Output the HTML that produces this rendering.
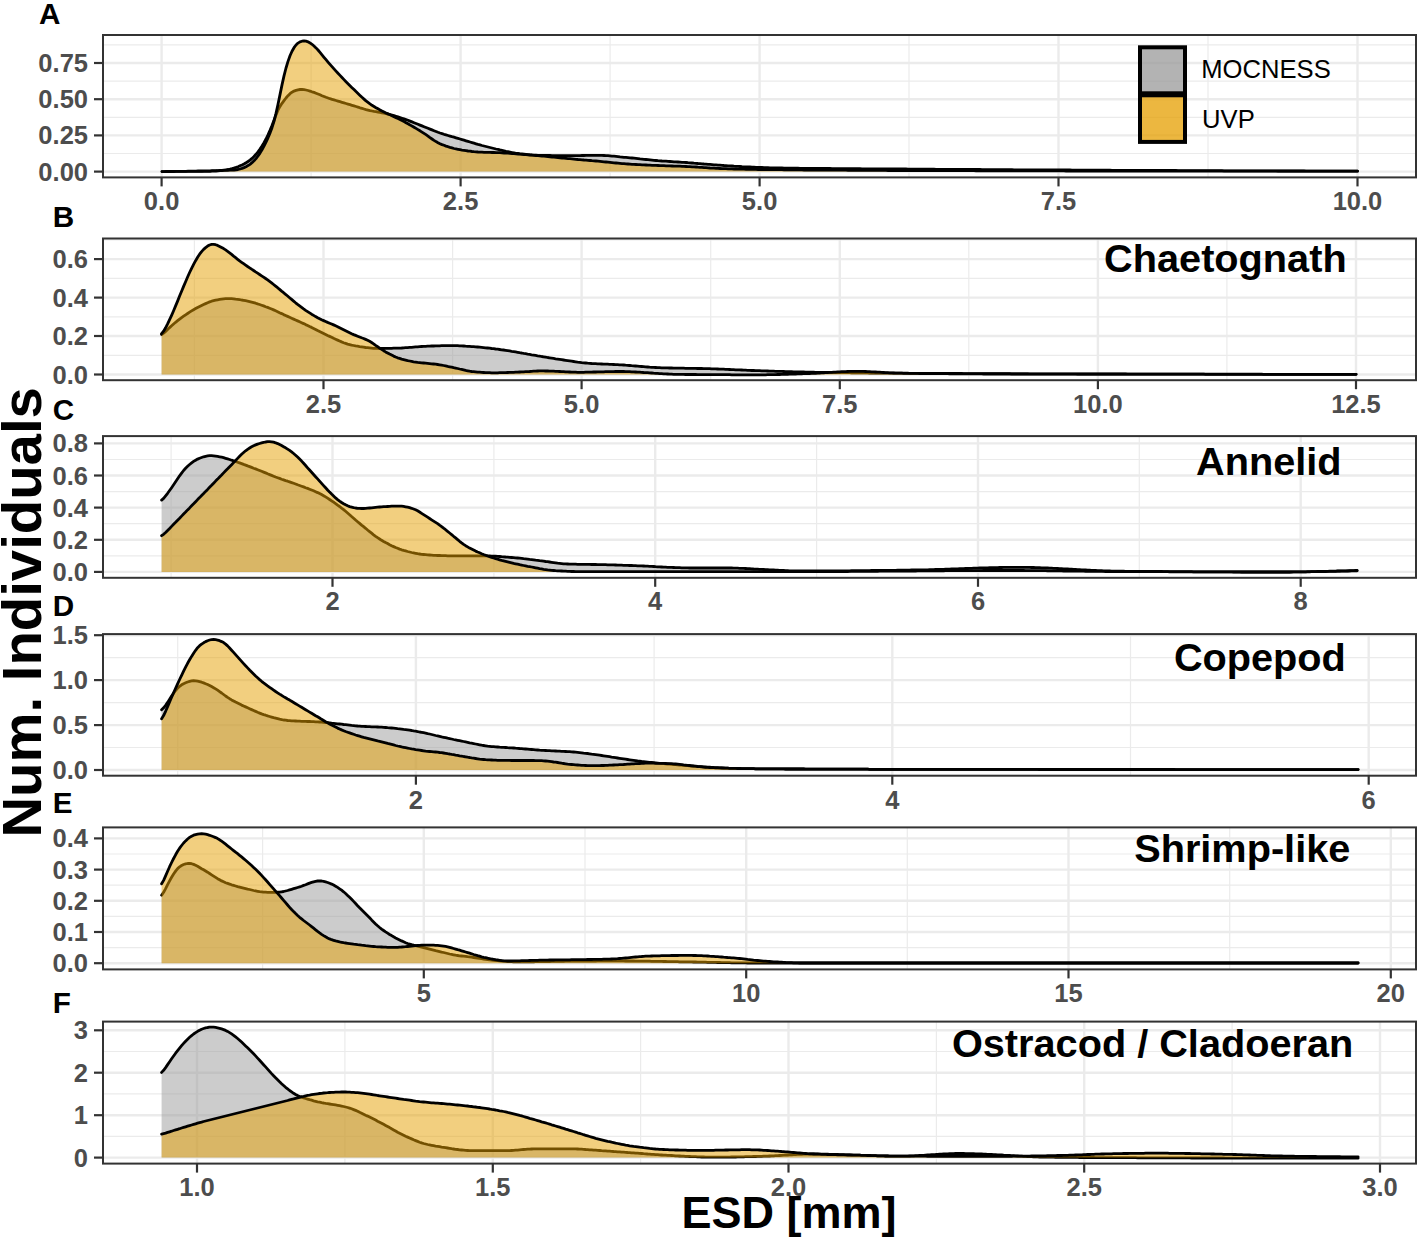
<!DOCTYPE html><html><head><meta charset="utf-8"><style>html,body{margin:0;padding:0;background:#fff;}svg{display:block;}text{font-family:"Liberation Sans",sans-serif;}</style></head><body>
<svg width="1418" height="1238" viewBox="0 0 1418 1238">
<rect width="1418" height="1238" fill="#fff"/>
<line x1="103" x2="1416" y1="153.5" y2="153.5" stroke="#EBEBEB" stroke-width="1.2"/>
<line x1="103" x2="1416" y1="117.3" y2="117.3" stroke="#EBEBEB" stroke-width="1.2"/>
<line x1="103" x2="1416" y1="81.1" y2="81.1" stroke="#EBEBEB" stroke-width="1.2"/>
<line x1="103" x2="1416" y1="44.9" y2="44.9" stroke="#EBEBEB" stroke-width="1.2"/>
<line y1="35.0" y2="177.4" x1="311.1" x2="311.1" stroke="#EBEBEB" stroke-width="1.2"/>
<line y1="35.0" y2="177.4" x1="610.1" x2="610.1" stroke="#EBEBEB" stroke-width="1.2"/>
<line y1="35.0" y2="177.4" x1="909.0" x2="909.0" stroke="#EBEBEB" stroke-width="1.2"/>
<line y1="35.0" y2="177.4" x1="1208.0" x2="1208.0" stroke="#EBEBEB" stroke-width="1.2"/>
<line x1="103" x2="1416" y1="171.6" y2="171.6" stroke="#EBEBEB" stroke-width="2.4"/>
<line x1="103" x2="1416" y1="135.4" y2="135.4" stroke="#EBEBEB" stroke-width="2.4"/>
<line x1="103" x2="1416" y1="99.2" y2="99.2" stroke="#EBEBEB" stroke-width="2.4"/>
<line x1="103" x2="1416" y1="63.0" y2="63.0" stroke="#EBEBEB" stroke-width="2.4"/>
<line y1="35.0" y2="177.4" x1="161.6" x2="161.6" stroke="#EBEBEB" stroke-width="2.4"/>
<line y1="35.0" y2="177.4" x1="460.6" x2="460.6" stroke="#EBEBEB" stroke-width="2.4"/>
<line y1="35.0" y2="177.4" x1="759.6" x2="759.6" stroke="#EBEBEB" stroke-width="2.4"/>
<line y1="35.0" y2="177.4" x1="1058.5" x2="1058.5" stroke="#EBEBEB" stroke-width="2.4"/>
<line y1="35.0" y2="177.4" x1="1357.5" x2="1357.5" stroke="#EBEBEB" stroke-width="2.4"/>
<path d="M162.0,171.6 L164.0,171.6 L166.0,171.5 L168.0,171.5 L170.0,171.5 L172.0,171.5 L174.0,171.5 L176.0,171.4 L178.0,171.4 L180.0,171.4 L182.0,171.4 L184.0,171.4 L186.0,171.3 L188.0,171.3 L190.0,171.3 L192.0,171.3 L194.0,171.3 L196.0,171.3 L198.0,171.3 L200.0,171.3 L202.0,171.3 L204.0,171.3 L206.0,171.3 L208.0,171.3 L210.0,171.3 L212.0,171.2 L214.0,171.1 L216.0,171.0 L218.0,170.8 L220.0,170.6 L222.0,170.4 L224.0,170.1 L226.0,169.8 L228.0,169.5 L230.0,169.1 L232.0,168.6 L234.0,168.0 L236.0,167.4 L238.0,166.7 L240.0,165.8 L242.0,165.0 L244.0,164.0 L246.0,162.8 L248.0,161.5 L250.0,160.1 L252.0,158.4 L254.0,156.5 L256.0,154.3 L258.0,151.8 L260.0,149.1 L262.0,146.0 L264.0,142.7 L266.0,139.0 L268.0,134.9 L270.0,130.4 L272.0,125.5 L274.0,120.2 L276.0,114.9 L278.0,110.2 L280.0,106.4 L282.0,103.3 L284.0,100.6 L286.0,98.0 L288.0,95.7 L290.0,93.7 L292.0,92.2 L294.0,91.1 L296.0,90.4 L298.0,89.8 L300.0,89.5 L302.0,89.4 L304.0,89.6 L306.0,90.0 L308.0,90.5 L310.0,91.1 L312.0,91.8 L314.0,92.4 L316.0,93.2 L318.0,94.0 L320.0,94.8 L322.0,95.7 L324.0,96.5 L326.0,97.3 L328.0,98.0 L330.0,98.7 L332.0,99.3 L334.0,99.9 L336.0,100.5 L338.0,101.1 L340.0,101.7 L342.0,102.3 L344.0,102.9 L346.0,103.5 L348.0,104.1 L350.0,104.7 L352.0,105.3 L354.0,105.9 L356.0,106.5 L358.0,107.1 L360.0,107.8 L362.0,108.4 L364.0,109.0 L366.0,109.6 L368.0,110.1 L370.0,110.6 L372.0,111.0 L374.0,111.4 L376.0,111.7 L378.0,112.1 L380.0,112.4 L382.0,112.8 L384.0,113.2 L386.0,113.7 L388.0,114.2 L390.0,114.7 L392.0,115.2 L394.0,115.7 L396.0,116.3 L398.0,116.9 L400.0,117.5 L402.0,118.2 L404.0,118.9 L406.0,119.6 L408.0,120.3 L410.0,121.1 L412.0,121.9 L414.0,122.7 L416.0,123.5 L418.0,124.3 L420.0,125.1 L422.0,125.9 L424.0,126.7 L426.0,127.5 L428.0,128.3 L430.0,129.1 L432.0,129.9 L434.0,130.7 L436.0,131.5 L438.0,132.3 L440.0,133.0 L442.0,133.6 L444.0,134.3 L446.0,134.9 L448.0,135.5 L450.0,136.1 L452.0,136.7 L454.0,137.2 L456.0,137.8 L458.0,138.4 L460.0,139.0 L462.0,139.6 L464.0,140.2 L466.0,140.8 L468.0,141.4 L470.0,142.0 L472.0,142.6 L474.0,143.2 L476.0,143.8 L478.0,144.4 L480.0,144.9 L482.0,145.5 L484.0,146.0 L486.0,146.5 L488.0,147.0 L490.0,147.5 L492.0,148.0 L494.0,148.5 L496.0,149.0 L498.0,149.4 L500.0,149.9 L502.0,150.3 L504.0,150.8 L506.0,151.3 L508.0,151.7 L510.0,152.1 L512.0,152.5 L514.0,152.9 L516.0,153.3 L518.0,153.5 L520.0,153.8 L522.0,154.0 L524.0,154.2 L526.0,154.4 L528.0,154.6 L530.0,154.8 L532.0,155.0 L534.0,155.1 L536.0,155.2 L538.0,155.3 L540.0,155.3 L542.0,155.4 L544.0,155.4 L546.0,155.5 L548.0,155.5 L550.0,155.5 L552.0,155.6 L554.0,155.6 L556.0,155.6 L558.0,155.6 L560.0,155.7 L562.0,155.7 L564.0,155.7 L566.0,155.7 L568.0,155.7 L570.0,155.7 L572.0,155.7 L574.0,155.7 L576.0,155.6 L578.0,155.6 L580.0,155.6 L582.0,155.5 L584.0,155.5 L586.0,155.4 L588.0,155.4 L590.0,155.4 L592.0,155.3 L594.0,155.3 L596.0,155.3 L598.0,155.3 L600.0,155.3 L602.0,155.4 L604.0,155.5 L606.0,155.6 L608.0,155.7 L610.0,155.9 L612.0,156.1 L614.0,156.2 L616.0,156.4 L618.0,156.6 L620.0,156.9 L622.0,157.1 L624.0,157.3 L626.0,157.4 L628.0,157.6 L630.0,157.8 L632.0,158.0 L634.0,158.2 L636.0,158.4 L638.0,158.6 L640.0,158.9 L642.0,159.1 L644.0,159.3 L646.0,159.5 L648.0,159.7 L650.0,159.9 L652.0,160.1 L654.0,160.3 L656.0,160.5 L658.0,160.7 L660.0,160.8 L662.0,161.0 L664.0,161.1 L666.0,161.2 L668.0,161.4 L670.0,161.5 L672.0,161.6 L674.0,161.8 L676.0,161.9 L678.0,162.0 L680.0,162.1 L682.0,162.3 L684.0,162.4 L686.0,162.5 L688.0,162.7 L690.0,162.8 L692.0,163.0 L694.0,163.2 L696.0,163.3 L698.0,163.5 L700.0,163.6 L702.0,163.8 L704.0,164.0 L706.0,164.1 L708.0,164.3 L710.0,164.4 L712.0,164.6 L714.0,164.8 L716.0,164.9 L718.0,165.1 L720.0,165.2 L722.0,165.3 L724.0,165.5 L726.0,165.6 L728.0,165.8 L730.0,165.9 L732.0,166.0 L734.0,166.2 L736.0,166.3 L738.0,166.4 L740.0,166.5 L742.0,166.7 L744.0,166.8 L746.0,166.9 L748.0,167.0 L750.0,167.0 L752.0,167.1 L754.0,167.2 L756.0,167.3 L758.0,167.4 L760.0,167.4 L762.0,167.5 L764.0,167.6 L766.0,167.7 L768.0,167.7 L770.0,167.8 L772.0,167.8 L774.0,167.9 L776.0,167.9 L778.0,168.0 L780.0,168.0 L782.0,168.0 L784.0,168.1 L786.0,168.1 L788.0,168.1 L790.0,168.1 L792.0,168.2 L794.0,168.2 L796.0,168.2 L798.0,168.2 L800.0,168.3 L802.0,168.3 L804.0,168.3 L806.0,168.3 L808.0,168.3 L810.0,168.4 L812.0,168.4 L814.0,168.4 L816.0,168.4 L818.0,168.4 L820.0,168.5 L822.0,168.5 L824.0,168.5 L826.0,168.5 L828.0,168.5 L830.0,168.5 L832.0,168.6 L834.0,168.6 L836.0,168.6 L838.0,168.6 L840.0,168.6 L842.0,168.6 L844.0,168.6 L846.0,168.7 L848.0,168.7 L850.0,168.7 L852.0,168.7 L854.0,168.7 L856.0,168.7 L858.0,168.7 L860.0,168.7 L862.0,168.8 L864.0,168.8 L866.0,168.8 L868.0,168.8 L870.0,168.8 L872.0,168.8 L874.0,168.8 L876.0,168.8 L878.0,168.9 L880.0,168.9 L882.0,168.9 L884.0,168.9 L886.0,168.9 L888.0,168.9 L890.0,168.9 L892.0,168.9 L894.0,169.0 L896.0,169.0 L898.0,169.0 L900.0,169.0 L902.0,169.0 L904.0,169.0 L906.0,169.0 L908.0,169.1 L910.0,169.1 L912.0,169.1 L914.0,169.1 L916.0,169.1 L918.0,169.1 L920.0,169.1 L922.0,169.2 L924.0,169.2 L926.0,169.2 L928.0,169.2 L930.0,169.2 L932.0,169.2 L934.0,169.2 L936.0,169.3 L938.0,169.3 L940.0,169.3 L942.0,169.3 L944.0,169.3 L946.0,169.3 L948.0,169.3 L950.0,169.3 L952.0,169.4 L954.0,169.4 L956.0,169.4 L958.0,169.4 L960.0,169.4 L962.0,169.4 L964.0,169.4 L966.0,169.5 L968.0,169.5 L970.0,169.5 L972.0,169.5 L974.0,169.5 L976.0,169.5 L978.0,169.5 L980.0,169.5 L982.0,169.6 L984.0,169.6 L986.0,169.6 L988.0,169.6 L990.0,169.6 L992.0,169.6 L994.0,169.6 L996.0,169.6 L998.0,169.7 L1000.0,169.7 L1002.0,169.7 L1004.0,169.7 L1006.0,169.7 L1008.0,169.7 L1010.0,169.7 L1012.0,169.7 L1014.0,169.8 L1016.0,169.8 L1018.0,169.8 L1020.0,169.8 L1022.0,169.8 L1024.0,169.8 L1026.0,169.8 L1028.0,169.8 L1030.0,169.8 L1032.0,169.9 L1034.0,169.9 L1036.0,169.9 L1038.0,169.9 L1040.0,169.9 L1042.0,169.9 L1044.0,169.9 L1046.0,169.9 L1048.0,169.9 L1050.0,169.9 L1052.0,170.0 L1054.0,170.0 L1056.0,170.0 L1058.0,170.0 L1060.0,170.0 L1062.0,170.0 L1064.0,170.0 L1066.0,170.0 L1068.0,170.0 L1070.0,170.0 L1072.0,170.1 L1074.0,170.1 L1076.0,170.1 L1078.0,170.1 L1080.0,170.1 L1082.0,170.1 L1084.0,170.1 L1086.0,170.1 L1088.0,170.1 L1090.0,170.1 L1092.0,170.2 L1094.0,170.2 L1096.0,170.2 L1098.0,170.2 L1100.0,170.2 L1102.0,170.2 L1104.0,170.2 L1106.0,170.2 L1108.0,170.2 L1110.0,170.2 L1112.0,170.3 L1114.0,170.3 L1116.0,170.3 L1118.0,170.3 L1120.0,170.3 L1122.0,170.3 L1124.0,170.3 L1126.0,170.3 L1128.0,170.3 L1130.0,170.3 L1132.0,170.3 L1134.0,170.4 L1136.0,170.4 L1138.0,170.4 L1140.0,170.4 L1142.0,170.4 L1144.0,170.4 L1146.0,170.4 L1148.0,170.4 L1150.0,170.4 L1152.0,170.4 L1154.0,170.5 L1156.0,170.5 L1158.0,170.5 L1160.0,170.5 L1162.0,170.5 L1164.0,170.5 L1166.0,170.5 L1168.0,170.5 L1170.0,170.5 L1172.0,170.5 L1174.0,170.5 L1176.0,170.5 L1178.0,170.6 L1180.0,170.6 L1182.0,170.6 L1184.0,170.6 L1186.0,170.6 L1188.0,170.6 L1190.0,170.6 L1192.0,170.6 L1194.0,170.6 L1196.0,170.6 L1198.0,170.6 L1200.0,170.7 L1202.0,170.7 L1204.0,170.7 L1206.0,170.7 L1208.0,170.7 L1210.0,170.7 L1212.0,170.7 L1214.0,170.7 L1216.0,170.7 L1218.0,170.7 L1220.0,170.7 L1222.0,170.7 L1224.0,170.8 L1226.0,170.8 L1228.0,170.8 L1230.0,170.8 L1232.0,170.8 L1234.0,170.8 L1236.0,170.8 L1238.0,170.8 L1240.0,170.8 L1242.0,170.8 L1244.0,170.8 L1246.0,170.8 L1248.0,170.8 L1250.0,170.9 L1252.0,170.9 L1254.0,170.9 L1256.0,170.9 L1258.0,170.9 L1260.0,170.9 L1262.0,170.9 L1264.0,170.9 L1266.0,170.9 L1268.0,170.9 L1270.0,170.9 L1272.0,170.9 L1274.0,170.9 L1276.0,170.9 L1278.0,171.0 L1280.0,171.0 L1282.0,171.0 L1284.0,171.0 L1286.0,171.0 L1288.0,171.0 L1290.0,171.0 L1292.0,171.0 L1294.0,171.0 L1296.0,171.0 L1298.0,171.0 L1300.0,171.0 L1302.0,171.0 L1304.0,171.0 L1306.0,171.1 L1308.0,171.1 L1310.0,171.1 L1312.0,171.1 L1314.0,171.1 L1316.0,171.1 L1318.0,171.1 L1320.0,171.1 L1322.0,171.1 L1324.0,171.1 L1326.0,171.1 L1328.0,171.1 L1330.0,171.1 L1332.0,171.1 L1334.0,171.1 L1336.0,171.1 L1338.0,171.1 L1340.0,171.2 L1342.0,171.2 L1344.0,171.2 L1346.0,171.2 L1348.0,171.2 L1350.0,171.2 L1352.0,171.2 L1354.0,171.2 L1356.0,171.2 L1357.5,171.2 L1357.5,171.6 L162.0,171.6 Z" fill="#999999" fill-opacity="0.5" stroke="none"/>
<path d="M162.0,171.6 L164.0,171.6 L166.0,171.5 L168.0,171.5 L170.0,171.5 L172.0,171.5 L174.0,171.5 L176.0,171.4 L178.0,171.4 L180.0,171.4 L182.0,171.4 L184.0,171.4 L186.0,171.3 L188.0,171.3 L190.0,171.3 L192.0,171.3 L194.0,171.3 L196.0,171.3 L198.0,171.3 L200.0,171.3 L202.0,171.3 L204.0,171.3 L206.0,171.3 L208.0,171.3 L210.0,171.3 L212.0,171.2 L214.0,171.1 L216.0,171.0 L218.0,170.8 L220.0,170.6 L222.0,170.4 L224.0,170.1 L226.0,169.8 L228.0,169.5 L230.0,169.1 L232.0,168.6 L234.0,168.0 L236.0,167.4 L238.0,166.7 L240.0,165.8 L242.0,165.0 L244.0,164.0 L246.0,162.8 L248.0,161.5 L250.0,160.1 L252.0,158.4 L254.0,156.5 L256.0,154.3 L258.0,151.8 L260.0,149.1 L262.0,146.0 L264.0,142.7 L266.0,139.0 L268.0,134.9 L270.0,130.4 L272.0,125.5 L274.0,120.2 L276.0,114.9 L278.0,110.2 L280.0,106.4 L282.0,103.3 L284.0,100.6 L286.0,98.0 L288.0,95.7 L290.0,93.7 L292.0,92.2 L294.0,91.1 L296.0,90.4 L298.0,89.8 L300.0,89.5 L302.0,89.4 L304.0,89.6 L306.0,90.0 L308.0,90.5 L310.0,91.1 L312.0,91.8 L314.0,92.4 L316.0,93.2 L318.0,94.0 L320.0,94.8 L322.0,95.7 L324.0,96.5 L326.0,97.3 L328.0,98.0 L330.0,98.7 L332.0,99.3 L334.0,99.9 L336.0,100.5 L338.0,101.1 L340.0,101.7 L342.0,102.3 L344.0,102.9 L346.0,103.5 L348.0,104.1 L350.0,104.7 L352.0,105.3 L354.0,105.9 L356.0,106.5 L358.0,107.1 L360.0,107.8 L362.0,108.4 L364.0,109.0 L366.0,109.6 L368.0,110.1 L370.0,110.6 L372.0,111.0 L374.0,111.4 L376.0,111.7 L378.0,112.1 L380.0,112.4 L382.0,112.8 L384.0,113.2 L386.0,113.7 L388.0,114.2 L390.0,114.7 L392.0,115.2 L394.0,115.7 L396.0,116.3 L398.0,116.9 L400.0,117.5 L402.0,118.2 L404.0,118.9 L406.0,119.6 L408.0,120.3 L410.0,121.1 L412.0,121.9 L414.0,122.7 L416.0,123.5 L418.0,124.3 L420.0,125.1 L422.0,125.9 L424.0,126.7 L426.0,127.5 L428.0,128.3 L430.0,129.1 L432.0,129.9 L434.0,130.7 L436.0,131.5 L438.0,132.3 L440.0,133.0 L442.0,133.6 L444.0,134.3 L446.0,134.9 L448.0,135.5 L450.0,136.1 L452.0,136.7 L454.0,137.2 L456.0,137.8 L458.0,138.4 L460.0,139.0 L462.0,139.6 L464.0,140.2 L466.0,140.8 L468.0,141.4 L470.0,142.0 L472.0,142.6 L474.0,143.2 L476.0,143.8 L478.0,144.4 L480.0,144.9 L482.0,145.5 L484.0,146.0 L486.0,146.5 L488.0,147.0 L490.0,147.5 L492.0,148.0 L494.0,148.5 L496.0,149.0 L498.0,149.4 L500.0,149.9 L502.0,150.3 L504.0,150.8 L506.0,151.3 L508.0,151.7 L510.0,152.1 L512.0,152.5 L514.0,152.9 L516.0,153.3 L518.0,153.5 L520.0,153.8 L522.0,154.0 L524.0,154.2 L526.0,154.4 L528.0,154.6 L530.0,154.8 L532.0,155.0 L534.0,155.1 L536.0,155.2 L538.0,155.3 L540.0,155.3 L542.0,155.4 L544.0,155.4 L546.0,155.5 L548.0,155.5 L550.0,155.5 L552.0,155.6 L554.0,155.6 L556.0,155.6 L558.0,155.6 L560.0,155.7 L562.0,155.7 L564.0,155.7 L566.0,155.7 L568.0,155.7 L570.0,155.7 L572.0,155.7 L574.0,155.7 L576.0,155.6 L578.0,155.6 L580.0,155.6 L582.0,155.5 L584.0,155.5 L586.0,155.4 L588.0,155.4 L590.0,155.4 L592.0,155.3 L594.0,155.3 L596.0,155.3 L598.0,155.3 L600.0,155.3 L602.0,155.4 L604.0,155.5 L606.0,155.6 L608.0,155.7 L610.0,155.9 L612.0,156.1 L614.0,156.2 L616.0,156.4 L618.0,156.6 L620.0,156.9 L622.0,157.1 L624.0,157.3 L626.0,157.4 L628.0,157.6 L630.0,157.8 L632.0,158.0 L634.0,158.2 L636.0,158.4 L638.0,158.6 L640.0,158.9 L642.0,159.1 L644.0,159.3 L646.0,159.5 L648.0,159.7 L650.0,159.9 L652.0,160.1 L654.0,160.3 L656.0,160.5 L658.0,160.7 L660.0,160.8 L662.0,161.0 L664.0,161.1 L666.0,161.2 L668.0,161.4 L670.0,161.5 L672.0,161.6 L674.0,161.8 L676.0,161.9 L678.0,162.0 L680.0,162.1 L682.0,162.3 L684.0,162.4 L686.0,162.5 L688.0,162.7 L690.0,162.8 L692.0,163.0 L694.0,163.2 L696.0,163.3 L698.0,163.5 L700.0,163.6 L702.0,163.8 L704.0,164.0 L706.0,164.1 L708.0,164.3 L710.0,164.4 L712.0,164.6 L714.0,164.8 L716.0,164.9 L718.0,165.1 L720.0,165.2 L722.0,165.3 L724.0,165.5 L726.0,165.6 L728.0,165.8 L730.0,165.9 L732.0,166.0 L734.0,166.2 L736.0,166.3 L738.0,166.4 L740.0,166.5 L742.0,166.7 L744.0,166.8 L746.0,166.9 L748.0,167.0 L750.0,167.0 L752.0,167.1 L754.0,167.2 L756.0,167.3 L758.0,167.4 L760.0,167.4 L762.0,167.5 L764.0,167.6 L766.0,167.7 L768.0,167.7 L770.0,167.8 L772.0,167.8 L774.0,167.9 L776.0,167.9 L778.0,168.0 L780.0,168.0 L782.0,168.0 L784.0,168.1 L786.0,168.1 L788.0,168.1 L790.0,168.1 L792.0,168.2 L794.0,168.2 L796.0,168.2 L798.0,168.2 L800.0,168.3 L802.0,168.3 L804.0,168.3 L806.0,168.3 L808.0,168.3 L810.0,168.4 L812.0,168.4 L814.0,168.4 L816.0,168.4 L818.0,168.4 L820.0,168.5 L822.0,168.5 L824.0,168.5 L826.0,168.5 L828.0,168.5 L830.0,168.5 L832.0,168.6 L834.0,168.6 L836.0,168.6 L838.0,168.6 L840.0,168.6 L842.0,168.6 L844.0,168.6 L846.0,168.7 L848.0,168.7 L850.0,168.7 L852.0,168.7 L854.0,168.7 L856.0,168.7 L858.0,168.7 L860.0,168.7 L862.0,168.8 L864.0,168.8 L866.0,168.8 L868.0,168.8 L870.0,168.8 L872.0,168.8 L874.0,168.8 L876.0,168.8 L878.0,168.9 L880.0,168.9 L882.0,168.9 L884.0,168.9 L886.0,168.9 L888.0,168.9 L890.0,168.9 L892.0,168.9 L894.0,169.0 L896.0,169.0 L898.0,169.0 L900.0,169.0 L902.0,169.0 L904.0,169.0 L906.0,169.0 L908.0,169.1 L910.0,169.1 L912.0,169.1 L914.0,169.1 L916.0,169.1 L918.0,169.1 L920.0,169.1 L922.0,169.2 L924.0,169.2 L926.0,169.2 L928.0,169.2 L930.0,169.2 L932.0,169.2 L934.0,169.2 L936.0,169.3 L938.0,169.3 L940.0,169.3 L942.0,169.3 L944.0,169.3 L946.0,169.3 L948.0,169.3 L950.0,169.3 L952.0,169.4 L954.0,169.4 L956.0,169.4 L958.0,169.4 L960.0,169.4 L962.0,169.4 L964.0,169.4 L966.0,169.5 L968.0,169.5 L970.0,169.5 L972.0,169.5 L974.0,169.5 L976.0,169.5 L978.0,169.5 L980.0,169.5 L982.0,169.6 L984.0,169.6 L986.0,169.6 L988.0,169.6 L990.0,169.6 L992.0,169.6 L994.0,169.6 L996.0,169.6 L998.0,169.7 L1000.0,169.7 L1002.0,169.7 L1004.0,169.7 L1006.0,169.7 L1008.0,169.7 L1010.0,169.7 L1012.0,169.7 L1014.0,169.8 L1016.0,169.8 L1018.0,169.8 L1020.0,169.8 L1022.0,169.8 L1024.0,169.8 L1026.0,169.8 L1028.0,169.8 L1030.0,169.8 L1032.0,169.9 L1034.0,169.9 L1036.0,169.9 L1038.0,169.9 L1040.0,169.9 L1042.0,169.9 L1044.0,169.9 L1046.0,169.9 L1048.0,169.9 L1050.0,169.9 L1052.0,170.0 L1054.0,170.0 L1056.0,170.0 L1058.0,170.0 L1060.0,170.0 L1062.0,170.0 L1064.0,170.0 L1066.0,170.0 L1068.0,170.0 L1070.0,170.0 L1072.0,170.1 L1074.0,170.1 L1076.0,170.1 L1078.0,170.1 L1080.0,170.1 L1082.0,170.1 L1084.0,170.1 L1086.0,170.1 L1088.0,170.1 L1090.0,170.1 L1092.0,170.2 L1094.0,170.2 L1096.0,170.2 L1098.0,170.2 L1100.0,170.2 L1102.0,170.2 L1104.0,170.2 L1106.0,170.2 L1108.0,170.2 L1110.0,170.2 L1112.0,170.3 L1114.0,170.3 L1116.0,170.3 L1118.0,170.3 L1120.0,170.3 L1122.0,170.3 L1124.0,170.3 L1126.0,170.3 L1128.0,170.3 L1130.0,170.3 L1132.0,170.3 L1134.0,170.4 L1136.0,170.4 L1138.0,170.4 L1140.0,170.4 L1142.0,170.4 L1144.0,170.4 L1146.0,170.4 L1148.0,170.4 L1150.0,170.4 L1152.0,170.4 L1154.0,170.5 L1156.0,170.5 L1158.0,170.5 L1160.0,170.5 L1162.0,170.5 L1164.0,170.5 L1166.0,170.5 L1168.0,170.5 L1170.0,170.5 L1172.0,170.5 L1174.0,170.5 L1176.0,170.5 L1178.0,170.6 L1180.0,170.6 L1182.0,170.6 L1184.0,170.6 L1186.0,170.6 L1188.0,170.6 L1190.0,170.6 L1192.0,170.6 L1194.0,170.6 L1196.0,170.6 L1198.0,170.6 L1200.0,170.7 L1202.0,170.7 L1204.0,170.7 L1206.0,170.7 L1208.0,170.7 L1210.0,170.7 L1212.0,170.7 L1214.0,170.7 L1216.0,170.7 L1218.0,170.7 L1220.0,170.7 L1222.0,170.7 L1224.0,170.8 L1226.0,170.8 L1228.0,170.8 L1230.0,170.8 L1232.0,170.8 L1234.0,170.8 L1236.0,170.8 L1238.0,170.8 L1240.0,170.8 L1242.0,170.8 L1244.0,170.8 L1246.0,170.8 L1248.0,170.8 L1250.0,170.9 L1252.0,170.9 L1254.0,170.9 L1256.0,170.9 L1258.0,170.9 L1260.0,170.9 L1262.0,170.9 L1264.0,170.9 L1266.0,170.9 L1268.0,170.9 L1270.0,170.9 L1272.0,170.9 L1274.0,170.9 L1276.0,170.9 L1278.0,171.0 L1280.0,171.0 L1282.0,171.0 L1284.0,171.0 L1286.0,171.0 L1288.0,171.0 L1290.0,171.0 L1292.0,171.0 L1294.0,171.0 L1296.0,171.0 L1298.0,171.0 L1300.0,171.0 L1302.0,171.0 L1304.0,171.0 L1306.0,171.1 L1308.0,171.1 L1310.0,171.1 L1312.0,171.1 L1314.0,171.1 L1316.0,171.1 L1318.0,171.1 L1320.0,171.1 L1322.0,171.1 L1324.0,171.1 L1326.0,171.1 L1328.0,171.1 L1330.0,171.1 L1332.0,171.1 L1334.0,171.1 L1336.0,171.1 L1338.0,171.1 L1340.0,171.2 L1342.0,171.2 L1344.0,171.2 L1346.0,171.2 L1348.0,171.2 L1350.0,171.2 L1352.0,171.2 L1354.0,171.2 L1356.0,171.2 L1357.5,171.2" fill="none" stroke="#000" stroke-width="2.8" stroke-linejoin="round" stroke-linecap="round"/>
<path d="M162.0,171.6 L164.0,171.6 L166.0,171.6 L168.0,171.5 L170.0,171.5 L172.0,171.5 L174.0,171.4 L176.0,171.4 L178.0,171.4 L180.0,171.4 L182.0,171.3 L184.0,171.3 L186.0,171.3 L188.0,171.2 L190.0,171.2 L192.0,171.2 L194.0,171.1 L196.0,171.1 L198.0,171.0 L200.0,171.0 L202.0,171.0 L204.0,170.9 L206.0,170.9 L208.0,170.8 L210.0,170.8 L212.0,170.7 L214.0,170.7 L216.0,170.6 L218.0,170.6 L220.0,170.5 L222.0,170.5 L224.0,170.4 L226.0,170.4 L228.0,170.3 L230.0,170.2 L232.0,170.2 L234.0,170.0 L236.0,169.8 L238.0,169.5 L240.0,169.0 L242.0,168.4 L244.0,167.6 L246.0,166.7 L248.0,165.6 L250.0,164.3 L252.0,162.7 L254.0,160.8 L256.0,158.6 L258.0,156.0 L260.0,153.1 L262.0,149.8 L264.0,146.1 L266.0,142.1 L268.0,137.8 L270.0,133.1 L272.0,127.7 L274.0,121.3 L276.0,113.4 L278.0,104.4 L280.0,94.6 L282.0,84.9 L284.0,75.9 L286.0,68.0 L288.0,61.4 L290.0,55.8 L292.0,51.3 L294.0,47.7 L296.0,45.0 L298.0,43.1 L300.0,41.9 L302.0,41.2 L304.0,41.0 L306.0,41.2 L308.0,41.8 L310.0,42.9 L312.0,44.3 L314.0,46.0 L316.0,47.9 L318.0,50.0 L320.0,52.4 L322.0,54.8 L324.0,57.3 L326.0,59.7 L328.0,62.1 L330.0,64.4 L332.0,66.6 L334.0,68.9 L336.0,71.1 L338.0,73.3 L340.0,75.4 L342.0,77.5 L344.0,79.6 L346.0,81.7 L348.0,83.7 L350.0,85.7 L352.0,87.7 L354.0,89.6 L356.0,91.6 L358.0,93.5 L360.0,95.4 L362.0,97.3 L364.0,99.1 L366.0,100.9 L368.0,102.4 L370.0,103.9 L372.0,105.3 L374.0,106.5 L376.0,107.7 L378.0,108.8 L380.0,109.9 L382.0,111.0 L384.0,112.0 L386.0,113.0 L388.0,113.9 L390.0,114.8 L392.0,115.7 L394.0,116.7 L396.0,117.6 L398.0,118.5 L400.0,119.5 L402.0,120.6 L404.0,121.6 L406.0,122.7 L408.0,123.8 L410.0,124.9 L412.0,126.1 L414.0,127.2 L416.0,128.4 L418.0,129.6 L420.0,130.8 L422.0,132.1 L424.0,133.4 L426.0,134.7 L428.0,136.1 L430.0,137.6 L432.0,139.0 L434.0,140.4 L436.0,141.6 L438.0,142.7 L440.0,143.7 L442.0,144.6 L444.0,145.3 L446.0,146.1 L448.0,146.7 L450.0,147.4 L452.0,147.9 L454.0,148.5 L456.0,148.9 L458.0,149.3 L460.0,149.7 L462.0,150.1 L464.0,150.4 L466.0,150.7 L468.0,151.0 L470.0,151.2 L472.0,151.5 L474.0,151.7 L476.0,151.8 L478.0,152.0 L480.0,152.1 L482.0,152.2 L484.0,152.3 L486.0,152.3 L488.0,152.4 L490.0,152.4 L492.0,152.5 L494.0,152.5 L496.0,152.6 L498.0,152.7 L500.0,152.7 L502.0,152.9 L504.0,153.0 L506.0,153.1 L508.0,153.2 L510.0,153.4 L512.0,153.5 L514.0,153.7 L516.0,153.9 L518.0,154.0 L520.0,154.2 L522.0,154.3 L524.0,154.5 L526.0,154.6 L528.0,154.8 L530.0,155.0 L532.0,155.1 L534.0,155.3 L536.0,155.5 L538.0,155.6 L540.0,155.8 L542.0,156.0 L544.0,156.2 L546.0,156.4 L548.0,156.6 L550.0,156.8 L552.0,157.0 L554.0,157.2 L556.0,157.4 L558.0,157.6 L560.0,157.8 L562.0,158.0 L564.0,158.2 L566.0,158.4 L568.0,158.6 L570.0,158.7 L572.0,158.9 L574.0,159.1 L576.0,159.3 L578.0,159.5 L580.0,159.6 L582.0,159.8 L584.0,160.0 L586.0,160.1 L588.0,160.3 L590.0,160.5 L592.0,160.7 L594.0,160.8 L596.0,161.0 L598.0,161.2 L600.0,161.4 L602.0,161.6 L604.0,161.8 L606.0,162.0 L608.0,162.2 L610.0,162.4 L612.0,162.6 L614.0,162.8 L616.0,163.0 L618.0,163.2 L620.0,163.4 L622.0,163.6 L624.0,163.7 L626.0,163.9 L628.0,164.0 L630.0,164.1 L632.0,164.3 L634.0,164.4 L636.0,164.5 L638.0,164.6 L640.0,164.7 L642.0,164.8 L644.0,164.9 L646.0,165.0 L648.0,165.1 L650.0,165.2 L652.0,165.3 L654.0,165.4 L656.0,165.4 L658.0,165.5 L660.0,165.6 L662.0,165.7 L664.0,165.7 L666.0,165.8 L668.0,165.9 L670.0,165.9 L672.0,166.0 L674.0,166.1 L676.0,166.1 L678.0,166.2 L680.0,166.2 L682.0,166.3 L684.0,166.4 L686.0,166.5 L688.0,166.6 L690.0,166.7 L692.0,166.8 L694.0,166.9 L696.0,167.0 L698.0,167.2 L700.0,167.3 L702.0,167.4 L704.0,167.6 L706.0,167.7 L708.0,167.8 L710.0,168.0 L712.0,168.1 L714.0,168.2 L716.0,168.3 L718.0,168.4 L720.0,168.5 L722.0,168.6 L724.0,168.6 L726.0,168.7 L728.0,168.8 L730.0,168.8 L732.0,168.9 L734.0,169.0 L736.0,169.0 L738.0,169.1 L740.0,169.1 L742.0,169.2 L744.0,169.2 L746.0,169.3 L748.0,169.3 L750.0,169.3 L752.0,169.4 L754.0,169.4 L756.0,169.4 L758.0,169.5 L760.0,169.5 L762.0,169.5 L764.0,169.5 L766.0,169.6 L768.0,169.6 L770.0,169.6 L772.0,169.6 L774.0,169.7 L776.0,169.7 L778.0,169.7 L780.0,169.7 L782.0,169.7 L784.0,169.8 L786.0,169.8 L788.0,169.8 L790.0,169.8 L792.0,169.8 L794.0,169.9 L796.0,169.9 L798.0,169.9 L800.0,169.9 L802.0,169.9 L804.0,170.0 L806.0,170.0 L808.0,170.0 L810.0,170.0 L812.0,170.0 L814.0,170.0 L816.0,170.1 L818.0,170.1 L820.0,170.1 L822.0,170.1 L824.0,170.1 L826.0,170.1 L828.0,170.1 L830.0,170.1 L832.0,170.2 L834.0,170.2 L836.0,170.2 L838.0,170.2 L840.0,170.2 L842.0,170.2 L844.0,170.2 L846.0,170.2 L848.0,170.3 L850.0,170.3 L852.0,170.3 L854.0,170.3 L856.0,170.3 L858.0,170.3 L860.0,170.3 L862.0,170.3 L864.0,170.3 L866.0,170.4 L868.0,170.4 L870.0,170.4 L872.0,170.4 L874.0,170.4 L876.0,170.4 L878.0,170.4 L880.0,170.4 L882.0,170.4 L884.0,170.4 L886.0,170.4 L888.0,170.5 L890.0,170.5 L892.0,170.5 L894.0,170.5 L896.0,170.5 L898.0,170.5 L900.0,170.5 L902.0,170.5 L904.0,170.5 L906.0,170.5 L908.0,170.5 L910.0,170.5 L912.0,170.5 L914.0,170.6 L916.0,170.6 L918.0,170.6 L920.0,170.6 L922.0,170.6 L924.0,170.6 L926.0,170.6 L928.0,170.6 L930.0,170.6 L932.0,170.6 L934.0,170.6 L936.0,170.6 L938.0,170.6 L940.0,170.6 L942.0,170.6 L944.0,170.7 L946.0,170.7 L948.0,170.7 L950.0,170.7 L952.0,170.7 L954.0,170.7 L956.0,170.7 L958.0,170.7 L960.0,170.7 L962.0,170.7 L964.0,170.7 L966.0,170.7 L968.0,170.7 L970.0,170.7 L972.0,170.7 L974.0,170.7 L976.0,170.8 L978.0,170.8 L980.0,170.8 L982.0,170.8 L984.0,170.8 L986.0,170.8 L988.0,170.8 L990.0,170.8 L992.0,170.8 L994.0,170.8 L996.0,170.8 L998.0,170.8 L1000.0,170.8 L1002.0,170.8 L1004.0,170.8 L1006.0,170.8 L1008.0,170.8 L1010.0,170.8 L1012.0,170.8 L1014.0,170.8 L1016.0,170.9 L1018.0,170.9 L1020.0,170.9 L1022.0,170.9 L1024.0,170.9 L1026.0,170.9 L1028.0,170.9 L1030.0,170.9 L1032.0,170.9 L1034.0,170.9 L1036.0,170.9 L1038.0,170.9 L1040.0,170.9 L1042.0,170.9 L1044.0,170.9 L1046.0,170.9 L1048.0,170.9 L1050.0,170.9 L1052.0,170.9 L1054.0,170.9 L1056.0,170.9 L1058.0,170.9 L1060.0,170.9 L1062.0,170.9 L1064.0,170.9 L1066.0,171.0 L1068.0,171.0 L1070.0,171.0 L1072.0,171.0 L1074.0,171.0 L1076.0,171.0 L1078.0,171.0 L1080.0,171.0 L1082.0,171.0 L1084.0,171.0 L1086.0,171.0 L1088.0,171.0 L1090.0,171.0 L1092.0,171.0 L1094.0,171.0 L1096.0,171.0 L1098.0,171.0 L1100.0,171.0 L1102.0,171.0 L1104.0,171.0 L1106.0,171.0 L1108.0,171.0 L1110.0,171.0 L1112.0,171.0 L1114.0,171.0 L1116.0,171.0 L1118.0,171.0 L1120.0,171.0 L1122.0,171.0 L1124.0,171.0 L1126.0,171.0 L1128.0,171.0 L1130.0,171.0 L1132.0,171.0 L1134.0,171.0 L1136.0,171.0 L1138.0,171.0 L1140.0,171.0 L1142.0,171.0 L1144.0,171.1 L1146.0,171.1 L1148.0,171.1 L1150.0,171.1 L1152.0,171.1 L1154.0,171.1 L1156.0,171.1 L1158.0,171.1 L1160.0,171.1 L1162.0,171.1 L1164.0,171.1 L1166.0,171.1 L1168.0,171.1 L1170.0,171.1 L1172.0,171.1 L1174.0,171.1 L1176.0,171.1 L1178.0,171.1 L1180.0,171.1 L1182.0,171.1 L1184.0,171.1 L1186.0,171.1 L1188.0,171.1 L1190.0,171.1 L1192.0,171.1 L1194.0,171.1 L1196.0,171.1 L1198.0,171.1 L1200.0,171.1 L1202.0,171.1 L1204.0,171.1 L1206.0,171.1 L1208.0,171.1 L1210.0,171.1 L1212.0,171.1 L1214.0,171.1 L1216.0,171.1 L1218.0,171.1 L1220.0,171.1 L1222.0,171.1 L1224.0,171.1 L1226.0,171.1 L1228.0,171.1 L1230.0,171.1 L1232.0,171.1 L1234.0,171.1 L1236.0,171.1 L1238.0,171.1 L1240.0,171.1 L1242.0,171.1 L1244.0,171.2 L1246.0,171.2 L1248.0,171.2 L1250.0,171.2 L1252.0,171.2 L1254.0,171.2 L1256.0,171.2 L1258.0,171.2 L1260.0,171.2 L1262.0,171.2 L1264.0,171.2 L1266.0,171.2 L1268.0,171.2 L1270.0,171.2 L1272.0,171.2 L1274.0,171.2 L1276.0,171.2 L1278.0,171.2 L1280.0,171.2 L1282.0,171.2 L1284.0,171.2 L1286.0,171.2 L1288.0,171.2 L1290.0,171.2 L1292.0,171.2 L1294.0,171.2 L1296.0,171.2 L1298.0,171.2 L1300.0,171.2 L1302.0,171.2 L1304.0,171.2 L1306.0,171.2 L1308.0,171.2 L1310.0,171.2 L1312.0,171.2 L1314.0,171.2 L1316.0,171.2 L1318.0,171.2 L1320.0,171.2 L1322.0,171.2 L1324.0,171.2 L1326.0,171.2 L1328.0,171.2 L1330.0,171.2 L1332.0,171.2 L1334.0,171.2 L1336.0,171.2 L1338.0,171.2 L1340.0,171.2 L1342.0,171.2 L1344.0,171.2 L1346.0,171.2 L1348.0,171.2 L1350.0,171.2 L1352.0,171.2 L1354.0,171.2 L1356.0,171.2 L1357.5,171.2 L1357.5,171.6 L162.0,171.6 Z" fill="#E69F00" fill-opacity="0.5" stroke="none"/>
<path d="M162.0,171.6 L164.0,171.6 L166.0,171.6 L168.0,171.5 L170.0,171.5 L172.0,171.5 L174.0,171.4 L176.0,171.4 L178.0,171.4 L180.0,171.4 L182.0,171.3 L184.0,171.3 L186.0,171.3 L188.0,171.2 L190.0,171.2 L192.0,171.2 L194.0,171.1 L196.0,171.1 L198.0,171.0 L200.0,171.0 L202.0,171.0 L204.0,170.9 L206.0,170.9 L208.0,170.8 L210.0,170.8 L212.0,170.7 L214.0,170.7 L216.0,170.6 L218.0,170.6 L220.0,170.5 L222.0,170.5 L224.0,170.4 L226.0,170.4 L228.0,170.3 L230.0,170.2 L232.0,170.2 L234.0,170.0 L236.0,169.8 L238.0,169.5 L240.0,169.0 L242.0,168.4 L244.0,167.6 L246.0,166.7 L248.0,165.6 L250.0,164.3 L252.0,162.7 L254.0,160.8 L256.0,158.6 L258.0,156.0 L260.0,153.1 L262.0,149.8 L264.0,146.1 L266.0,142.1 L268.0,137.8 L270.0,133.1 L272.0,127.7 L274.0,121.3 L276.0,113.4 L278.0,104.4 L280.0,94.6 L282.0,84.9 L284.0,75.9 L286.0,68.0 L288.0,61.4 L290.0,55.8 L292.0,51.3 L294.0,47.7 L296.0,45.0 L298.0,43.1 L300.0,41.9 L302.0,41.2 L304.0,41.0 L306.0,41.2 L308.0,41.8 L310.0,42.9 L312.0,44.3 L314.0,46.0 L316.0,47.9 L318.0,50.0 L320.0,52.4 L322.0,54.8 L324.0,57.3 L326.0,59.7 L328.0,62.1 L330.0,64.4 L332.0,66.6 L334.0,68.9 L336.0,71.1 L338.0,73.3 L340.0,75.4 L342.0,77.5 L344.0,79.6 L346.0,81.7 L348.0,83.7 L350.0,85.7 L352.0,87.7 L354.0,89.6 L356.0,91.6 L358.0,93.5 L360.0,95.4 L362.0,97.3 L364.0,99.1 L366.0,100.9 L368.0,102.4 L370.0,103.9 L372.0,105.3 L374.0,106.5 L376.0,107.7 L378.0,108.8 L380.0,109.9 L382.0,111.0 L384.0,112.0 L386.0,113.0 L388.0,113.9 L390.0,114.8 L392.0,115.7 L394.0,116.7 L396.0,117.6 L398.0,118.5 L400.0,119.5 L402.0,120.6 L404.0,121.6 L406.0,122.7 L408.0,123.8 L410.0,124.9 L412.0,126.1 L414.0,127.2 L416.0,128.4 L418.0,129.6 L420.0,130.8 L422.0,132.1 L424.0,133.4 L426.0,134.7 L428.0,136.1 L430.0,137.6 L432.0,139.0 L434.0,140.4 L436.0,141.6 L438.0,142.7 L440.0,143.7 L442.0,144.6 L444.0,145.3 L446.0,146.1 L448.0,146.7 L450.0,147.4 L452.0,147.9 L454.0,148.5 L456.0,148.9 L458.0,149.3 L460.0,149.7 L462.0,150.1 L464.0,150.4 L466.0,150.7 L468.0,151.0 L470.0,151.2 L472.0,151.5 L474.0,151.7 L476.0,151.8 L478.0,152.0 L480.0,152.1 L482.0,152.2 L484.0,152.3 L486.0,152.3 L488.0,152.4 L490.0,152.4 L492.0,152.5 L494.0,152.5 L496.0,152.6 L498.0,152.7 L500.0,152.7 L502.0,152.9 L504.0,153.0 L506.0,153.1 L508.0,153.2 L510.0,153.4 L512.0,153.5 L514.0,153.7 L516.0,153.9 L518.0,154.0 L520.0,154.2 L522.0,154.3 L524.0,154.5 L526.0,154.6 L528.0,154.8 L530.0,155.0 L532.0,155.1 L534.0,155.3 L536.0,155.5 L538.0,155.6 L540.0,155.8 L542.0,156.0 L544.0,156.2 L546.0,156.4 L548.0,156.6 L550.0,156.8 L552.0,157.0 L554.0,157.2 L556.0,157.4 L558.0,157.6 L560.0,157.8 L562.0,158.0 L564.0,158.2 L566.0,158.4 L568.0,158.6 L570.0,158.7 L572.0,158.9 L574.0,159.1 L576.0,159.3 L578.0,159.5 L580.0,159.6 L582.0,159.8 L584.0,160.0 L586.0,160.1 L588.0,160.3 L590.0,160.5 L592.0,160.7 L594.0,160.8 L596.0,161.0 L598.0,161.2 L600.0,161.4 L602.0,161.6 L604.0,161.8 L606.0,162.0 L608.0,162.2 L610.0,162.4 L612.0,162.6 L614.0,162.8 L616.0,163.0 L618.0,163.2 L620.0,163.4 L622.0,163.6 L624.0,163.7 L626.0,163.9 L628.0,164.0 L630.0,164.1 L632.0,164.3 L634.0,164.4 L636.0,164.5 L638.0,164.6 L640.0,164.7 L642.0,164.8 L644.0,164.9 L646.0,165.0 L648.0,165.1 L650.0,165.2 L652.0,165.3 L654.0,165.4 L656.0,165.4 L658.0,165.5 L660.0,165.6 L662.0,165.7 L664.0,165.7 L666.0,165.8 L668.0,165.9 L670.0,165.9 L672.0,166.0 L674.0,166.1 L676.0,166.1 L678.0,166.2 L680.0,166.2 L682.0,166.3 L684.0,166.4 L686.0,166.5 L688.0,166.6 L690.0,166.7 L692.0,166.8 L694.0,166.9 L696.0,167.0 L698.0,167.2 L700.0,167.3 L702.0,167.4 L704.0,167.6 L706.0,167.7 L708.0,167.8 L710.0,168.0 L712.0,168.1 L714.0,168.2 L716.0,168.3 L718.0,168.4 L720.0,168.5 L722.0,168.6 L724.0,168.6 L726.0,168.7 L728.0,168.8 L730.0,168.8 L732.0,168.9 L734.0,169.0 L736.0,169.0 L738.0,169.1 L740.0,169.1 L742.0,169.2 L744.0,169.2 L746.0,169.3 L748.0,169.3 L750.0,169.3 L752.0,169.4 L754.0,169.4 L756.0,169.4 L758.0,169.5 L760.0,169.5 L762.0,169.5 L764.0,169.5 L766.0,169.6 L768.0,169.6 L770.0,169.6 L772.0,169.6 L774.0,169.7 L776.0,169.7 L778.0,169.7 L780.0,169.7 L782.0,169.7 L784.0,169.8 L786.0,169.8 L788.0,169.8 L790.0,169.8 L792.0,169.8 L794.0,169.9 L796.0,169.9 L798.0,169.9 L800.0,169.9 L802.0,169.9 L804.0,170.0 L806.0,170.0 L808.0,170.0 L810.0,170.0 L812.0,170.0 L814.0,170.0 L816.0,170.1 L818.0,170.1 L820.0,170.1 L822.0,170.1 L824.0,170.1 L826.0,170.1 L828.0,170.1 L830.0,170.1 L832.0,170.2 L834.0,170.2 L836.0,170.2 L838.0,170.2 L840.0,170.2 L842.0,170.2 L844.0,170.2 L846.0,170.2 L848.0,170.3 L850.0,170.3 L852.0,170.3 L854.0,170.3 L856.0,170.3 L858.0,170.3 L860.0,170.3 L862.0,170.3 L864.0,170.3 L866.0,170.4 L868.0,170.4 L870.0,170.4 L872.0,170.4 L874.0,170.4 L876.0,170.4 L878.0,170.4 L880.0,170.4 L882.0,170.4 L884.0,170.4 L886.0,170.4 L888.0,170.5 L890.0,170.5 L892.0,170.5 L894.0,170.5 L896.0,170.5 L898.0,170.5 L900.0,170.5 L902.0,170.5 L904.0,170.5 L906.0,170.5 L908.0,170.5 L910.0,170.5 L912.0,170.5 L914.0,170.6 L916.0,170.6 L918.0,170.6 L920.0,170.6 L922.0,170.6 L924.0,170.6 L926.0,170.6 L928.0,170.6 L930.0,170.6 L932.0,170.6 L934.0,170.6 L936.0,170.6 L938.0,170.6 L940.0,170.6 L942.0,170.6 L944.0,170.7 L946.0,170.7 L948.0,170.7 L950.0,170.7 L952.0,170.7 L954.0,170.7 L956.0,170.7 L958.0,170.7 L960.0,170.7 L962.0,170.7 L964.0,170.7 L966.0,170.7 L968.0,170.7 L970.0,170.7 L972.0,170.7 L974.0,170.7 L976.0,170.8 L978.0,170.8 L980.0,170.8 L982.0,170.8 L984.0,170.8 L986.0,170.8 L988.0,170.8 L990.0,170.8 L992.0,170.8 L994.0,170.8 L996.0,170.8 L998.0,170.8 L1000.0,170.8 L1002.0,170.8 L1004.0,170.8 L1006.0,170.8 L1008.0,170.8 L1010.0,170.8 L1012.0,170.8 L1014.0,170.8 L1016.0,170.9 L1018.0,170.9 L1020.0,170.9 L1022.0,170.9 L1024.0,170.9 L1026.0,170.9 L1028.0,170.9 L1030.0,170.9 L1032.0,170.9 L1034.0,170.9 L1036.0,170.9 L1038.0,170.9 L1040.0,170.9 L1042.0,170.9 L1044.0,170.9 L1046.0,170.9 L1048.0,170.9 L1050.0,170.9 L1052.0,170.9 L1054.0,170.9 L1056.0,170.9 L1058.0,170.9 L1060.0,170.9 L1062.0,170.9 L1064.0,170.9 L1066.0,171.0 L1068.0,171.0 L1070.0,171.0 L1072.0,171.0 L1074.0,171.0 L1076.0,171.0 L1078.0,171.0 L1080.0,171.0 L1082.0,171.0 L1084.0,171.0 L1086.0,171.0 L1088.0,171.0 L1090.0,171.0 L1092.0,171.0 L1094.0,171.0 L1096.0,171.0 L1098.0,171.0 L1100.0,171.0 L1102.0,171.0 L1104.0,171.0 L1106.0,171.0 L1108.0,171.0 L1110.0,171.0 L1112.0,171.0 L1114.0,171.0 L1116.0,171.0 L1118.0,171.0 L1120.0,171.0 L1122.0,171.0 L1124.0,171.0 L1126.0,171.0 L1128.0,171.0 L1130.0,171.0 L1132.0,171.0 L1134.0,171.0 L1136.0,171.0 L1138.0,171.0 L1140.0,171.0 L1142.0,171.0 L1144.0,171.1 L1146.0,171.1 L1148.0,171.1 L1150.0,171.1 L1152.0,171.1 L1154.0,171.1 L1156.0,171.1 L1158.0,171.1 L1160.0,171.1 L1162.0,171.1 L1164.0,171.1 L1166.0,171.1 L1168.0,171.1 L1170.0,171.1 L1172.0,171.1 L1174.0,171.1 L1176.0,171.1 L1178.0,171.1 L1180.0,171.1 L1182.0,171.1 L1184.0,171.1 L1186.0,171.1 L1188.0,171.1 L1190.0,171.1 L1192.0,171.1 L1194.0,171.1 L1196.0,171.1 L1198.0,171.1 L1200.0,171.1 L1202.0,171.1 L1204.0,171.1 L1206.0,171.1 L1208.0,171.1 L1210.0,171.1 L1212.0,171.1 L1214.0,171.1 L1216.0,171.1 L1218.0,171.1 L1220.0,171.1 L1222.0,171.1 L1224.0,171.1 L1226.0,171.1 L1228.0,171.1 L1230.0,171.1 L1232.0,171.1 L1234.0,171.1 L1236.0,171.1 L1238.0,171.1 L1240.0,171.1 L1242.0,171.1 L1244.0,171.2 L1246.0,171.2 L1248.0,171.2 L1250.0,171.2 L1252.0,171.2 L1254.0,171.2 L1256.0,171.2 L1258.0,171.2 L1260.0,171.2 L1262.0,171.2 L1264.0,171.2 L1266.0,171.2 L1268.0,171.2 L1270.0,171.2 L1272.0,171.2 L1274.0,171.2 L1276.0,171.2 L1278.0,171.2 L1280.0,171.2 L1282.0,171.2 L1284.0,171.2 L1286.0,171.2 L1288.0,171.2 L1290.0,171.2 L1292.0,171.2 L1294.0,171.2 L1296.0,171.2 L1298.0,171.2 L1300.0,171.2 L1302.0,171.2 L1304.0,171.2 L1306.0,171.2 L1308.0,171.2 L1310.0,171.2 L1312.0,171.2 L1314.0,171.2 L1316.0,171.2 L1318.0,171.2 L1320.0,171.2 L1322.0,171.2 L1324.0,171.2 L1326.0,171.2 L1328.0,171.2 L1330.0,171.2 L1332.0,171.2 L1334.0,171.2 L1336.0,171.2 L1338.0,171.2 L1340.0,171.2 L1342.0,171.2 L1344.0,171.2 L1346.0,171.2 L1348.0,171.2 L1350.0,171.2 L1352.0,171.2 L1354.0,171.2 L1356.0,171.2 L1357.5,171.2" fill="none" stroke="#000" stroke-width="2.8" stroke-linejoin="round" stroke-linecap="round"/>
<rect x="103" y="35.0" width="1313" height="142.4" fill="none" stroke="#333333" stroke-width="2.0"/>
<line x1="94" x2="103" y1="171.6" y2="171.6" stroke="#333333" stroke-width="2.2"/>
<text x="88" y="180.6" font-size="25.5" font-weight="bold" fill="#4D4D4D" text-anchor="end">0.00</text>
<line x1="94" x2="103" y1="135.4" y2="135.4" stroke="#333333" stroke-width="2.2"/>
<text x="88" y="144.4" font-size="25.5" font-weight="bold" fill="#4D4D4D" text-anchor="end">0.25</text>
<line x1="94" x2="103" y1="99.2" y2="99.2" stroke="#333333" stroke-width="2.2"/>
<text x="88" y="108.2" font-size="25.5" font-weight="bold" fill="#4D4D4D" text-anchor="end">0.50</text>
<line x1="94" x2="103" y1="63.0" y2="63.0" stroke="#333333" stroke-width="2.2"/>
<text x="88" y="72.0" font-size="25.5" font-weight="bold" fill="#4D4D4D" text-anchor="end">0.75</text>
<line y1="177.4" y2="186.4" x1="161.6" x2="161.6" stroke="#333333" stroke-width="2.2"/>
<text x="161.6" y="210.0" font-size="25.5" font-weight="bold" fill="#4D4D4D" text-anchor="middle">0.0</text>
<line y1="177.4" y2="186.4" x1="460.6" x2="460.6" stroke="#333333" stroke-width="2.2"/>
<text x="460.6" y="210.0" font-size="25.5" font-weight="bold" fill="#4D4D4D" text-anchor="middle">2.5</text>
<line y1="177.4" y2="186.4" x1="759.6" x2="759.6" stroke="#333333" stroke-width="2.2"/>
<text x="759.6" y="210.0" font-size="25.5" font-weight="bold" fill="#4D4D4D" text-anchor="middle">5.0</text>
<line y1="177.4" y2="186.4" x1="1058.5" x2="1058.5" stroke="#333333" stroke-width="2.2"/>
<text x="1058.5" y="210.0" font-size="25.5" font-weight="bold" fill="#4D4D4D" text-anchor="middle">7.5</text>
<line y1="177.4" y2="186.4" x1="1357.5" x2="1357.5" stroke="#333333" stroke-width="2.2"/>
<text x="1357.5" y="210.0" font-size="25.5" font-weight="bold" fill="#4D4D4D" text-anchor="middle">10.0</text>
<line x1="103" x2="1416" y1="355.3" y2="355.3" stroke="#EBEBEB" stroke-width="1.2"/>
<line x1="103" x2="1416" y1="316.8" y2="316.8" stroke="#EBEBEB" stroke-width="1.2"/>
<line x1="103" x2="1416" y1="278.3" y2="278.3" stroke="#EBEBEB" stroke-width="1.2"/>
<line x1="103" x2="1416" y1="239.9" y2="239.9" stroke="#EBEBEB" stroke-width="1.2"/>
<line y1="238.5" y2="380.2" x1="194.4" x2="194.4" stroke="#EBEBEB" stroke-width="1.2"/>
<line y1="238.5" y2="380.2" x1="452.6" x2="452.6" stroke="#EBEBEB" stroke-width="1.2"/>
<line y1="238.5" y2="380.2" x1="710.7" x2="710.7" stroke="#EBEBEB" stroke-width="1.2"/>
<line y1="238.5" y2="380.2" x1="968.8" x2="968.8" stroke="#EBEBEB" stroke-width="1.2"/>
<line y1="238.5" y2="380.2" x1="1226.9" x2="1226.9" stroke="#EBEBEB" stroke-width="1.2"/>
<line x1="103" x2="1416" y1="374.5" y2="374.5" stroke="#EBEBEB" stroke-width="2.4"/>
<line x1="103" x2="1416" y1="336.0" y2="336.0" stroke="#EBEBEB" stroke-width="2.4"/>
<line x1="103" x2="1416" y1="297.6" y2="297.6" stroke="#EBEBEB" stroke-width="2.4"/>
<line x1="103" x2="1416" y1="259.1" y2="259.1" stroke="#EBEBEB" stroke-width="2.4"/>
<line y1="238.5" y2="380.2" x1="323.5" x2="323.5" stroke="#EBEBEB" stroke-width="2.4"/>
<line y1="238.5" y2="380.2" x1="581.6" x2="581.6" stroke="#EBEBEB" stroke-width="2.4"/>
<line y1="238.5" y2="380.2" x1="839.8" x2="839.8" stroke="#EBEBEB" stroke-width="2.4"/>
<line y1="238.5" y2="380.2" x1="1097.9" x2="1097.9" stroke="#EBEBEB" stroke-width="2.4"/>
<line y1="238.5" y2="380.2" x1="1356.0" x2="1356.0" stroke="#EBEBEB" stroke-width="2.4"/>
<path d="M161.6,334.5 L163.6,333.2 L165.6,331.4 L167.6,329.5 L169.6,327.6 L171.6,325.8 L173.6,324.0 L175.6,322.3 L177.6,320.7 L179.6,319.1 L181.6,317.6 L183.6,316.2 L185.6,314.8 L187.6,313.5 L189.6,312.2 L191.6,310.9 L193.6,309.7 L195.6,308.6 L197.6,307.5 L199.6,306.5 L201.6,305.5 L203.6,304.5 L205.6,303.6 L207.6,302.7 L209.6,301.9 L211.6,301.2 L213.6,300.7 L215.6,300.2 L217.6,299.8 L219.6,299.4 L221.6,299.1 L223.6,298.8 L225.6,298.7 L227.6,298.6 L229.6,298.6 L231.6,298.7 L233.6,298.8 L235.6,299.1 L237.6,299.3 L239.6,299.6 L241.6,300.0 L243.6,300.3 L245.6,300.7 L247.6,301.1 L249.6,301.6 L251.6,302.1 L253.6,302.6 L255.6,303.2 L257.6,303.9 L259.6,304.5 L261.6,305.2 L263.6,305.9 L265.6,306.7 L267.6,307.4 L269.6,308.2 L271.6,309.0 L273.6,309.9 L275.6,310.8 L277.6,311.7 L279.6,312.7 L281.6,313.6 L283.6,314.6 L285.6,315.5 L287.6,316.4 L289.6,317.3 L291.6,318.2 L293.6,319.1 L295.6,320.0 L297.6,320.9 L299.6,321.8 L301.6,322.7 L303.6,323.6 L305.6,324.6 L307.6,325.5 L309.6,326.5 L311.6,327.4 L313.6,328.4 L315.6,329.4 L317.6,330.5 L319.6,331.5 L321.6,332.5 L323.6,333.5 L325.6,334.5 L327.6,335.5 L329.6,336.4 L331.6,337.3 L333.6,338.3 L335.6,339.2 L337.6,340.1 L339.6,341.0 L341.6,341.9 L343.6,342.7 L345.6,343.4 L347.6,344.1 L349.6,344.6 L351.6,345.1 L353.6,345.5 L355.6,345.9 L357.6,346.2 L359.6,346.6 L361.6,346.9 L363.6,347.2 L365.6,347.5 L367.6,347.7 L369.6,347.9 L371.6,348.1 L373.6,348.3 L375.6,348.4 L377.6,348.4 L379.6,348.5 L381.6,348.5 L383.6,348.5 L385.6,348.4 L387.6,348.4 L389.6,348.4 L391.6,348.3 L393.6,348.2 L395.6,348.2 L397.6,348.1 L399.6,348.1 L401.6,348.0 L403.6,347.8 L405.6,347.7 L407.6,347.6 L409.6,347.4 L411.6,347.3 L413.6,347.1 L415.6,346.9 L417.6,346.8 L419.6,346.6 L421.6,346.5 L423.6,346.4 L425.6,346.3 L427.6,346.2 L429.6,346.1 L431.6,346.0 L433.6,346.0 L435.6,345.9 L437.6,345.8 L439.6,345.8 L441.6,345.7 L443.6,345.7 L445.6,345.7 L447.6,345.6 L449.6,345.6 L451.6,345.6 L453.6,345.6 L455.6,345.7 L457.6,345.7 L459.6,345.8 L461.6,345.9 L463.6,346.0 L465.6,346.2 L467.6,346.3 L469.6,346.4 L471.6,346.6 L473.6,346.7 L475.6,346.9 L477.6,347.0 L479.6,347.2 L481.6,347.4 L483.6,347.6 L485.6,347.8 L487.6,348.0 L489.6,348.2 L491.6,348.5 L493.6,348.7 L495.6,349.0 L497.6,349.2 L499.6,349.5 L501.6,349.8 L503.6,350.0 L505.6,350.3 L507.6,350.6 L509.6,350.9 L511.6,351.3 L513.6,351.6 L515.6,351.9 L517.6,352.3 L519.6,352.7 L521.6,353.0 L523.6,353.4 L525.6,353.7 L527.6,354.1 L529.6,354.4 L531.6,354.8 L533.6,355.1 L535.6,355.4 L537.6,355.8 L539.6,356.1 L541.6,356.5 L543.6,356.8 L545.6,357.1 L547.6,357.5 L549.6,357.8 L551.6,358.1 L553.6,358.4 L555.6,358.8 L557.6,359.1 L559.6,359.4 L561.6,359.7 L563.6,360.0 L565.6,360.3 L567.6,360.6 L569.6,360.9 L571.6,361.2 L573.6,361.5 L575.6,361.8 L577.6,362.1 L579.6,362.3 L581.6,362.6 L583.6,362.8 L585.6,363.0 L587.6,363.2 L589.6,363.3 L591.6,363.5 L593.6,363.6 L595.6,363.7 L597.6,363.8 L599.6,363.9 L601.6,364.0 L603.6,364.1 L605.6,364.1 L607.6,364.2 L609.6,364.3 L611.6,364.4 L613.6,364.5 L615.6,364.6 L617.6,364.7 L619.6,364.8 L621.6,364.9 L623.6,365.0 L625.6,365.2 L627.6,365.3 L629.6,365.5 L631.6,365.7 L633.6,365.8 L635.6,366.0 L637.6,366.2 L639.6,366.4 L641.6,366.5 L643.6,366.7 L645.6,366.9 L647.6,367.0 L649.6,367.2 L651.6,367.3 L653.6,367.4 L655.6,367.5 L657.6,367.6 L659.6,367.7 L661.6,367.8 L663.6,367.8 L665.6,367.9 L667.6,367.9 L669.6,368.0 L671.6,368.0 L673.6,368.1 L675.6,368.1 L677.6,368.1 L679.6,368.2 L681.6,368.2 L683.6,368.2 L685.6,368.3 L687.6,368.3 L689.6,368.3 L691.6,368.3 L693.6,368.4 L695.6,368.4 L697.6,368.5 L699.6,368.5 L701.6,368.5 L703.6,368.6 L705.6,368.6 L707.6,368.7 L709.6,368.7 L711.6,368.8 L713.6,368.8 L715.6,368.9 L717.6,369.0 L719.6,369.1 L721.6,369.1 L723.6,369.2 L725.6,369.3 L727.6,369.4 L729.6,369.5 L731.6,369.6 L733.6,369.7 L735.6,369.8 L737.6,369.9 L739.6,369.9 L741.6,370.0 L743.6,370.1 L745.6,370.2 L747.6,370.3 L749.6,370.4 L751.6,370.5 L753.6,370.5 L755.6,370.6 L757.6,370.7 L759.6,370.7 L761.6,370.8 L763.6,370.9 L765.6,370.9 L767.6,371.0 L769.6,371.1 L771.6,371.1 L773.6,371.2 L775.6,371.3 L777.6,371.3 L779.6,371.4 L781.6,371.4 L783.6,371.5 L785.6,371.6 L787.6,371.6 L789.6,371.7 L791.6,371.7 L793.6,371.8 L795.6,371.8 L797.6,371.9 L799.6,371.9 L801.6,372.0 L803.6,372.0 L805.6,372.1 L807.6,372.1 L809.6,372.2 L811.6,372.2 L813.6,372.2 L815.6,372.3 L817.6,372.3 L819.6,372.3 L821.6,372.4 L823.6,372.4 L825.6,372.4 L827.6,372.5 L829.6,372.5 L831.6,372.5 L833.6,372.5 L835.6,372.6 L837.6,372.6 L839.6,372.6 L841.6,372.6 L843.6,372.7 L845.6,372.7 L847.6,372.7 L849.6,372.7 L851.6,372.8 L853.6,372.8 L855.6,372.8 L857.6,372.8 L859.6,372.9 L861.6,372.9 L863.6,372.9 L865.6,372.9 L867.6,372.9 L869.6,373.0 L871.6,373.0 L873.6,373.0 L875.6,373.0 L877.6,373.0 L879.6,373.0 L881.6,373.1 L883.6,373.1 L885.6,373.1 L887.6,373.1 L889.6,373.1 L891.6,373.1 L893.6,373.2 L895.6,373.2 L897.6,373.2 L899.6,373.2 L901.6,373.2 L903.6,373.2 L905.6,373.2 L907.6,373.2 L909.6,373.3 L911.6,373.3 L913.6,373.3 L915.6,373.3 L917.6,373.3 L919.6,373.3 L921.6,373.3 L923.6,373.3 L925.6,373.4 L927.6,373.4 L929.6,373.4 L931.6,373.4 L933.6,373.4 L935.6,373.4 L937.6,373.4 L939.6,373.4 L941.6,373.4 L943.6,373.5 L945.6,373.5 L947.6,373.5 L949.6,373.5 L951.6,373.5 L953.6,373.5 L955.6,373.5 L957.6,373.5 L959.6,373.5 L961.6,373.5 L963.6,373.6 L965.6,373.6 L967.6,373.6 L969.6,373.6 L971.6,373.6 L973.6,373.6 L975.6,373.6 L977.6,373.6 L979.6,373.6 L981.6,373.6 L983.6,373.6 L985.6,373.7 L987.6,373.7 L989.6,373.7 L991.6,373.7 L993.6,373.7 L995.6,373.7 L997.6,373.7 L999.6,373.7 L1001.6,373.7 L1003.6,373.7 L1005.6,373.7 L1007.6,373.7 L1009.6,373.7 L1011.6,373.8 L1013.6,373.8 L1015.6,373.8 L1017.6,373.8 L1019.6,373.8 L1021.6,373.8 L1023.6,373.8 L1025.6,373.8 L1027.6,373.8 L1029.6,373.8 L1031.6,373.8 L1033.6,373.8 L1035.6,373.8 L1037.6,373.8 L1039.6,373.9 L1041.6,373.9 L1043.6,373.9 L1045.6,373.9 L1047.6,373.9 L1049.6,373.9 L1051.6,373.9 L1053.6,373.9 L1055.6,373.9 L1057.6,373.9 L1059.6,373.9 L1061.6,373.9 L1063.6,373.9 L1065.6,373.9 L1067.6,373.9 L1069.6,373.9 L1071.6,373.9 L1073.6,373.9 L1075.6,373.9 L1077.6,374.0 L1079.6,374.0 L1081.6,374.0 L1083.6,374.0 L1085.6,374.0 L1087.6,374.0 L1089.6,374.0 L1091.6,374.0 L1093.6,374.0 L1095.6,374.0 L1097.6,374.0 L1099.6,374.0 L1101.6,374.0 L1103.6,374.0 L1105.6,374.0 L1107.6,374.0 L1109.6,374.0 L1111.6,374.0 L1113.6,374.0 L1115.6,374.0 L1117.6,374.0 L1119.6,374.0 L1121.6,374.0 L1123.6,374.0 L1125.6,374.0 L1127.6,374.1 L1129.6,374.1 L1131.6,374.1 L1133.6,374.1 L1135.6,374.1 L1137.6,374.1 L1139.6,374.1 L1141.6,374.1 L1143.6,374.1 L1145.6,374.1 L1147.6,374.1 L1149.6,374.1 L1151.6,374.1 L1153.6,374.1 L1155.6,374.1 L1157.6,374.1 L1159.6,374.1 L1161.6,374.1 L1163.6,374.1 L1165.6,374.1 L1167.6,374.1 L1169.6,374.1 L1171.6,374.1 L1173.6,374.1 L1175.6,374.1 L1177.6,374.1 L1179.6,374.1 L1181.6,374.1 L1183.6,374.1 L1185.6,374.1 L1187.6,374.2 L1189.6,374.2 L1191.6,374.2 L1193.6,374.2 L1195.6,374.2 L1197.6,374.2 L1199.6,374.2 L1201.6,374.2 L1203.6,374.2 L1205.6,374.2 L1207.6,374.2 L1209.6,374.2 L1211.6,374.2 L1213.6,374.2 L1215.6,374.2 L1217.6,374.2 L1219.6,374.2 L1221.6,374.2 L1223.6,374.2 L1225.6,374.2 L1227.6,374.2 L1229.6,374.2 L1231.6,374.2 L1233.6,374.2 L1235.6,374.2 L1237.6,374.2 L1239.6,374.2 L1241.6,374.2 L1243.6,374.2 L1245.6,374.2 L1247.6,374.2 L1249.6,374.2 L1251.6,374.2 L1253.6,374.2 L1255.6,374.2 L1257.6,374.2 L1259.6,374.2 L1261.6,374.2 L1263.6,374.3 L1265.6,374.3 L1267.6,374.3 L1269.6,374.3 L1271.6,374.3 L1273.6,374.3 L1275.6,374.3 L1277.6,374.3 L1279.6,374.3 L1281.6,374.3 L1283.6,374.3 L1285.6,374.3 L1287.6,374.3 L1289.6,374.3 L1291.6,374.3 L1293.6,374.3 L1295.6,374.3 L1297.6,374.3 L1299.6,374.3 L1301.6,374.3 L1303.6,374.3 L1305.6,374.3 L1307.6,374.3 L1309.6,374.3 L1311.6,374.3 L1313.6,374.3 L1315.6,374.3 L1317.6,374.3 L1319.6,374.3 L1321.6,374.3 L1323.6,374.3 L1325.6,374.3 L1327.6,374.3 L1329.6,374.3 L1331.6,374.3 L1333.6,374.3 L1335.6,374.3 L1337.6,374.3 L1339.6,374.3 L1341.6,374.3 L1343.6,374.3 L1345.6,374.3 L1347.6,374.3 L1349.6,374.3 L1351.6,374.3 L1353.6,374.3 L1355.6,374.3 L1356.1,374.3 L1356.1,374.5 L161.6,374.5 Z" fill="#999999" fill-opacity="0.5" stroke="none"/>
<path d="M161.6,334.5 L163.6,333.2 L165.6,331.4 L167.6,329.5 L169.6,327.6 L171.6,325.8 L173.6,324.0 L175.6,322.3 L177.6,320.7 L179.6,319.1 L181.6,317.6 L183.6,316.2 L185.6,314.8 L187.6,313.5 L189.6,312.2 L191.6,310.9 L193.6,309.7 L195.6,308.6 L197.6,307.5 L199.6,306.5 L201.6,305.5 L203.6,304.5 L205.6,303.6 L207.6,302.7 L209.6,301.9 L211.6,301.2 L213.6,300.7 L215.6,300.2 L217.6,299.8 L219.6,299.4 L221.6,299.1 L223.6,298.8 L225.6,298.7 L227.6,298.6 L229.6,298.6 L231.6,298.7 L233.6,298.8 L235.6,299.1 L237.6,299.3 L239.6,299.6 L241.6,300.0 L243.6,300.3 L245.6,300.7 L247.6,301.1 L249.6,301.6 L251.6,302.1 L253.6,302.6 L255.6,303.2 L257.6,303.9 L259.6,304.5 L261.6,305.2 L263.6,305.9 L265.6,306.7 L267.6,307.4 L269.6,308.2 L271.6,309.0 L273.6,309.9 L275.6,310.8 L277.6,311.7 L279.6,312.7 L281.6,313.6 L283.6,314.6 L285.6,315.5 L287.6,316.4 L289.6,317.3 L291.6,318.2 L293.6,319.1 L295.6,320.0 L297.6,320.9 L299.6,321.8 L301.6,322.7 L303.6,323.6 L305.6,324.6 L307.6,325.5 L309.6,326.5 L311.6,327.4 L313.6,328.4 L315.6,329.4 L317.6,330.5 L319.6,331.5 L321.6,332.5 L323.6,333.5 L325.6,334.5 L327.6,335.5 L329.6,336.4 L331.6,337.3 L333.6,338.3 L335.6,339.2 L337.6,340.1 L339.6,341.0 L341.6,341.9 L343.6,342.7 L345.6,343.4 L347.6,344.1 L349.6,344.6 L351.6,345.1 L353.6,345.5 L355.6,345.9 L357.6,346.2 L359.6,346.6 L361.6,346.9 L363.6,347.2 L365.6,347.5 L367.6,347.7 L369.6,347.9 L371.6,348.1 L373.6,348.3 L375.6,348.4 L377.6,348.4 L379.6,348.5 L381.6,348.5 L383.6,348.5 L385.6,348.4 L387.6,348.4 L389.6,348.4 L391.6,348.3 L393.6,348.2 L395.6,348.2 L397.6,348.1 L399.6,348.1 L401.6,348.0 L403.6,347.8 L405.6,347.7 L407.6,347.6 L409.6,347.4 L411.6,347.3 L413.6,347.1 L415.6,346.9 L417.6,346.8 L419.6,346.6 L421.6,346.5 L423.6,346.4 L425.6,346.3 L427.6,346.2 L429.6,346.1 L431.6,346.0 L433.6,346.0 L435.6,345.9 L437.6,345.8 L439.6,345.8 L441.6,345.7 L443.6,345.7 L445.6,345.7 L447.6,345.6 L449.6,345.6 L451.6,345.6 L453.6,345.6 L455.6,345.7 L457.6,345.7 L459.6,345.8 L461.6,345.9 L463.6,346.0 L465.6,346.2 L467.6,346.3 L469.6,346.4 L471.6,346.6 L473.6,346.7 L475.6,346.9 L477.6,347.0 L479.6,347.2 L481.6,347.4 L483.6,347.6 L485.6,347.8 L487.6,348.0 L489.6,348.2 L491.6,348.5 L493.6,348.7 L495.6,349.0 L497.6,349.2 L499.6,349.5 L501.6,349.8 L503.6,350.0 L505.6,350.3 L507.6,350.6 L509.6,350.9 L511.6,351.3 L513.6,351.6 L515.6,351.9 L517.6,352.3 L519.6,352.7 L521.6,353.0 L523.6,353.4 L525.6,353.7 L527.6,354.1 L529.6,354.4 L531.6,354.8 L533.6,355.1 L535.6,355.4 L537.6,355.8 L539.6,356.1 L541.6,356.5 L543.6,356.8 L545.6,357.1 L547.6,357.5 L549.6,357.8 L551.6,358.1 L553.6,358.4 L555.6,358.8 L557.6,359.1 L559.6,359.4 L561.6,359.7 L563.6,360.0 L565.6,360.3 L567.6,360.6 L569.6,360.9 L571.6,361.2 L573.6,361.5 L575.6,361.8 L577.6,362.1 L579.6,362.3 L581.6,362.6 L583.6,362.8 L585.6,363.0 L587.6,363.2 L589.6,363.3 L591.6,363.5 L593.6,363.6 L595.6,363.7 L597.6,363.8 L599.6,363.9 L601.6,364.0 L603.6,364.1 L605.6,364.1 L607.6,364.2 L609.6,364.3 L611.6,364.4 L613.6,364.5 L615.6,364.6 L617.6,364.7 L619.6,364.8 L621.6,364.9 L623.6,365.0 L625.6,365.2 L627.6,365.3 L629.6,365.5 L631.6,365.7 L633.6,365.8 L635.6,366.0 L637.6,366.2 L639.6,366.4 L641.6,366.5 L643.6,366.7 L645.6,366.9 L647.6,367.0 L649.6,367.2 L651.6,367.3 L653.6,367.4 L655.6,367.5 L657.6,367.6 L659.6,367.7 L661.6,367.8 L663.6,367.8 L665.6,367.9 L667.6,367.9 L669.6,368.0 L671.6,368.0 L673.6,368.1 L675.6,368.1 L677.6,368.1 L679.6,368.2 L681.6,368.2 L683.6,368.2 L685.6,368.3 L687.6,368.3 L689.6,368.3 L691.6,368.3 L693.6,368.4 L695.6,368.4 L697.6,368.5 L699.6,368.5 L701.6,368.5 L703.6,368.6 L705.6,368.6 L707.6,368.7 L709.6,368.7 L711.6,368.8 L713.6,368.8 L715.6,368.9 L717.6,369.0 L719.6,369.1 L721.6,369.1 L723.6,369.2 L725.6,369.3 L727.6,369.4 L729.6,369.5 L731.6,369.6 L733.6,369.7 L735.6,369.8 L737.6,369.9 L739.6,369.9 L741.6,370.0 L743.6,370.1 L745.6,370.2 L747.6,370.3 L749.6,370.4 L751.6,370.5 L753.6,370.5 L755.6,370.6 L757.6,370.7 L759.6,370.7 L761.6,370.8 L763.6,370.9 L765.6,370.9 L767.6,371.0 L769.6,371.1 L771.6,371.1 L773.6,371.2 L775.6,371.3 L777.6,371.3 L779.6,371.4 L781.6,371.4 L783.6,371.5 L785.6,371.6 L787.6,371.6 L789.6,371.7 L791.6,371.7 L793.6,371.8 L795.6,371.8 L797.6,371.9 L799.6,371.9 L801.6,372.0 L803.6,372.0 L805.6,372.1 L807.6,372.1 L809.6,372.2 L811.6,372.2 L813.6,372.2 L815.6,372.3 L817.6,372.3 L819.6,372.3 L821.6,372.4 L823.6,372.4 L825.6,372.4 L827.6,372.5 L829.6,372.5 L831.6,372.5 L833.6,372.5 L835.6,372.6 L837.6,372.6 L839.6,372.6 L841.6,372.6 L843.6,372.7 L845.6,372.7 L847.6,372.7 L849.6,372.7 L851.6,372.8 L853.6,372.8 L855.6,372.8 L857.6,372.8 L859.6,372.9 L861.6,372.9 L863.6,372.9 L865.6,372.9 L867.6,372.9 L869.6,373.0 L871.6,373.0 L873.6,373.0 L875.6,373.0 L877.6,373.0 L879.6,373.0 L881.6,373.1 L883.6,373.1 L885.6,373.1 L887.6,373.1 L889.6,373.1 L891.6,373.1 L893.6,373.2 L895.6,373.2 L897.6,373.2 L899.6,373.2 L901.6,373.2 L903.6,373.2 L905.6,373.2 L907.6,373.2 L909.6,373.3 L911.6,373.3 L913.6,373.3 L915.6,373.3 L917.6,373.3 L919.6,373.3 L921.6,373.3 L923.6,373.3 L925.6,373.4 L927.6,373.4 L929.6,373.4 L931.6,373.4 L933.6,373.4 L935.6,373.4 L937.6,373.4 L939.6,373.4 L941.6,373.4 L943.6,373.5 L945.6,373.5 L947.6,373.5 L949.6,373.5 L951.6,373.5 L953.6,373.5 L955.6,373.5 L957.6,373.5 L959.6,373.5 L961.6,373.5 L963.6,373.6 L965.6,373.6 L967.6,373.6 L969.6,373.6 L971.6,373.6 L973.6,373.6 L975.6,373.6 L977.6,373.6 L979.6,373.6 L981.6,373.6 L983.6,373.6 L985.6,373.7 L987.6,373.7 L989.6,373.7 L991.6,373.7 L993.6,373.7 L995.6,373.7 L997.6,373.7 L999.6,373.7 L1001.6,373.7 L1003.6,373.7 L1005.6,373.7 L1007.6,373.7 L1009.6,373.7 L1011.6,373.8 L1013.6,373.8 L1015.6,373.8 L1017.6,373.8 L1019.6,373.8 L1021.6,373.8 L1023.6,373.8 L1025.6,373.8 L1027.6,373.8 L1029.6,373.8 L1031.6,373.8 L1033.6,373.8 L1035.6,373.8 L1037.6,373.8 L1039.6,373.9 L1041.6,373.9 L1043.6,373.9 L1045.6,373.9 L1047.6,373.9 L1049.6,373.9 L1051.6,373.9 L1053.6,373.9 L1055.6,373.9 L1057.6,373.9 L1059.6,373.9 L1061.6,373.9 L1063.6,373.9 L1065.6,373.9 L1067.6,373.9 L1069.6,373.9 L1071.6,373.9 L1073.6,373.9 L1075.6,373.9 L1077.6,374.0 L1079.6,374.0 L1081.6,374.0 L1083.6,374.0 L1085.6,374.0 L1087.6,374.0 L1089.6,374.0 L1091.6,374.0 L1093.6,374.0 L1095.6,374.0 L1097.6,374.0 L1099.6,374.0 L1101.6,374.0 L1103.6,374.0 L1105.6,374.0 L1107.6,374.0 L1109.6,374.0 L1111.6,374.0 L1113.6,374.0 L1115.6,374.0 L1117.6,374.0 L1119.6,374.0 L1121.6,374.0 L1123.6,374.0 L1125.6,374.0 L1127.6,374.1 L1129.6,374.1 L1131.6,374.1 L1133.6,374.1 L1135.6,374.1 L1137.6,374.1 L1139.6,374.1 L1141.6,374.1 L1143.6,374.1 L1145.6,374.1 L1147.6,374.1 L1149.6,374.1 L1151.6,374.1 L1153.6,374.1 L1155.6,374.1 L1157.6,374.1 L1159.6,374.1 L1161.6,374.1 L1163.6,374.1 L1165.6,374.1 L1167.6,374.1 L1169.6,374.1 L1171.6,374.1 L1173.6,374.1 L1175.6,374.1 L1177.6,374.1 L1179.6,374.1 L1181.6,374.1 L1183.6,374.1 L1185.6,374.1 L1187.6,374.2 L1189.6,374.2 L1191.6,374.2 L1193.6,374.2 L1195.6,374.2 L1197.6,374.2 L1199.6,374.2 L1201.6,374.2 L1203.6,374.2 L1205.6,374.2 L1207.6,374.2 L1209.6,374.2 L1211.6,374.2 L1213.6,374.2 L1215.6,374.2 L1217.6,374.2 L1219.6,374.2 L1221.6,374.2 L1223.6,374.2 L1225.6,374.2 L1227.6,374.2 L1229.6,374.2 L1231.6,374.2 L1233.6,374.2 L1235.6,374.2 L1237.6,374.2 L1239.6,374.2 L1241.6,374.2 L1243.6,374.2 L1245.6,374.2 L1247.6,374.2 L1249.6,374.2 L1251.6,374.2 L1253.6,374.2 L1255.6,374.2 L1257.6,374.2 L1259.6,374.2 L1261.6,374.2 L1263.6,374.3 L1265.6,374.3 L1267.6,374.3 L1269.6,374.3 L1271.6,374.3 L1273.6,374.3 L1275.6,374.3 L1277.6,374.3 L1279.6,374.3 L1281.6,374.3 L1283.6,374.3 L1285.6,374.3 L1287.6,374.3 L1289.6,374.3 L1291.6,374.3 L1293.6,374.3 L1295.6,374.3 L1297.6,374.3 L1299.6,374.3 L1301.6,374.3 L1303.6,374.3 L1305.6,374.3 L1307.6,374.3 L1309.6,374.3 L1311.6,374.3 L1313.6,374.3 L1315.6,374.3 L1317.6,374.3 L1319.6,374.3 L1321.6,374.3 L1323.6,374.3 L1325.6,374.3 L1327.6,374.3 L1329.6,374.3 L1331.6,374.3 L1333.6,374.3 L1335.6,374.3 L1337.6,374.3 L1339.6,374.3 L1341.6,374.3 L1343.6,374.3 L1345.6,374.3 L1347.6,374.3 L1349.6,374.3 L1351.6,374.3 L1353.6,374.3 L1355.6,374.3 L1356.1,374.3" fill="none" stroke="#000" stroke-width="2.8" stroke-linejoin="round" stroke-linecap="round"/>
<path d="M161.6,333.7 L163.6,331.2 L165.6,327.8 L167.6,323.9 L169.6,319.7 L171.6,315.3 L173.6,310.7 L175.6,305.9 L177.6,301.1 L179.6,296.1 L181.6,291.3 L183.6,286.4 L185.6,281.7 L187.6,277.0 L189.6,272.5 L191.6,268.3 L193.6,264.4 L195.6,260.7 L197.6,257.2 L199.6,254.2 L201.6,251.6 L203.6,249.4 L205.6,247.6 L207.6,246.1 L209.6,245.0 L211.6,244.4 L213.6,244.4 L215.6,244.7 L217.6,245.4 L219.6,246.4 L221.6,247.5 L223.6,248.6 L225.6,249.9 L227.6,251.3 L229.6,252.8 L231.6,254.4 L233.6,256.1 L235.6,257.7 L237.6,259.3 L239.6,260.9 L241.6,262.3 L243.6,263.7 L245.6,265.1 L247.6,266.5 L249.6,267.8 L251.6,269.2 L253.6,270.5 L255.6,271.9 L257.6,273.2 L259.6,274.5 L261.6,275.8 L263.6,277.1 L265.6,278.5 L267.6,279.9 L269.6,281.4 L271.6,282.9 L273.6,284.5 L275.6,286.1 L277.6,287.7 L279.6,289.4 L281.6,291.1 L283.6,292.7 L285.6,294.4 L287.6,296.0 L289.6,297.7 L291.6,299.4 L293.6,301.1 L295.6,302.8 L297.6,304.4 L299.6,305.9 L301.6,307.4 L303.6,308.9 L305.6,310.3 L307.6,311.6 L309.6,312.9 L311.6,314.2 L313.6,315.4 L315.6,316.6 L317.6,317.7 L319.6,318.7 L321.6,319.7 L323.6,320.6 L325.6,321.5 L327.6,322.4 L329.6,323.2 L331.6,324.0 L333.6,324.9 L335.6,325.8 L337.6,326.7 L339.6,327.7 L341.6,328.7 L343.6,329.7 L345.6,330.7 L347.6,331.7 L349.6,332.7 L351.6,333.7 L353.6,334.6 L355.6,335.4 L357.6,336.2 L359.6,337.0 L361.6,337.8 L363.6,338.5 L365.6,339.4 L367.6,340.3 L369.6,341.3 L371.6,342.5 L373.6,343.8 L375.6,345.3 L377.6,346.7 L379.6,348.1 L381.6,349.4 L383.6,350.7 L385.6,351.9 L387.6,353.0 L389.6,354.1 L391.6,355.1 L393.6,356.1 L395.6,357.0 L397.6,357.8 L399.6,358.4 L401.6,359.1 L403.6,359.6 L405.6,360.1 L407.6,360.6 L409.6,361.0 L411.6,361.4 L413.6,361.8 L415.6,362.1 L417.6,362.4 L419.6,362.6 L421.6,362.9 L423.6,363.0 L425.6,363.2 L427.6,363.4 L429.6,363.6 L431.6,363.8 L433.6,364.0 L435.6,364.2 L437.6,364.5 L439.6,364.8 L441.6,365.1 L443.6,365.5 L445.6,365.9 L447.6,366.4 L449.6,366.8 L451.6,367.2 L453.6,367.7 L455.6,368.1 L457.6,368.5 L459.6,369.0 L461.6,369.4 L463.6,369.9 L465.6,370.4 L467.6,370.8 L469.6,371.2 L471.6,371.5 L473.6,371.7 L475.6,371.9 L477.6,372.1 L479.6,372.2 L481.6,372.4 L483.6,372.5 L485.6,372.6 L487.6,372.7 L489.6,372.7 L491.6,372.8 L493.6,372.8 L495.6,372.8 L497.6,372.8 L499.6,372.7 L501.6,372.7 L503.6,372.6 L505.6,372.6 L507.6,372.5 L509.6,372.4 L511.6,372.3 L513.6,372.3 L515.6,372.2 L517.6,372.1 L519.6,372.0 L521.6,371.9 L523.6,371.8 L525.6,371.7 L527.6,371.6 L529.6,371.5 L531.6,371.3 L533.6,371.2 L535.6,371.1 L537.6,371.0 L539.6,370.9 L541.6,370.9 L543.6,370.9 L545.6,371.0 L547.6,371.0 L549.6,371.1 L551.6,371.1 L553.6,371.2 L555.6,371.3 L557.6,371.4 L559.6,371.5 L561.6,371.6 L563.6,371.6 L565.6,371.8 L567.6,371.9 L569.6,372.0 L571.6,372.1 L573.6,372.2 L575.6,372.2 L577.6,372.3 L579.6,372.3 L581.6,372.3 L583.6,372.3 L585.6,372.2 L587.6,372.2 L589.6,372.1 L591.6,372.1 L593.6,372.0 L595.6,372.0 L597.6,371.9 L599.6,371.9 L601.6,371.8 L603.6,371.8 L605.6,371.7 L607.6,371.7 L609.6,371.6 L611.6,371.6 L613.6,371.6 L615.6,371.5 L617.6,371.5 L619.6,371.5 L621.6,371.5 L623.6,371.5 L625.6,371.6 L627.6,371.6 L629.6,371.7 L631.6,371.8 L633.6,371.9 L635.6,372.0 L637.6,372.1 L639.6,372.2 L641.6,372.3 L643.6,372.5 L645.6,372.6 L647.6,372.7 L649.6,372.9 L651.6,373.0 L653.6,373.2 L655.6,373.3 L657.6,373.4 L659.6,373.6 L661.6,373.7 L663.6,373.8 L665.6,373.9 L667.6,374.0 L669.6,374.1 L671.6,374.2 L673.6,374.3 L675.6,374.3 L677.6,374.4 L679.6,374.4 L681.6,374.4 L683.6,374.4 L685.6,374.5 L687.6,374.5 L689.6,374.5 L691.6,374.5 L693.6,374.5 L695.6,374.5 L697.6,374.6 L699.6,374.6 L701.6,374.6 L703.6,374.6 L705.6,374.6 L707.6,374.6 L709.6,374.6 L711.6,374.7 L713.6,374.7 L715.6,374.7 L717.6,374.7 L719.6,374.7 L721.6,374.7 L723.6,374.7 L725.6,374.7 L727.6,374.7 L729.6,374.7 L731.6,374.8 L733.6,374.8 L735.6,374.8 L737.6,374.8 L739.6,374.8 L741.6,374.8 L743.6,374.8 L745.6,374.8 L747.6,374.8 L749.6,374.8 L751.6,374.8 L753.6,374.8 L755.6,374.8 L757.6,374.8 L759.6,374.8 L761.6,374.8 L763.6,374.8 L765.6,374.8 L767.6,374.7 L769.6,374.7 L771.6,374.7 L773.6,374.6 L775.6,374.6 L777.6,374.5 L779.6,374.5 L781.6,374.4 L783.6,374.4 L785.6,374.3 L787.6,374.3 L789.6,374.2 L791.6,374.1 L793.6,374.1 L795.6,374.0 L797.6,373.9 L799.6,373.9 L801.6,373.8 L803.6,373.7 L805.6,373.7 L807.6,373.6 L809.6,373.5 L811.6,373.4 L813.6,373.4 L815.6,373.3 L817.6,373.1 L819.6,373.0 L821.6,372.9 L823.6,372.8 L825.6,372.7 L827.6,372.5 L829.6,372.4 L831.6,372.3 L833.6,372.2 L835.6,372.1 L837.6,371.9 L839.6,371.8 L841.6,371.7 L843.6,371.6 L845.6,371.6 L847.6,371.5 L849.6,371.4 L851.6,371.4 L853.6,371.3 L855.6,371.3 L857.6,371.3 L859.6,371.3 L861.6,371.4 L863.6,371.4 L865.6,371.5 L867.6,371.6 L869.6,371.7 L871.6,371.8 L873.6,371.9 L875.6,372.0 L877.6,372.1 L879.6,372.2 L881.6,372.4 L883.6,372.5 L885.6,372.6 L887.6,372.7 L889.6,372.8 L891.6,372.9 L893.6,373.0 L895.6,373.1 L897.6,373.1 L899.6,373.2 L901.6,373.2 L903.6,373.3 L905.6,373.3 L907.6,373.3 L909.6,373.3 L911.6,373.4 L913.6,373.4 L915.6,373.4 L917.6,373.4 L919.6,373.5 L921.6,373.5 L923.6,373.5 L925.6,373.5 L927.6,373.6 L929.6,373.6 L931.6,373.6 L933.6,373.6 L935.6,373.6 L937.6,373.7 L939.6,373.7 L941.6,373.7 L943.6,373.7 L945.6,373.7 L947.6,373.7 L949.6,373.8 L951.6,373.8 L953.6,373.8 L955.6,373.8 L957.6,373.8 L959.6,373.8 L961.6,373.8 L963.6,373.9 L965.6,373.9 L967.6,373.9 L969.6,373.9 L971.6,373.9 L973.6,373.9 L975.6,373.9 L977.6,373.9 L979.6,373.9 L981.6,373.9 L983.6,374.0 L985.6,374.0 L987.6,374.0 L989.6,374.0 L991.6,374.0 L993.6,374.0 L995.6,374.0 L997.6,374.0 L999.6,374.0 L1001.6,374.0 L1003.6,374.0 L1005.6,374.0 L1007.6,374.0 L1009.6,374.0 L1011.6,374.0 L1013.6,374.0 L1015.6,374.0 L1017.6,374.0 L1019.6,374.0 L1021.6,374.0 L1023.6,374.0 L1025.6,374.0 L1027.6,374.0 L1029.6,374.1 L1031.6,374.1 L1033.6,374.1 L1035.6,374.1 L1037.6,374.1 L1039.6,374.1 L1041.6,374.1 L1043.6,374.1 L1045.6,374.1 L1047.6,374.1 L1049.6,374.1 L1051.6,374.1 L1053.6,374.1 L1055.6,374.1 L1057.6,374.1 L1059.6,374.1 L1061.6,374.1 L1063.6,374.1 L1065.6,374.1 L1067.6,374.1 L1069.6,374.1 L1071.6,374.1 L1073.6,374.1 L1075.6,374.1 L1077.6,374.1 L1079.6,374.1 L1081.6,374.1 L1083.6,374.1 L1085.6,374.1 L1087.6,374.1 L1089.6,374.1 L1091.6,374.1 L1093.6,374.1 L1095.6,374.1 L1097.6,374.1 L1099.6,374.2 L1101.6,374.2 L1103.6,374.2 L1105.6,374.2 L1107.6,374.2 L1109.6,374.2 L1111.6,374.2 L1113.6,374.2 L1115.6,374.2 L1117.6,374.2 L1119.6,374.2 L1121.6,374.2 L1123.6,374.2 L1125.6,374.2 L1127.6,374.2 L1129.6,374.2 L1131.6,374.2 L1133.6,374.2 L1135.6,374.2 L1137.6,374.2 L1139.6,374.2 L1141.6,374.2 L1143.6,374.2 L1145.6,374.2 L1147.6,374.2 L1149.6,374.2 L1151.6,374.2 L1153.6,374.2 L1155.6,374.2 L1157.6,374.2 L1159.6,374.2 L1161.6,374.2 L1163.6,374.2 L1165.6,374.2 L1167.6,374.2 L1169.6,374.2 L1171.6,374.2 L1173.6,374.2 L1175.6,374.2 L1177.6,374.2 L1179.6,374.2 L1181.6,374.2 L1183.6,374.2 L1185.6,374.2 L1187.6,374.2 L1189.6,374.2 L1191.6,374.2 L1193.6,374.2 L1195.6,374.2 L1197.6,374.2 L1199.6,374.2 L1201.6,374.2 L1203.6,374.2 L1205.6,374.3 L1207.6,374.3 L1209.6,374.3 L1211.6,374.3 L1213.6,374.3 L1215.6,374.3 L1217.6,374.3 L1219.6,374.3 L1221.6,374.3 L1223.6,374.3 L1225.6,374.3 L1227.6,374.3 L1229.6,374.3 L1231.6,374.3 L1233.6,374.3 L1235.6,374.3 L1237.6,374.3 L1239.6,374.3 L1241.6,374.3 L1243.6,374.3 L1245.6,374.3 L1247.6,374.3 L1249.6,374.3 L1251.6,374.3 L1253.6,374.3 L1255.6,374.3 L1257.6,374.3 L1259.6,374.3 L1261.6,374.3 L1263.6,374.3 L1265.6,374.3 L1267.6,374.3 L1269.6,374.3 L1271.6,374.3 L1273.6,374.3 L1275.6,374.3 L1277.6,374.3 L1279.6,374.3 L1281.6,374.3 L1283.6,374.3 L1285.6,374.3 L1287.6,374.3 L1289.6,374.3 L1291.6,374.3 L1293.6,374.3 L1295.6,374.3 L1297.6,374.3 L1299.6,374.3 L1301.6,374.3 L1303.6,374.3 L1305.6,374.3 L1307.6,374.3 L1309.6,374.3 L1311.6,374.3 L1313.6,374.3 L1315.6,374.3 L1317.6,374.3 L1319.6,374.3 L1321.6,374.3 L1323.6,374.3 L1325.6,374.3 L1327.6,374.3 L1329.6,374.3 L1331.6,374.3 L1333.6,374.3 L1335.6,374.3 L1337.6,374.3 L1339.6,374.3 L1341.6,374.3 L1343.6,374.3 L1345.6,374.3 L1347.6,374.3 L1349.6,374.3 L1351.6,374.3 L1353.6,374.3 L1355.6,374.3 L1356.1,374.3 L1356.1,374.5 L161.6,374.5 Z" fill="#E69F00" fill-opacity="0.5" stroke="none"/>
<path d="M161.6,333.7 L163.6,331.2 L165.6,327.8 L167.6,323.9 L169.6,319.7 L171.6,315.3 L173.6,310.7 L175.6,305.9 L177.6,301.1 L179.6,296.1 L181.6,291.3 L183.6,286.4 L185.6,281.7 L187.6,277.0 L189.6,272.5 L191.6,268.3 L193.6,264.4 L195.6,260.7 L197.6,257.2 L199.6,254.2 L201.6,251.6 L203.6,249.4 L205.6,247.6 L207.6,246.1 L209.6,245.0 L211.6,244.4 L213.6,244.4 L215.6,244.7 L217.6,245.4 L219.6,246.4 L221.6,247.5 L223.6,248.6 L225.6,249.9 L227.6,251.3 L229.6,252.8 L231.6,254.4 L233.6,256.1 L235.6,257.7 L237.6,259.3 L239.6,260.9 L241.6,262.3 L243.6,263.7 L245.6,265.1 L247.6,266.5 L249.6,267.8 L251.6,269.2 L253.6,270.5 L255.6,271.9 L257.6,273.2 L259.6,274.5 L261.6,275.8 L263.6,277.1 L265.6,278.5 L267.6,279.9 L269.6,281.4 L271.6,282.9 L273.6,284.5 L275.6,286.1 L277.6,287.7 L279.6,289.4 L281.6,291.1 L283.6,292.7 L285.6,294.4 L287.6,296.0 L289.6,297.7 L291.6,299.4 L293.6,301.1 L295.6,302.8 L297.6,304.4 L299.6,305.9 L301.6,307.4 L303.6,308.9 L305.6,310.3 L307.6,311.6 L309.6,312.9 L311.6,314.2 L313.6,315.4 L315.6,316.6 L317.6,317.7 L319.6,318.7 L321.6,319.7 L323.6,320.6 L325.6,321.5 L327.6,322.4 L329.6,323.2 L331.6,324.0 L333.6,324.9 L335.6,325.8 L337.6,326.7 L339.6,327.7 L341.6,328.7 L343.6,329.7 L345.6,330.7 L347.6,331.7 L349.6,332.7 L351.6,333.7 L353.6,334.6 L355.6,335.4 L357.6,336.2 L359.6,337.0 L361.6,337.8 L363.6,338.5 L365.6,339.4 L367.6,340.3 L369.6,341.3 L371.6,342.5 L373.6,343.8 L375.6,345.3 L377.6,346.7 L379.6,348.1 L381.6,349.4 L383.6,350.7 L385.6,351.9 L387.6,353.0 L389.6,354.1 L391.6,355.1 L393.6,356.1 L395.6,357.0 L397.6,357.8 L399.6,358.4 L401.6,359.1 L403.6,359.6 L405.6,360.1 L407.6,360.6 L409.6,361.0 L411.6,361.4 L413.6,361.8 L415.6,362.1 L417.6,362.4 L419.6,362.6 L421.6,362.9 L423.6,363.0 L425.6,363.2 L427.6,363.4 L429.6,363.6 L431.6,363.8 L433.6,364.0 L435.6,364.2 L437.6,364.5 L439.6,364.8 L441.6,365.1 L443.6,365.5 L445.6,365.9 L447.6,366.4 L449.6,366.8 L451.6,367.2 L453.6,367.7 L455.6,368.1 L457.6,368.5 L459.6,369.0 L461.6,369.4 L463.6,369.9 L465.6,370.4 L467.6,370.8 L469.6,371.2 L471.6,371.5 L473.6,371.7 L475.6,371.9 L477.6,372.1 L479.6,372.2 L481.6,372.4 L483.6,372.5 L485.6,372.6 L487.6,372.7 L489.6,372.7 L491.6,372.8 L493.6,372.8 L495.6,372.8 L497.6,372.8 L499.6,372.7 L501.6,372.7 L503.6,372.6 L505.6,372.6 L507.6,372.5 L509.6,372.4 L511.6,372.3 L513.6,372.3 L515.6,372.2 L517.6,372.1 L519.6,372.0 L521.6,371.9 L523.6,371.8 L525.6,371.7 L527.6,371.6 L529.6,371.5 L531.6,371.3 L533.6,371.2 L535.6,371.1 L537.6,371.0 L539.6,370.9 L541.6,370.9 L543.6,370.9 L545.6,371.0 L547.6,371.0 L549.6,371.1 L551.6,371.1 L553.6,371.2 L555.6,371.3 L557.6,371.4 L559.6,371.5 L561.6,371.6 L563.6,371.6 L565.6,371.8 L567.6,371.9 L569.6,372.0 L571.6,372.1 L573.6,372.2 L575.6,372.2 L577.6,372.3 L579.6,372.3 L581.6,372.3 L583.6,372.3 L585.6,372.2 L587.6,372.2 L589.6,372.1 L591.6,372.1 L593.6,372.0 L595.6,372.0 L597.6,371.9 L599.6,371.9 L601.6,371.8 L603.6,371.8 L605.6,371.7 L607.6,371.7 L609.6,371.6 L611.6,371.6 L613.6,371.6 L615.6,371.5 L617.6,371.5 L619.6,371.5 L621.6,371.5 L623.6,371.5 L625.6,371.6 L627.6,371.6 L629.6,371.7 L631.6,371.8 L633.6,371.9 L635.6,372.0 L637.6,372.1 L639.6,372.2 L641.6,372.3 L643.6,372.5 L645.6,372.6 L647.6,372.7 L649.6,372.9 L651.6,373.0 L653.6,373.2 L655.6,373.3 L657.6,373.4 L659.6,373.6 L661.6,373.7 L663.6,373.8 L665.6,373.9 L667.6,374.0 L669.6,374.1 L671.6,374.2 L673.6,374.3 L675.6,374.3 L677.6,374.4 L679.6,374.4 L681.6,374.4 L683.6,374.4 L685.6,374.5 L687.6,374.5 L689.6,374.5 L691.6,374.5 L693.6,374.5 L695.6,374.5 L697.6,374.6 L699.6,374.6 L701.6,374.6 L703.6,374.6 L705.6,374.6 L707.6,374.6 L709.6,374.6 L711.6,374.7 L713.6,374.7 L715.6,374.7 L717.6,374.7 L719.6,374.7 L721.6,374.7 L723.6,374.7 L725.6,374.7 L727.6,374.7 L729.6,374.7 L731.6,374.8 L733.6,374.8 L735.6,374.8 L737.6,374.8 L739.6,374.8 L741.6,374.8 L743.6,374.8 L745.6,374.8 L747.6,374.8 L749.6,374.8 L751.6,374.8 L753.6,374.8 L755.6,374.8 L757.6,374.8 L759.6,374.8 L761.6,374.8 L763.6,374.8 L765.6,374.8 L767.6,374.7 L769.6,374.7 L771.6,374.7 L773.6,374.6 L775.6,374.6 L777.6,374.5 L779.6,374.5 L781.6,374.4 L783.6,374.4 L785.6,374.3 L787.6,374.3 L789.6,374.2 L791.6,374.1 L793.6,374.1 L795.6,374.0 L797.6,373.9 L799.6,373.9 L801.6,373.8 L803.6,373.7 L805.6,373.7 L807.6,373.6 L809.6,373.5 L811.6,373.4 L813.6,373.4 L815.6,373.3 L817.6,373.1 L819.6,373.0 L821.6,372.9 L823.6,372.8 L825.6,372.7 L827.6,372.5 L829.6,372.4 L831.6,372.3 L833.6,372.2 L835.6,372.1 L837.6,371.9 L839.6,371.8 L841.6,371.7 L843.6,371.6 L845.6,371.6 L847.6,371.5 L849.6,371.4 L851.6,371.4 L853.6,371.3 L855.6,371.3 L857.6,371.3 L859.6,371.3 L861.6,371.4 L863.6,371.4 L865.6,371.5 L867.6,371.6 L869.6,371.7 L871.6,371.8 L873.6,371.9 L875.6,372.0 L877.6,372.1 L879.6,372.2 L881.6,372.4 L883.6,372.5 L885.6,372.6 L887.6,372.7 L889.6,372.8 L891.6,372.9 L893.6,373.0 L895.6,373.1 L897.6,373.1 L899.6,373.2 L901.6,373.2 L903.6,373.3 L905.6,373.3 L907.6,373.3 L909.6,373.3 L911.6,373.4 L913.6,373.4 L915.6,373.4 L917.6,373.4 L919.6,373.5 L921.6,373.5 L923.6,373.5 L925.6,373.5 L927.6,373.6 L929.6,373.6 L931.6,373.6 L933.6,373.6 L935.6,373.6 L937.6,373.7 L939.6,373.7 L941.6,373.7 L943.6,373.7 L945.6,373.7 L947.6,373.7 L949.6,373.8 L951.6,373.8 L953.6,373.8 L955.6,373.8 L957.6,373.8 L959.6,373.8 L961.6,373.8 L963.6,373.9 L965.6,373.9 L967.6,373.9 L969.6,373.9 L971.6,373.9 L973.6,373.9 L975.6,373.9 L977.6,373.9 L979.6,373.9 L981.6,373.9 L983.6,374.0 L985.6,374.0 L987.6,374.0 L989.6,374.0 L991.6,374.0 L993.6,374.0 L995.6,374.0 L997.6,374.0 L999.6,374.0 L1001.6,374.0 L1003.6,374.0 L1005.6,374.0 L1007.6,374.0 L1009.6,374.0 L1011.6,374.0 L1013.6,374.0 L1015.6,374.0 L1017.6,374.0 L1019.6,374.0 L1021.6,374.0 L1023.6,374.0 L1025.6,374.0 L1027.6,374.0 L1029.6,374.1 L1031.6,374.1 L1033.6,374.1 L1035.6,374.1 L1037.6,374.1 L1039.6,374.1 L1041.6,374.1 L1043.6,374.1 L1045.6,374.1 L1047.6,374.1 L1049.6,374.1 L1051.6,374.1 L1053.6,374.1 L1055.6,374.1 L1057.6,374.1 L1059.6,374.1 L1061.6,374.1 L1063.6,374.1 L1065.6,374.1 L1067.6,374.1 L1069.6,374.1 L1071.6,374.1 L1073.6,374.1 L1075.6,374.1 L1077.6,374.1 L1079.6,374.1 L1081.6,374.1 L1083.6,374.1 L1085.6,374.1 L1087.6,374.1 L1089.6,374.1 L1091.6,374.1 L1093.6,374.1 L1095.6,374.1 L1097.6,374.1 L1099.6,374.2 L1101.6,374.2 L1103.6,374.2 L1105.6,374.2 L1107.6,374.2 L1109.6,374.2 L1111.6,374.2 L1113.6,374.2 L1115.6,374.2 L1117.6,374.2 L1119.6,374.2 L1121.6,374.2 L1123.6,374.2 L1125.6,374.2 L1127.6,374.2 L1129.6,374.2 L1131.6,374.2 L1133.6,374.2 L1135.6,374.2 L1137.6,374.2 L1139.6,374.2 L1141.6,374.2 L1143.6,374.2 L1145.6,374.2 L1147.6,374.2 L1149.6,374.2 L1151.6,374.2 L1153.6,374.2 L1155.6,374.2 L1157.6,374.2 L1159.6,374.2 L1161.6,374.2 L1163.6,374.2 L1165.6,374.2 L1167.6,374.2 L1169.6,374.2 L1171.6,374.2 L1173.6,374.2 L1175.6,374.2 L1177.6,374.2 L1179.6,374.2 L1181.6,374.2 L1183.6,374.2 L1185.6,374.2 L1187.6,374.2 L1189.6,374.2 L1191.6,374.2 L1193.6,374.2 L1195.6,374.2 L1197.6,374.2 L1199.6,374.2 L1201.6,374.2 L1203.6,374.2 L1205.6,374.3 L1207.6,374.3 L1209.6,374.3 L1211.6,374.3 L1213.6,374.3 L1215.6,374.3 L1217.6,374.3 L1219.6,374.3 L1221.6,374.3 L1223.6,374.3 L1225.6,374.3 L1227.6,374.3 L1229.6,374.3 L1231.6,374.3 L1233.6,374.3 L1235.6,374.3 L1237.6,374.3 L1239.6,374.3 L1241.6,374.3 L1243.6,374.3 L1245.6,374.3 L1247.6,374.3 L1249.6,374.3 L1251.6,374.3 L1253.6,374.3 L1255.6,374.3 L1257.6,374.3 L1259.6,374.3 L1261.6,374.3 L1263.6,374.3 L1265.6,374.3 L1267.6,374.3 L1269.6,374.3 L1271.6,374.3 L1273.6,374.3 L1275.6,374.3 L1277.6,374.3 L1279.6,374.3 L1281.6,374.3 L1283.6,374.3 L1285.6,374.3 L1287.6,374.3 L1289.6,374.3 L1291.6,374.3 L1293.6,374.3 L1295.6,374.3 L1297.6,374.3 L1299.6,374.3 L1301.6,374.3 L1303.6,374.3 L1305.6,374.3 L1307.6,374.3 L1309.6,374.3 L1311.6,374.3 L1313.6,374.3 L1315.6,374.3 L1317.6,374.3 L1319.6,374.3 L1321.6,374.3 L1323.6,374.3 L1325.6,374.3 L1327.6,374.3 L1329.6,374.3 L1331.6,374.3 L1333.6,374.3 L1335.6,374.3 L1337.6,374.3 L1339.6,374.3 L1341.6,374.3 L1343.6,374.3 L1345.6,374.3 L1347.6,374.3 L1349.6,374.3 L1351.6,374.3 L1353.6,374.3 L1355.6,374.3 L1356.1,374.3" fill="none" stroke="#000" stroke-width="2.8" stroke-linejoin="round" stroke-linecap="round"/>
<text x="1104.1" y="272.0" font-size="39.7" font-weight="bold" fill="#000">Chaetognath</text>
<rect x="103" y="238.5" width="1313" height="141.7" fill="none" stroke="#333333" stroke-width="2.0"/>
<line x1="94" x2="103" y1="374.5" y2="374.5" stroke="#333333" stroke-width="2.2"/>
<text x="88" y="383.5" font-size="25.5" font-weight="bold" fill="#4D4D4D" text-anchor="end">0.0</text>
<line x1="94" x2="103" y1="336.0" y2="336.0" stroke="#333333" stroke-width="2.2"/>
<text x="88" y="345.0" font-size="25.5" font-weight="bold" fill="#4D4D4D" text-anchor="end">0.2</text>
<line x1="94" x2="103" y1="297.6" y2="297.6" stroke="#333333" stroke-width="2.2"/>
<text x="88" y="306.6" font-size="25.5" font-weight="bold" fill="#4D4D4D" text-anchor="end">0.4</text>
<line x1="94" x2="103" y1="259.1" y2="259.1" stroke="#333333" stroke-width="2.2"/>
<text x="88" y="268.1" font-size="25.5" font-weight="bold" fill="#4D4D4D" text-anchor="end">0.6</text>
<line y1="380.2" y2="389.2" x1="323.5" x2="323.5" stroke="#333333" stroke-width="2.2"/>
<text x="323.5" y="412.8" font-size="25.5" font-weight="bold" fill="#4D4D4D" text-anchor="middle">2.5</text>
<line y1="380.2" y2="389.2" x1="581.6" x2="581.6" stroke="#333333" stroke-width="2.2"/>
<text x="581.6" y="412.8" font-size="25.5" font-weight="bold" fill="#4D4D4D" text-anchor="middle">5.0</text>
<line y1="380.2" y2="389.2" x1="839.8" x2="839.8" stroke="#333333" stroke-width="2.2"/>
<text x="839.8" y="412.8" font-size="25.5" font-weight="bold" fill="#4D4D4D" text-anchor="middle">7.5</text>
<line y1="380.2" y2="389.2" x1="1097.9" x2="1097.9" stroke="#333333" stroke-width="2.2"/>
<text x="1097.9" y="412.8" font-size="25.5" font-weight="bold" fill="#4D4D4D" text-anchor="middle">10.0</text>
<line y1="380.2" y2="389.2" x1="1356.0" x2="1356.0" stroke="#333333" stroke-width="2.2"/>
<text x="1356.0" y="412.8" font-size="25.5" font-weight="bold" fill="#4D4D4D" text-anchor="middle">12.5</text>
<line x1="103" x2="1416" y1="555.8" y2="555.8" stroke="#EBEBEB" stroke-width="1.2"/>
<line x1="103" x2="1416" y1="523.7" y2="523.7" stroke="#EBEBEB" stroke-width="1.2"/>
<line x1="103" x2="1416" y1="491.6" y2="491.6" stroke="#EBEBEB" stroke-width="1.2"/>
<line x1="103" x2="1416" y1="459.5" y2="459.5" stroke="#EBEBEB" stroke-width="1.2"/>
<line y1="436.1" y2="577.8" x1="171.1" x2="171.1" stroke="#EBEBEB" stroke-width="1.2"/>
<line y1="436.1" y2="577.8" x1="493.9" x2="493.9" stroke="#EBEBEB" stroke-width="1.2"/>
<line y1="436.1" y2="577.8" x1="816.6" x2="816.6" stroke="#EBEBEB" stroke-width="1.2"/>
<line y1="436.1" y2="577.8" x1="1139.3" x2="1139.3" stroke="#EBEBEB" stroke-width="1.2"/>
<line x1="103" x2="1416" y1="571.9" y2="571.9" stroke="#EBEBEB" stroke-width="2.4"/>
<line x1="103" x2="1416" y1="539.8" y2="539.8" stroke="#EBEBEB" stroke-width="2.4"/>
<line x1="103" x2="1416" y1="507.6" y2="507.6" stroke="#EBEBEB" stroke-width="2.4"/>
<line x1="103" x2="1416" y1="475.5" y2="475.5" stroke="#EBEBEB" stroke-width="2.4"/>
<line x1="103" x2="1416" y1="443.4" y2="443.4" stroke="#EBEBEB" stroke-width="2.4"/>
<line y1="436.1" y2="577.8" x1="332.5" x2="332.5" stroke="#EBEBEB" stroke-width="2.4"/>
<line y1="436.1" y2="577.8" x1="655.2" x2="655.2" stroke="#EBEBEB" stroke-width="2.4"/>
<line y1="436.1" y2="577.8" x1="978.0" x2="978.0" stroke="#EBEBEB" stroke-width="2.4"/>
<line y1="436.1" y2="577.8" x1="1300.7" x2="1300.7" stroke="#EBEBEB" stroke-width="2.4"/>
<path d="M161.6,500.1 L163.6,498.4 L165.6,495.9 L167.6,493.3 L169.6,490.5 L171.6,487.7 L173.6,484.8 L175.6,481.8 L177.6,478.8 L179.6,475.8 L181.6,473.1 L183.6,470.5 L185.6,468.3 L187.6,466.3 L189.6,464.5 L191.6,462.9 L193.6,461.4 L195.6,460.2 L197.6,459.1 L199.6,458.2 L201.6,457.5 L203.6,456.8 L205.6,456.3 L207.6,455.9 L209.6,455.7 L211.6,455.7 L213.6,455.8 L215.6,456.1 L217.6,456.4 L219.6,456.8 L221.6,457.2 L223.6,457.7 L225.6,458.3 L227.6,458.9 L229.6,459.5 L231.6,460.2 L233.6,460.8 L235.6,461.5 L237.6,462.2 L239.6,462.9 L241.6,463.6 L243.6,464.4 L245.6,465.1 L247.6,465.9 L249.6,466.6 L251.6,467.4 L253.6,468.2 L255.6,468.9 L257.6,469.7 L259.6,470.5 L261.6,471.3 L263.6,472.1 L265.6,472.9 L267.6,473.8 L269.6,474.6 L271.6,475.4 L273.6,476.2 L275.6,477.0 L277.6,477.7 L279.6,478.4 L281.6,479.2 L283.6,479.9 L285.6,480.6 L287.6,481.2 L289.6,481.9 L291.6,482.6 L293.6,483.3 L295.6,484.0 L297.6,484.8 L299.6,485.5 L301.6,486.2 L303.6,486.9 L305.6,487.7 L307.6,488.4 L309.6,489.2 L311.6,490.0 L313.6,490.8 L315.6,491.7 L317.6,492.6 L319.6,493.6 L321.6,494.6 L323.6,495.7 L325.6,496.9 L327.6,498.2 L329.6,499.5 L331.6,500.8 L333.6,502.2 L335.6,503.6 L337.6,505.1 L339.6,506.5 L341.6,508.1 L343.6,509.6 L345.6,511.3 L347.6,513.0 L349.6,514.7 L351.6,516.5 L353.6,518.2 L355.6,520.0 L357.6,521.7 L359.6,523.4 L361.6,525.1 L363.6,526.7 L365.6,528.3 L367.6,530.0 L369.6,531.6 L371.6,533.2 L373.6,534.8 L375.6,536.3 L377.6,537.7 L379.6,539.0 L381.6,540.3 L383.6,541.5 L385.6,542.6 L387.6,543.6 L389.6,544.7 L391.6,545.7 L393.6,546.6 L395.6,547.5 L397.6,548.3 L399.6,549.1 L401.6,549.8 L403.6,550.4 L405.6,550.9 L407.6,551.5 L409.6,552.0 L411.6,552.5 L413.6,552.9 L415.6,553.3 L417.6,553.7 L419.6,554.0 L421.6,554.3 L423.6,554.5 L425.6,554.7 L427.6,554.9 L429.6,555.0 L431.6,555.1 L433.6,555.3 L435.6,555.4 L437.6,555.5 L439.6,555.5 L441.6,555.6 L443.6,555.7 L445.6,555.7 L447.6,555.8 L449.6,555.8 L451.6,555.8 L453.6,555.8 L455.6,555.8 L457.6,555.8 L459.6,555.8 L461.6,555.8 L463.6,555.8 L465.6,555.8 L467.6,555.8 L469.6,555.9 L471.6,555.9 L473.6,555.9 L475.6,555.9 L477.6,555.9 L479.6,555.9 L481.6,555.9 L483.6,555.9 L485.6,555.9 L487.6,555.9 L489.6,556.0 L491.6,556.1 L493.6,556.1 L495.6,556.2 L497.6,556.4 L499.6,556.5 L501.6,556.7 L503.6,556.8 L505.6,557.0 L507.6,557.1 L509.6,557.3 L511.6,557.5 L513.6,557.7 L515.6,557.9 L517.6,558.0 L519.6,558.2 L521.6,558.4 L523.6,558.7 L525.6,558.9 L527.6,559.1 L529.6,559.4 L531.6,559.6 L533.6,559.9 L535.6,560.2 L537.6,560.4 L539.6,560.7 L541.6,560.9 L543.6,561.2 L545.6,561.5 L547.6,561.7 L549.6,562.0 L551.6,562.3 L553.6,562.6 L555.6,562.9 L557.6,563.2 L559.6,563.4 L561.6,563.6 L563.6,563.8 L565.6,563.9 L567.6,564.0 L569.6,564.1 L571.6,564.1 L573.6,564.2 L575.6,564.2 L577.6,564.3 L579.6,564.3 L581.6,564.3 L583.6,564.4 L585.6,564.4 L587.6,564.4 L589.6,564.4 L591.6,564.5 L593.6,564.5 L595.6,564.5 L597.6,564.6 L599.6,564.6 L601.6,564.6 L603.6,564.7 L605.6,564.7 L607.6,564.8 L609.6,564.8 L611.6,564.9 L613.6,564.9 L615.6,565.0 L617.6,565.1 L619.6,565.1 L621.6,565.2 L623.6,565.3 L625.6,565.3 L627.6,565.4 L629.6,565.5 L631.6,565.5 L633.6,565.6 L635.6,565.7 L637.6,565.8 L639.6,565.9 L641.6,565.9 L643.6,566.0 L645.6,566.1 L647.6,566.2 L649.6,566.3 L651.6,566.4 L653.6,566.5 L655.6,566.7 L657.6,566.8 L659.6,566.9 L661.6,567.0 L663.6,567.1 L665.6,567.2 L667.6,567.3 L669.6,567.3 L671.6,567.4 L673.6,567.5 L675.6,567.6 L677.6,567.6 L679.6,567.7 L681.6,567.8 L683.6,567.8 L685.6,567.9 L687.6,567.9 L689.6,568.0 L691.6,568.0 L693.6,568.0 L695.6,568.0 L697.6,568.0 L699.6,568.0 L701.6,568.0 L703.6,568.0 L705.6,568.0 L707.6,568.0 L709.6,568.0 L711.6,568.0 L713.6,568.0 L715.6,568.0 L717.6,568.0 L719.6,568.0 L721.6,568.0 L723.6,568.0 L725.6,568.0 L727.6,568.0 L729.6,568.0 L731.6,568.0 L733.6,568.1 L735.6,568.1 L737.6,568.2 L739.6,568.3 L741.6,568.4 L743.6,568.4 L745.6,568.5 L747.6,568.6 L749.6,568.7 L751.6,568.8 L753.6,569.0 L755.6,569.1 L757.6,569.2 L759.6,569.3 L761.6,569.4 L763.6,569.5 L765.6,569.6 L767.6,569.7 L769.6,569.8 L771.6,569.9 L773.6,570.0 L775.6,570.1 L777.6,570.2 L779.6,570.3 L781.6,570.4 L783.6,570.5 L785.6,570.6 L787.6,570.7 L789.6,570.8 L791.6,570.8 L793.6,570.9 L795.6,570.9 L797.6,571.0 L799.6,571.0 L801.6,571.0 L803.6,571.0 L805.6,571.0 L807.6,571.0 L809.6,571.0 L811.6,571.0 L813.6,571.0 L815.6,571.0 L817.6,571.0 L819.6,571.0 L821.6,571.0 L823.6,570.9 L825.6,570.9 L827.6,570.9 L829.6,570.9 L831.6,570.9 L833.6,570.9 L835.6,570.9 L837.6,570.9 L839.6,570.8 L841.6,570.8 L843.6,570.8 L845.6,570.8 L847.6,570.8 L849.6,570.8 L851.6,570.7 L853.6,570.7 L855.6,570.7 L857.6,570.7 L859.6,570.7 L861.6,570.6 L863.6,570.6 L865.6,570.6 L867.6,570.6 L869.6,570.6 L871.6,570.5 L873.6,570.5 L875.6,570.5 L877.6,570.5 L879.6,570.4 L881.6,570.4 L883.6,570.4 L885.6,570.4 L887.6,570.4 L889.6,570.3 L891.6,570.3 L893.6,570.3 L895.6,570.3 L897.6,570.2 L899.6,570.2 L901.6,570.2 L903.6,570.1 L905.6,570.1 L907.6,570.1 L909.6,570.1 L911.6,570.0 L913.6,570.0 L915.6,570.0 L917.6,570.0 L919.6,569.9 L921.6,569.9 L923.6,569.9 L925.6,569.8 L927.6,569.8 L929.6,569.7 L931.6,569.7 L933.6,569.6 L935.6,569.5 L937.6,569.5 L939.6,569.4 L941.6,569.4 L943.6,569.3 L945.6,569.2 L947.6,569.2 L949.6,569.1 L951.6,569.0 L953.6,569.0 L955.6,568.9 L957.6,568.8 L959.6,568.7 L961.6,568.7 L963.6,568.6 L965.6,568.5 L967.6,568.5 L969.6,568.4 L971.6,568.3 L973.6,568.2 L975.6,568.2 L977.6,568.1 L979.6,568.0 L981.6,568.0 L983.6,567.9 L985.6,567.9 L987.6,567.8 L989.6,567.7 L991.6,567.7 L993.6,567.6 L995.6,567.6 L997.6,567.6 L999.6,567.5 L1001.6,567.5 L1003.6,567.4 L1005.6,567.4 L1007.6,567.4 L1009.6,567.4 L1011.6,567.3 L1013.6,567.3 L1015.6,567.3 L1017.6,567.3 L1019.6,567.3 L1021.6,567.3 L1023.6,567.3 L1025.6,567.3 L1027.6,567.4 L1029.6,567.4 L1031.6,567.5 L1033.6,567.5 L1035.6,567.6 L1037.6,567.6 L1039.6,567.7 L1041.6,567.8 L1043.6,567.8 L1045.6,567.9 L1047.6,568.0 L1049.6,568.1 L1051.6,568.2 L1053.6,568.3 L1055.6,568.4 L1057.6,568.5 L1059.6,568.6 L1061.6,568.7 L1063.6,568.8 L1065.6,568.9 L1067.6,569.0 L1069.6,569.1 L1071.6,569.2 L1073.6,569.4 L1075.6,569.5 L1077.6,569.6 L1079.6,569.7 L1081.6,569.8 L1083.6,569.9 L1085.6,570.0 L1087.6,570.1 L1089.6,570.2 L1091.6,570.3 L1093.6,570.4 L1095.6,570.5 L1097.6,570.6 L1099.6,570.7 L1101.6,570.7 L1103.6,570.8 L1105.6,570.9 L1107.6,570.9 L1109.6,571.0 L1111.6,571.1 L1113.6,571.1 L1115.6,571.1 L1117.6,571.2 L1119.6,571.2 L1121.6,571.2 L1123.6,571.2 L1125.6,571.3 L1127.6,571.3 L1129.6,571.3 L1131.6,571.3 L1133.6,571.3 L1135.6,571.3 L1137.6,571.4 L1139.6,571.4 L1141.6,571.4 L1143.6,571.4 L1145.6,571.4 L1147.6,571.4 L1149.6,571.5 L1151.6,571.5 L1153.6,571.5 L1155.6,571.5 L1157.6,571.5 L1159.6,571.5 L1161.6,571.5 L1163.6,571.6 L1165.6,571.6 L1167.6,571.6 L1169.6,571.6 L1171.6,571.6 L1173.6,571.6 L1175.6,571.6 L1177.6,571.7 L1179.6,571.7 L1181.6,571.7 L1183.6,571.7 L1185.6,571.7 L1187.6,571.7 L1189.6,571.7 L1191.6,571.7 L1193.6,571.8 L1195.6,571.8 L1197.6,571.8 L1199.6,571.8 L1201.6,571.8 L1203.6,571.8 L1205.6,571.8 L1207.6,571.8 L1209.6,571.8 L1211.6,571.8 L1213.6,571.9 L1215.6,571.9 L1217.6,571.9 L1219.6,571.9 L1221.6,571.9 L1223.6,571.9 L1225.6,571.9 L1227.6,571.9 L1229.6,571.9 L1231.6,571.9 L1233.6,571.9 L1235.6,571.9 L1237.6,571.9 L1239.6,571.9 L1241.6,572.0 L1243.6,572.0 L1245.6,572.0 L1247.6,572.0 L1249.6,572.0 L1251.6,572.0 L1253.6,572.0 L1255.6,572.0 L1257.6,572.0 L1259.6,572.0 L1261.6,572.0 L1263.6,572.0 L1265.6,572.0 L1267.6,572.0 L1269.6,572.0 L1271.6,572.0 L1273.6,572.0 L1275.6,572.0 L1277.6,572.0 L1279.6,572.0 L1281.6,572.0 L1283.6,572.0 L1285.6,572.0 L1287.6,572.0 L1289.6,572.0 L1291.6,572.0 L1293.6,571.9 L1295.6,571.9 L1297.6,571.9 L1299.6,571.9 L1301.6,571.9 L1303.6,571.8 L1305.6,571.8 L1307.6,571.8 L1309.6,571.8 L1311.6,571.7 L1313.6,571.7 L1315.6,571.7 L1317.6,571.6 L1319.6,571.6 L1321.6,571.5 L1323.6,571.5 L1325.6,571.5 L1327.6,571.4 L1329.6,571.4 L1331.6,571.4 L1333.6,571.3 L1335.6,571.3 L1337.6,571.2 L1339.6,571.2 L1341.6,571.1 L1343.6,571.1 L1345.6,571.1 L1347.6,571.0 L1349.6,571.0 L1351.6,570.9 L1353.6,570.9 L1355.6,570.8 L1357.1,570.8 L1357.1,571.9 L161.6,571.9 Z" fill="#999999" fill-opacity="0.5" stroke="none"/>
<path d="M161.6,500.1 L163.6,498.4 L165.6,495.9 L167.6,493.3 L169.6,490.5 L171.6,487.7 L173.6,484.8 L175.6,481.8 L177.6,478.8 L179.6,475.8 L181.6,473.1 L183.6,470.5 L185.6,468.3 L187.6,466.3 L189.6,464.5 L191.6,462.9 L193.6,461.4 L195.6,460.2 L197.6,459.1 L199.6,458.2 L201.6,457.5 L203.6,456.8 L205.6,456.3 L207.6,455.9 L209.6,455.7 L211.6,455.7 L213.6,455.8 L215.6,456.1 L217.6,456.4 L219.6,456.8 L221.6,457.2 L223.6,457.7 L225.6,458.3 L227.6,458.9 L229.6,459.5 L231.6,460.2 L233.6,460.8 L235.6,461.5 L237.6,462.2 L239.6,462.9 L241.6,463.6 L243.6,464.4 L245.6,465.1 L247.6,465.9 L249.6,466.6 L251.6,467.4 L253.6,468.2 L255.6,468.9 L257.6,469.7 L259.6,470.5 L261.6,471.3 L263.6,472.1 L265.6,472.9 L267.6,473.8 L269.6,474.6 L271.6,475.4 L273.6,476.2 L275.6,477.0 L277.6,477.7 L279.6,478.4 L281.6,479.2 L283.6,479.9 L285.6,480.6 L287.6,481.2 L289.6,481.9 L291.6,482.6 L293.6,483.3 L295.6,484.0 L297.6,484.8 L299.6,485.5 L301.6,486.2 L303.6,486.9 L305.6,487.7 L307.6,488.4 L309.6,489.2 L311.6,490.0 L313.6,490.8 L315.6,491.7 L317.6,492.6 L319.6,493.6 L321.6,494.6 L323.6,495.7 L325.6,496.9 L327.6,498.2 L329.6,499.5 L331.6,500.8 L333.6,502.2 L335.6,503.6 L337.6,505.1 L339.6,506.5 L341.6,508.1 L343.6,509.6 L345.6,511.3 L347.6,513.0 L349.6,514.7 L351.6,516.5 L353.6,518.2 L355.6,520.0 L357.6,521.7 L359.6,523.4 L361.6,525.1 L363.6,526.7 L365.6,528.3 L367.6,530.0 L369.6,531.6 L371.6,533.2 L373.6,534.8 L375.6,536.3 L377.6,537.7 L379.6,539.0 L381.6,540.3 L383.6,541.5 L385.6,542.6 L387.6,543.6 L389.6,544.7 L391.6,545.7 L393.6,546.6 L395.6,547.5 L397.6,548.3 L399.6,549.1 L401.6,549.8 L403.6,550.4 L405.6,550.9 L407.6,551.5 L409.6,552.0 L411.6,552.5 L413.6,552.9 L415.6,553.3 L417.6,553.7 L419.6,554.0 L421.6,554.3 L423.6,554.5 L425.6,554.7 L427.6,554.9 L429.6,555.0 L431.6,555.1 L433.6,555.3 L435.6,555.4 L437.6,555.5 L439.6,555.5 L441.6,555.6 L443.6,555.7 L445.6,555.7 L447.6,555.8 L449.6,555.8 L451.6,555.8 L453.6,555.8 L455.6,555.8 L457.6,555.8 L459.6,555.8 L461.6,555.8 L463.6,555.8 L465.6,555.8 L467.6,555.8 L469.6,555.9 L471.6,555.9 L473.6,555.9 L475.6,555.9 L477.6,555.9 L479.6,555.9 L481.6,555.9 L483.6,555.9 L485.6,555.9 L487.6,555.9 L489.6,556.0 L491.6,556.1 L493.6,556.1 L495.6,556.2 L497.6,556.4 L499.6,556.5 L501.6,556.7 L503.6,556.8 L505.6,557.0 L507.6,557.1 L509.6,557.3 L511.6,557.5 L513.6,557.7 L515.6,557.9 L517.6,558.0 L519.6,558.2 L521.6,558.4 L523.6,558.7 L525.6,558.9 L527.6,559.1 L529.6,559.4 L531.6,559.6 L533.6,559.9 L535.6,560.2 L537.6,560.4 L539.6,560.7 L541.6,560.9 L543.6,561.2 L545.6,561.5 L547.6,561.7 L549.6,562.0 L551.6,562.3 L553.6,562.6 L555.6,562.9 L557.6,563.2 L559.6,563.4 L561.6,563.6 L563.6,563.8 L565.6,563.9 L567.6,564.0 L569.6,564.1 L571.6,564.1 L573.6,564.2 L575.6,564.2 L577.6,564.3 L579.6,564.3 L581.6,564.3 L583.6,564.4 L585.6,564.4 L587.6,564.4 L589.6,564.4 L591.6,564.5 L593.6,564.5 L595.6,564.5 L597.6,564.6 L599.6,564.6 L601.6,564.6 L603.6,564.7 L605.6,564.7 L607.6,564.8 L609.6,564.8 L611.6,564.9 L613.6,564.9 L615.6,565.0 L617.6,565.1 L619.6,565.1 L621.6,565.2 L623.6,565.3 L625.6,565.3 L627.6,565.4 L629.6,565.5 L631.6,565.5 L633.6,565.6 L635.6,565.7 L637.6,565.8 L639.6,565.9 L641.6,565.9 L643.6,566.0 L645.6,566.1 L647.6,566.2 L649.6,566.3 L651.6,566.4 L653.6,566.5 L655.6,566.7 L657.6,566.8 L659.6,566.9 L661.6,567.0 L663.6,567.1 L665.6,567.2 L667.6,567.3 L669.6,567.3 L671.6,567.4 L673.6,567.5 L675.6,567.6 L677.6,567.6 L679.6,567.7 L681.6,567.8 L683.6,567.8 L685.6,567.9 L687.6,567.9 L689.6,568.0 L691.6,568.0 L693.6,568.0 L695.6,568.0 L697.6,568.0 L699.6,568.0 L701.6,568.0 L703.6,568.0 L705.6,568.0 L707.6,568.0 L709.6,568.0 L711.6,568.0 L713.6,568.0 L715.6,568.0 L717.6,568.0 L719.6,568.0 L721.6,568.0 L723.6,568.0 L725.6,568.0 L727.6,568.0 L729.6,568.0 L731.6,568.0 L733.6,568.1 L735.6,568.1 L737.6,568.2 L739.6,568.3 L741.6,568.4 L743.6,568.4 L745.6,568.5 L747.6,568.6 L749.6,568.7 L751.6,568.8 L753.6,569.0 L755.6,569.1 L757.6,569.2 L759.6,569.3 L761.6,569.4 L763.6,569.5 L765.6,569.6 L767.6,569.7 L769.6,569.8 L771.6,569.9 L773.6,570.0 L775.6,570.1 L777.6,570.2 L779.6,570.3 L781.6,570.4 L783.6,570.5 L785.6,570.6 L787.6,570.7 L789.6,570.8 L791.6,570.8 L793.6,570.9 L795.6,570.9 L797.6,571.0 L799.6,571.0 L801.6,571.0 L803.6,571.0 L805.6,571.0 L807.6,571.0 L809.6,571.0 L811.6,571.0 L813.6,571.0 L815.6,571.0 L817.6,571.0 L819.6,571.0 L821.6,571.0 L823.6,570.9 L825.6,570.9 L827.6,570.9 L829.6,570.9 L831.6,570.9 L833.6,570.9 L835.6,570.9 L837.6,570.9 L839.6,570.8 L841.6,570.8 L843.6,570.8 L845.6,570.8 L847.6,570.8 L849.6,570.8 L851.6,570.7 L853.6,570.7 L855.6,570.7 L857.6,570.7 L859.6,570.7 L861.6,570.6 L863.6,570.6 L865.6,570.6 L867.6,570.6 L869.6,570.6 L871.6,570.5 L873.6,570.5 L875.6,570.5 L877.6,570.5 L879.6,570.4 L881.6,570.4 L883.6,570.4 L885.6,570.4 L887.6,570.4 L889.6,570.3 L891.6,570.3 L893.6,570.3 L895.6,570.3 L897.6,570.2 L899.6,570.2 L901.6,570.2 L903.6,570.1 L905.6,570.1 L907.6,570.1 L909.6,570.1 L911.6,570.0 L913.6,570.0 L915.6,570.0 L917.6,570.0 L919.6,569.9 L921.6,569.9 L923.6,569.9 L925.6,569.8 L927.6,569.8 L929.6,569.7 L931.6,569.7 L933.6,569.6 L935.6,569.5 L937.6,569.5 L939.6,569.4 L941.6,569.4 L943.6,569.3 L945.6,569.2 L947.6,569.2 L949.6,569.1 L951.6,569.0 L953.6,569.0 L955.6,568.9 L957.6,568.8 L959.6,568.7 L961.6,568.7 L963.6,568.6 L965.6,568.5 L967.6,568.5 L969.6,568.4 L971.6,568.3 L973.6,568.2 L975.6,568.2 L977.6,568.1 L979.6,568.0 L981.6,568.0 L983.6,567.9 L985.6,567.9 L987.6,567.8 L989.6,567.7 L991.6,567.7 L993.6,567.6 L995.6,567.6 L997.6,567.6 L999.6,567.5 L1001.6,567.5 L1003.6,567.4 L1005.6,567.4 L1007.6,567.4 L1009.6,567.4 L1011.6,567.3 L1013.6,567.3 L1015.6,567.3 L1017.6,567.3 L1019.6,567.3 L1021.6,567.3 L1023.6,567.3 L1025.6,567.3 L1027.6,567.4 L1029.6,567.4 L1031.6,567.5 L1033.6,567.5 L1035.6,567.6 L1037.6,567.6 L1039.6,567.7 L1041.6,567.8 L1043.6,567.8 L1045.6,567.9 L1047.6,568.0 L1049.6,568.1 L1051.6,568.2 L1053.6,568.3 L1055.6,568.4 L1057.6,568.5 L1059.6,568.6 L1061.6,568.7 L1063.6,568.8 L1065.6,568.9 L1067.6,569.0 L1069.6,569.1 L1071.6,569.2 L1073.6,569.4 L1075.6,569.5 L1077.6,569.6 L1079.6,569.7 L1081.6,569.8 L1083.6,569.9 L1085.6,570.0 L1087.6,570.1 L1089.6,570.2 L1091.6,570.3 L1093.6,570.4 L1095.6,570.5 L1097.6,570.6 L1099.6,570.7 L1101.6,570.7 L1103.6,570.8 L1105.6,570.9 L1107.6,570.9 L1109.6,571.0 L1111.6,571.1 L1113.6,571.1 L1115.6,571.1 L1117.6,571.2 L1119.6,571.2 L1121.6,571.2 L1123.6,571.2 L1125.6,571.3 L1127.6,571.3 L1129.6,571.3 L1131.6,571.3 L1133.6,571.3 L1135.6,571.3 L1137.6,571.4 L1139.6,571.4 L1141.6,571.4 L1143.6,571.4 L1145.6,571.4 L1147.6,571.4 L1149.6,571.5 L1151.6,571.5 L1153.6,571.5 L1155.6,571.5 L1157.6,571.5 L1159.6,571.5 L1161.6,571.5 L1163.6,571.6 L1165.6,571.6 L1167.6,571.6 L1169.6,571.6 L1171.6,571.6 L1173.6,571.6 L1175.6,571.6 L1177.6,571.7 L1179.6,571.7 L1181.6,571.7 L1183.6,571.7 L1185.6,571.7 L1187.6,571.7 L1189.6,571.7 L1191.6,571.7 L1193.6,571.8 L1195.6,571.8 L1197.6,571.8 L1199.6,571.8 L1201.6,571.8 L1203.6,571.8 L1205.6,571.8 L1207.6,571.8 L1209.6,571.8 L1211.6,571.8 L1213.6,571.9 L1215.6,571.9 L1217.6,571.9 L1219.6,571.9 L1221.6,571.9 L1223.6,571.9 L1225.6,571.9 L1227.6,571.9 L1229.6,571.9 L1231.6,571.9 L1233.6,571.9 L1235.6,571.9 L1237.6,571.9 L1239.6,571.9 L1241.6,572.0 L1243.6,572.0 L1245.6,572.0 L1247.6,572.0 L1249.6,572.0 L1251.6,572.0 L1253.6,572.0 L1255.6,572.0 L1257.6,572.0 L1259.6,572.0 L1261.6,572.0 L1263.6,572.0 L1265.6,572.0 L1267.6,572.0 L1269.6,572.0 L1271.6,572.0 L1273.6,572.0 L1275.6,572.0 L1277.6,572.0 L1279.6,572.0 L1281.6,572.0 L1283.6,572.0 L1285.6,572.0 L1287.6,572.0 L1289.6,572.0 L1291.6,572.0 L1293.6,571.9 L1295.6,571.9 L1297.6,571.9 L1299.6,571.9 L1301.6,571.9 L1303.6,571.8 L1305.6,571.8 L1307.6,571.8 L1309.6,571.8 L1311.6,571.7 L1313.6,571.7 L1315.6,571.7 L1317.6,571.6 L1319.6,571.6 L1321.6,571.5 L1323.6,571.5 L1325.6,571.5 L1327.6,571.4 L1329.6,571.4 L1331.6,571.4 L1333.6,571.3 L1335.6,571.3 L1337.6,571.2 L1339.6,571.2 L1341.6,571.1 L1343.6,571.1 L1345.6,571.1 L1347.6,571.0 L1349.6,571.0 L1351.6,570.9 L1353.6,570.9 L1355.6,570.8 L1357.1,570.8" fill="none" stroke="#000" stroke-width="2.8" stroke-linejoin="round" stroke-linecap="round"/>
<path d="M161.6,535.7 L163.6,534.3 L165.6,532.5 L167.6,530.5 L169.6,528.5 L171.6,526.4 L173.6,524.3 L175.6,522.3 L177.6,520.2 L179.6,518.2 L181.6,516.1 L183.6,514.0 L185.6,512.0 L187.6,509.9 L189.6,507.9 L191.6,505.8 L193.6,503.8 L195.6,501.7 L197.6,499.6 L199.6,497.6 L201.6,495.5 L203.6,493.5 L205.6,491.4 L207.6,489.4 L209.6,487.3 L211.6,485.3 L213.6,483.2 L215.6,481.1 L217.6,479.1 L219.6,477.0 L221.6,475.0 L223.6,472.9 L225.6,470.8 L227.6,468.8 L229.6,466.7 L231.6,464.7 L233.6,462.6 L235.6,460.5 L237.6,458.4 L239.6,456.3 L241.6,454.3 L243.6,452.5 L245.6,450.8 L247.6,449.3 L249.6,448.0 L251.6,446.8 L253.6,445.8 L255.6,444.9 L257.6,444.1 L259.6,443.5 L261.6,442.9 L263.6,442.4 L265.6,442.0 L267.6,441.7 L269.6,441.7 L271.6,441.8 L273.6,442.2 L275.6,442.8 L277.6,443.6 L279.6,444.6 L281.6,445.6 L283.6,446.7 L285.6,447.8 L287.6,449.1 L289.6,450.4 L291.6,451.9 L293.6,453.5 L295.6,455.2 L297.6,457.1 L299.6,459.1 L301.6,461.1 L303.6,463.3 L305.6,465.5 L307.6,467.8 L309.6,470.0 L311.6,472.2 L313.6,474.5 L315.6,476.7 L317.6,478.9 L319.6,481.2 L321.6,483.4 L323.6,485.6 L325.6,487.8 L327.6,490.0 L329.6,492.1 L331.6,494.1 L333.6,496.0 L335.6,497.9 L337.6,499.6 L339.6,501.1 L341.6,502.5 L343.6,503.7 L345.6,504.8 L347.6,505.8 L349.6,506.6 L351.6,507.1 L353.6,507.6 L355.6,508.0 L357.6,508.3 L359.6,508.4 L361.6,508.5 L363.6,508.5 L365.6,508.4 L367.6,508.2 L369.6,508.0 L371.6,507.8 L373.6,507.6 L375.6,507.4 L377.6,507.2 L379.6,507.0 L381.6,506.9 L383.6,506.7 L385.6,506.6 L387.6,506.5 L389.6,506.4 L391.6,506.2 L393.6,506.2 L395.6,506.1 L397.6,506.1 L399.6,506.1 L401.6,506.2 L403.6,506.4 L405.6,506.8 L407.6,507.2 L409.6,507.7 L411.6,508.3 L413.6,509.0 L415.6,509.8 L417.6,510.8 L419.6,512.0 L421.6,513.3 L423.6,514.6 L425.6,515.9 L427.6,517.2 L429.6,518.5 L431.6,519.8 L433.6,521.1 L435.6,522.4 L437.6,523.7 L439.6,525.2 L441.6,526.6 L443.6,528.2 L445.6,529.7 L447.6,531.4 L449.6,533.0 L451.6,534.6 L453.6,536.3 L455.6,537.9 L457.6,539.6 L459.6,541.3 L461.6,542.9 L463.6,544.4 L465.6,545.7 L467.6,546.9 L469.6,548.1 L471.6,549.1 L473.6,550.1 L475.6,551.1 L477.6,552.0 L479.6,552.8 L481.6,553.7 L483.6,554.5 L485.6,555.2 L487.6,556.0 L489.6,556.7 L491.6,557.4 L493.6,558.0 L495.6,558.6 L497.6,559.2 L499.6,559.8 L501.6,560.4 L503.6,560.9 L505.6,561.4 L507.6,561.9 L509.6,562.4 L511.6,562.9 L513.6,563.4 L515.6,563.8 L517.6,564.2 L519.6,564.7 L521.6,565.1 L523.6,565.5 L525.6,565.9 L527.6,566.3 L529.6,566.6 L531.6,567.0 L533.6,567.4 L535.6,567.8 L537.6,568.2 L539.6,568.6 L541.6,568.9 L543.6,569.3 L545.6,569.6 L547.6,569.9 L549.6,570.1 L551.6,570.4 L553.6,570.5 L555.6,570.7 L557.6,570.8 L559.6,570.9 L561.6,571.0 L563.6,571.1 L565.6,571.2 L567.6,571.3 L569.6,571.4 L571.6,571.5 L573.6,571.5 L575.6,571.6 L577.6,571.6 L579.6,571.6 L581.6,571.6 L583.6,571.6 L585.6,571.6 L587.6,571.6 L589.6,571.6 L591.6,571.6 L593.6,571.6 L595.6,571.6 L597.6,571.6 L599.6,571.6 L601.6,571.6 L603.6,571.6 L605.6,571.6 L607.6,571.6 L609.6,571.6 L611.6,571.6 L613.6,571.6 L615.6,571.6 L617.6,571.6 L619.6,571.6 L621.6,571.6 L623.6,571.6 L625.6,571.6 L627.6,571.6 L629.6,571.6 L631.6,571.6 L633.6,571.6 L635.6,571.6 L637.6,571.6 L639.6,571.6 L641.6,571.6 L643.6,571.6 L645.6,571.6 L647.6,571.6 L649.6,571.6 L651.6,571.6 L653.6,571.6 L655.6,571.6 L657.6,571.6 L659.6,571.6 L661.6,571.6 L663.6,571.6 L665.6,571.6 L667.6,571.6 L669.6,571.6 L671.6,571.6 L673.6,571.6 L675.6,571.6 L677.6,571.6 L679.6,571.6 L681.6,571.6 L683.6,571.6 L685.6,571.6 L687.6,571.6 L689.6,571.6 L691.6,571.6 L693.6,571.6 L695.6,571.6 L697.6,571.6 L699.6,571.6 L701.6,571.6 L703.6,571.6 L705.6,571.6 L707.6,571.6 L709.6,571.6 L711.6,571.6 L713.6,571.6 L715.6,571.6 L717.6,571.6 L719.6,571.6 L721.6,571.6 L723.6,571.6 L725.6,571.6 L727.6,571.6 L729.6,571.6 L731.6,571.6 L733.6,571.6 L735.6,571.6 L737.6,571.6 L739.6,571.6 L741.6,571.6 L743.6,571.6 L745.6,571.6 L747.6,571.6 L749.6,571.6 L751.6,571.6 L753.6,571.6 L755.6,571.6 L757.6,571.6 L759.6,571.6 L761.6,571.6 L763.6,571.6 L765.6,571.6 L767.6,571.6 L769.6,571.6 L771.6,571.6 L773.6,571.6 L775.6,571.6 L777.6,571.6 L779.6,571.6 L781.6,571.6 L783.6,571.6 L785.6,571.6 L787.6,571.6 L789.6,571.6 L791.6,571.6 L793.6,571.6 L795.6,571.6 L797.6,571.6 L799.6,571.6 L801.6,571.6 L803.6,571.6 L805.6,571.6 L807.6,571.6 L809.6,571.6 L811.6,571.6 L813.6,571.6 L815.6,571.6 L817.6,571.6 L819.6,571.6 L821.6,571.6 L823.6,571.6 L825.6,571.6 L827.6,571.5 L829.6,571.5 L831.6,571.5 L833.6,571.5 L835.6,571.5 L837.6,571.5 L839.6,571.5 L841.6,571.5 L843.6,571.5 L845.6,571.5 L847.6,571.5 L849.6,571.4 L851.6,571.4 L853.6,571.4 L855.6,571.4 L857.6,571.4 L859.6,571.4 L861.6,571.4 L863.6,571.4 L865.6,571.3 L867.6,571.3 L869.6,571.3 L871.6,571.3 L873.6,571.3 L875.6,571.3 L877.6,571.3 L879.6,571.2 L881.6,571.2 L883.6,571.2 L885.6,571.2 L887.6,571.2 L889.6,571.2 L891.6,571.2 L893.6,571.1 L895.6,571.1 L897.6,571.1 L899.6,571.1 L901.6,571.1 L903.6,571.1 L905.6,571.0 L907.6,571.0 L909.6,571.0 L911.6,571.0 L913.6,571.0 L915.6,571.0 L917.6,570.9 L919.6,570.9 L921.6,570.9 L923.6,570.9 L925.6,570.9 L927.6,570.9 L929.6,570.9 L931.6,570.8 L933.6,570.8 L935.6,570.8 L937.6,570.8 L939.6,570.8 L941.6,570.8 L943.6,570.8 L945.6,570.7 L947.6,570.7 L949.6,570.7 L951.6,570.7 L953.6,570.7 L955.6,570.7 L957.6,570.7 L959.6,570.7 L961.6,570.6 L963.6,570.6 L965.6,570.6 L967.6,570.6 L969.6,570.6 L971.6,570.6 L973.6,570.6 L975.6,570.6 L977.6,570.6 L979.6,570.6 L981.6,570.6 L983.6,570.5 L985.6,570.5 L987.6,570.5 L989.6,570.5 L991.6,570.5 L993.6,570.5 L995.6,570.5 L997.6,570.5 L999.6,570.5 L1001.6,570.5 L1003.6,570.5 L1005.6,570.5 L1007.6,570.5 L1009.6,570.5 L1011.6,570.5 L1013.6,570.5 L1015.6,570.5 L1017.6,570.5 L1019.6,570.5 L1021.6,570.5 L1023.6,570.5 L1025.6,570.6 L1027.6,570.6 L1029.6,570.6 L1031.6,570.6 L1033.6,570.6 L1035.6,570.6 L1037.6,570.7 L1039.6,570.7 L1041.6,570.7 L1043.6,570.7 L1045.6,570.7 L1047.6,570.8 L1049.6,570.8 L1051.6,570.8 L1053.6,570.8 L1055.6,570.9 L1057.6,570.9 L1059.6,570.9 L1061.6,570.9 L1063.6,571.0 L1065.6,571.0 L1067.6,571.0 L1069.6,571.1 L1071.6,571.1 L1073.6,571.1 L1075.6,571.1 L1077.6,571.2 L1079.6,571.2 L1081.6,571.2 L1083.6,571.2 L1085.6,571.3 L1087.6,571.3 L1089.6,571.3 L1091.6,571.3 L1093.6,571.3 L1095.6,571.4 L1097.6,571.4 L1099.6,571.4 L1101.6,571.4 L1103.6,571.4 L1105.6,571.5 L1107.6,571.5 L1109.6,571.5 L1111.6,571.5 L1113.6,571.5 L1115.6,571.5 L1117.6,571.5 L1119.6,571.5 L1121.6,571.5 L1123.6,571.6 L1125.6,571.6 L1127.6,571.6 L1129.6,571.6 L1131.6,571.6 L1133.6,571.6 L1135.6,571.6 L1137.6,571.6 L1139.6,571.6 L1141.6,571.6 L1143.6,571.6 L1145.6,571.7 L1147.6,571.7 L1149.6,571.7 L1151.6,571.7 L1153.6,571.7 L1155.6,571.7 L1157.6,571.7 L1159.6,571.7 L1161.6,571.7 L1163.6,571.7 L1165.6,571.7 L1167.6,571.7 L1169.6,571.8 L1171.6,571.8 L1173.6,571.8 L1175.6,571.8 L1177.6,571.8 L1179.6,571.8 L1181.6,571.8 L1183.6,571.8 L1185.6,571.8 L1187.6,571.8 L1189.6,571.8 L1191.6,571.8 L1193.6,571.8 L1195.6,571.8 L1197.6,571.9 L1199.6,571.9 L1201.6,571.9 L1203.6,571.9 L1205.6,571.9 L1207.6,571.9 L1209.6,571.9 L1211.6,571.9 L1213.6,571.9 L1215.6,571.9 L1217.6,571.9 L1219.6,571.9 L1221.6,571.9 L1223.6,571.9 L1225.6,571.9 L1227.6,571.9 L1229.6,571.9 L1231.6,571.9 L1233.6,572.0 L1235.6,572.0 L1237.6,572.0 L1239.6,572.0 L1241.6,572.0 L1243.6,572.0 L1245.6,572.0 L1247.6,572.0 L1249.6,572.0 L1251.6,572.0 L1253.6,572.0 L1255.6,572.0 L1257.6,572.0 L1259.6,572.0 L1261.6,572.0 L1263.6,572.0 L1265.6,572.0 L1267.6,572.0 L1269.6,572.0 L1271.6,572.0 L1273.6,572.0 L1275.6,572.0 L1277.6,572.0 L1279.6,572.0 L1281.6,572.0 L1283.6,572.0 L1285.6,572.0 L1287.6,572.0 L1289.6,572.0 L1291.6,571.9 L1293.6,571.9 L1295.6,571.9 L1297.6,571.9 L1299.6,571.8 L1301.6,571.8 L1303.6,571.8 L1305.6,571.8 L1307.6,571.7 L1309.6,571.7 L1311.6,571.6 L1313.6,571.6 L1315.6,571.6 L1317.6,571.5 L1319.6,571.5 L1321.6,571.4 L1323.6,571.4 L1325.6,571.3 L1327.6,571.3 L1329.6,571.2 L1331.6,571.2 L1333.6,571.1 L1335.6,571.1 L1337.6,571.0 L1339.6,571.0 L1341.6,570.9 L1343.6,570.9 L1345.6,570.8 L1347.6,570.8 L1349.6,570.7 L1351.6,570.6 L1353.6,570.6 L1355.6,570.5 L1357.1,570.5 L1357.1,571.9 L161.6,571.9 Z" fill="#E69F00" fill-opacity="0.5" stroke="none"/>
<path d="M161.6,535.7 L163.6,534.3 L165.6,532.5 L167.6,530.5 L169.6,528.5 L171.6,526.4 L173.6,524.3 L175.6,522.3 L177.6,520.2 L179.6,518.2 L181.6,516.1 L183.6,514.0 L185.6,512.0 L187.6,509.9 L189.6,507.9 L191.6,505.8 L193.6,503.8 L195.6,501.7 L197.6,499.6 L199.6,497.6 L201.6,495.5 L203.6,493.5 L205.6,491.4 L207.6,489.4 L209.6,487.3 L211.6,485.3 L213.6,483.2 L215.6,481.1 L217.6,479.1 L219.6,477.0 L221.6,475.0 L223.6,472.9 L225.6,470.8 L227.6,468.8 L229.6,466.7 L231.6,464.7 L233.6,462.6 L235.6,460.5 L237.6,458.4 L239.6,456.3 L241.6,454.3 L243.6,452.5 L245.6,450.8 L247.6,449.3 L249.6,448.0 L251.6,446.8 L253.6,445.8 L255.6,444.9 L257.6,444.1 L259.6,443.5 L261.6,442.9 L263.6,442.4 L265.6,442.0 L267.6,441.7 L269.6,441.7 L271.6,441.8 L273.6,442.2 L275.6,442.8 L277.6,443.6 L279.6,444.6 L281.6,445.6 L283.6,446.7 L285.6,447.8 L287.6,449.1 L289.6,450.4 L291.6,451.9 L293.6,453.5 L295.6,455.2 L297.6,457.1 L299.6,459.1 L301.6,461.1 L303.6,463.3 L305.6,465.5 L307.6,467.8 L309.6,470.0 L311.6,472.2 L313.6,474.5 L315.6,476.7 L317.6,478.9 L319.6,481.2 L321.6,483.4 L323.6,485.6 L325.6,487.8 L327.6,490.0 L329.6,492.1 L331.6,494.1 L333.6,496.0 L335.6,497.9 L337.6,499.6 L339.6,501.1 L341.6,502.5 L343.6,503.7 L345.6,504.8 L347.6,505.8 L349.6,506.6 L351.6,507.1 L353.6,507.6 L355.6,508.0 L357.6,508.3 L359.6,508.4 L361.6,508.5 L363.6,508.5 L365.6,508.4 L367.6,508.2 L369.6,508.0 L371.6,507.8 L373.6,507.6 L375.6,507.4 L377.6,507.2 L379.6,507.0 L381.6,506.9 L383.6,506.7 L385.6,506.6 L387.6,506.5 L389.6,506.4 L391.6,506.2 L393.6,506.2 L395.6,506.1 L397.6,506.1 L399.6,506.1 L401.6,506.2 L403.6,506.4 L405.6,506.8 L407.6,507.2 L409.6,507.7 L411.6,508.3 L413.6,509.0 L415.6,509.8 L417.6,510.8 L419.6,512.0 L421.6,513.3 L423.6,514.6 L425.6,515.9 L427.6,517.2 L429.6,518.5 L431.6,519.8 L433.6,521.1 L435.6,522.4 L437.6,523.7 L439.6,525.2 L441.6,526.6 L443.6,528.2 L445.6,529.7 L447.6,531.4 L449.6,533.0 L451.6,534.6 L453.6,536.3 L455.6,537.9 L457.6,539.6 L459.6,541.3 L461.6,542.9 L463.6,544.4 L465.6,545.7 L467.6,546.9 L469.6,548.1 L471.6,549.1 L473.6,550.1 L475.6,551.1 L477.6,552.0 L479.6,552.8 L481.6,553.7 L483.6,554.5 L485.6,555.2 L487.6,556.0 L489.6,556.7 L491.6,557.4 L493.6,558.0 L495.6,558.6 L497.6,559.2 L499.6,559.8 L501.6,560.4 L503.6,560.9 L505.6,561.4 L507.6,561.9 L509.6,562.4 L511.6,562.9 L513.6,563.4 L515.6,563.8 L517.6,564.2 L519.6,564.7 L521.6,565.1 L523.6,565.5 L525.6,565.9 L527.6,566.3 L529.6,566.6 L531.6,567.0 L533.6,567.4 L535.6,567.8 L537.6,568.2 L539.6,568.6 L541.6,568.9 L543.6,569.3 L545.6,569.6 L547.6,569.9 L549.6,570.1 L551.6,570.4 L553.6,570.5 L555.6,570.7 L557.6,570.8 L559.6,570.9 L561.6,571.0 L563.6,571.1 L565.6,571.2 L567.6,571.3 L569.6,571.4 L571.6,571.5 L573.6,571.5 L575.6,571.6 L577.6,571.6 L579.6,571.6 L581.6,571.6 L583.6,571.6 L585.6,571.6 L587.6,571.6 L589.6,571.6 L591.6,571.6 L593.6,571.6 L595.6,571.6 L597.6,571.6 L599.6,571.6 L601.6,571.6 L603.6,571.6 L605.6,571.6 L607.6,571.6 L609.6,571.6 L611.6,571.6 L613.6,571.6 L615.6,571.6 L617.6,571.6 L619.6,571.6 L621.6,571.6 L623.6,571.6 L625.6,571.6 L627.6,571.6 L629.6,571.6 L631.6,571.6 L633.6,571.6 L635.6,571.6 L637.6,571.6 L639.6,571.6 L641.6,571.6 L643.6,571.6 L645.6,571.6 L647.6,571.6 L649.6,571.6 L651.6,571.6 L653.6,571.6 L655.6,571.6 L657.6,571.6 L659.6,571.6 L661.6,571.6 L663.6,571.6 L665.6,571.6 L667.6,571.6 L669.6,571.6 L671.6,571.6 L673.6,571.6 L675.6,571.6 L677.6,571.6 L679.6,571.6 L681.6,571.6 L683.6,571.6 L685.6,571.6 L687.6,571.6 L689.6,571.6 L691.6,571.6 L693.6,571.6 L695.6,571.6 L697.6,571.6 L699.6,571.6 L701.6,571.6 L703.6,571.6 L705.6,571.6 L707.6,571.6 L709.6,571.6 L711.6,571.6 L713.6,571.6 L715.6,571.6 L717.6,571.6 L719.6,571.6 L721.6,571.6 L723.6,571.6 L725.6,571.6 L727.6,571.6 L729.6,571.6 L731.6,571.6 L733.6,571.6 L735.6,571.6 L737.6,571.6 L739.6,571.6 L741.6,571.6 L743.6,571.6 L745.6,571.6 L747.6,571.6 L749.6,571.6 L751.6,571.6 L753.6,571.6 L755.6,571.6 L757.6,571.6 L759.6,571.6 L761.6,571.6 L763.6,571.6 L765.6,571.6 L767.6,571.6 L769.6,571.6 L771.6,571.6 L773.6,571.6 L775.6,571.6 L777.6,571.6 L779.6,571.6 L781.6,571.6 L783.6,571.6 L785.6,571.6 L787.6,571.6 L789.6,571.6 L791.6,571.6 L793.6,571.6 L795.6,571.6 L797.6,571.6 L799.6,571.6 L801.6,571.6 L803.6,571.6 L805.6,571.6 L807.6,571.6 L809.6,571.6 L811.6,571.6 L813.6,571.6 L815.6,571.6 L817.6,571.6 L819.6,571.6 L821.6,571.6 L823.6,571.6 L825.6,571.6 L827.6,571.5 L829.6,571.5 L831.6,571.5 L833.6,571.5 L835.6,571.5 L837.6,571.5 L839.6,571.5 L841.6,571.5 L843.6,571.5 L845.6,571.5 L847.6,571.5 L849.6,571.4 L851.6,571.4 L853.6,571.4 L855.6,571.4 L857.6,571.4 L859.6,571.4 L861.6,571.4 L863.6,571.4 L865.6,571.3 L867.6,571.3 L869.6,571.3 L871.6,571.3 L873.6,571.3 L875.6,571.3 L877.6,571.3 L879.6,571.2 L881.6,571.2 L883.6,571.2 L885.6,571.2 L887.6,571.2 L889.6,571.2 L891.6,571.2 L893.6,571.1 L895.6,571.1 L897.6,571.1 L899.6,571.1 L901.6,571.1 L903.6,571.1 L905.6,571.0 L907.6,571.0 L909.6,571.0 L911.6,571.0 L913.6,571.0 L915.6,571.0 L917.6,570.9 L919.6,570.9 L921.6,570.9 L923.6,570.9 L925.6,570.9 L927.6,570.9 L929.6,570.9 L931.6,570.8 L933.6,570.8 L935.6,570.8 L937.6,570.8 L939.6,570.8 L941.6,570.8 L943.6,570.8 L945.6,570.7 L947.6,570.7 L949.6,570.7 L951.6,570.7 L953.6,570.7 L955.6,570.7 L957.6,570.7 L959.6,570.7 L961.6,570.6 L963.6,570.6 L965.6,570.6 L967.6,570.6 L969.6,570.6 L971.6,570.6 L973.6,570.6 L975.6,570.6 L977.6,570.6 L979.6,570.6 L981.6,570.6 L983.6,570.5 L985.6,570.5 L987.6,570.5 L989.6,570.5 L991.6,570.5 L993.6,570.5 L995.6,570.5 L997.6,570.5 L999.6,570.5 L1001.6,570.5 L1003.6,570.5 L1005.6,570.5 L1007.6,570.5 L1009.6,570.5 L1011.6,570.5 L1013.6,570.5 L1015.6,570.5 L1017.6,570.5 L1019.6,570.5 L1021.6,570.5 L1023.6,570.5 L1025.6,570.6 L1027.6,570.6 L1029.6,570.6 L1031.6,570.6 L1033.6,570.6 L1035.6,570.6 L1037.6,570.7 L1039.6,570.7 L1041.6,570.7 L1043.6,570.7 L1045.6,570.7 L1047.6,570.8 L1049.6,570.8 L1051.6,570.8 L1053.6,570.8 L1055.6,570.9 L1057.6,570.9 L1059.6,570.9 L1061.6,570.9 L1063.6,571.0 L1065.6,571.0 L1067.6,571.0 L1069.6,571.1 L1071.6,571.1 L1073.6,571.1 L1075.6,571.1 L1077.6,571.2 L1079.6,571.2 L1081.6,571.2 L1083.6,571.2 L1085.6,571.3 L1087.6,571.3 L1089.6,571.3 L1091.6,571.3 L1093.6,571.3 L1095.6,571.4 L1097.6,571.4 L1099.6,571.4 L1101.6,571.4 L1103.6,571.4 L1105.6,571.5 L1107.6,571.5 L1109.6,571.5 L1111.6,571.5 L1113.6,571.5 L1115.6,571.5 L1117.6,571.5 L1119.6,571.5 L1121.6,571.5 L1123.6,571.6 L1125.6,571.6 L1127.6,571.6 L1129.6,571.6 L1131.6,571.6 L1133.6,571.6 L1135.6,571.6 L1137.6,571.6 L1139.6,571.6 L1141.6,571.6 L1143.6,571.6 L1145.6,571.7 L1147.6,571.7 L1149.6,571.7 L1151.6,571.7 L1153.6,571.7 L1155.6,571.7 L1157.6,571.7 L1159.6,571.7 L1161.6,571.7 L1163.6,571.7 L1165.6,571.7 L1167.6,571.7 L1169.6,571.8 L1171.6,571.8 L1173.6,571.8 L1175.6,571.8 L1177.6,571.8 L1179.6,571.8 L1181.6,571.8 L1183.6,571.8 L1185.6,571.8 L1187.6,571.8 L1189.6,571.8 L1191.6,571.8 L1193.6,571.8 L1195.6,571.8 L1197.6,571.9 L1199.6,571.9 L1201.6,571.9 L1203.6,571.9 L1205.6,571.9 L1207.6,571.9 L1209.6,571.9 L1211.6,571.9 L1213.6,571.9 L1215.6,571.9 L1217.6,571.9 L1219.6,571.9 L1221.6,571.9 L1223.6,571.9 L1225.6,571.9 L1227.6,571.9 L1229.6,571.9 L1231.6,571.9 L1233.6,572.0 L1235.6,572.0 L1237.6,572.0 L1239.6,572.0 L1241.6,572.0 L1243.6,572.0 L1245.6,572.0 L1247.6,572.0 L1249.6,572.0 L1251.6,572.0 L1253.6,572.0 L1255.6,572.0 L1257.6,572.0 L1259.6,572.0 L1261.6,572.0 L1263.6,572.0 L1265.6,572.0 L1267.6,572.0 L1269.6,572.0 L1271.6,572.0 L1273.6,572.0 L1275.6,572.0 L1277.6,572.0 L1279.6,572.0 L1281.6,572.0 L1283.6,572.0 L1285.6,572.0 L1287.6,572.0 L1289.6,572.0 L1291.6,571.9 L1293.6,571.9 L1295.6,571.9 L1297.6,571.9 L1299.6,571.8 L1301.6,571.8 L1303.6,571.8 L1305.6,571.8 L1307.6,571.7 L1309.6,571.7 L1311.6,571.6 L1313.6,571.6 L1315.6,571.6 L1317.6,571.5 L1319.6,571.5 L1321.6,571.4 L1323.6,571.4 L1325.6,571.3 L1327.6,571.3 L1329.6,571.2 L1331.6,571.2 L1333.6,571.1 L1335.6,571.1 L1337.6,571.0 L1339.6,571.0 L1341.6,570.9 L1343.6,570.9 L1345.6,570.8 L1347.6,570.8 L1349.6,570.7 L1351.6,570.6 L1353.6,570.6 L1355.6,570.5 L1357.1,570.5" fill="none" stroke="#000" stroke-width="2.8" stroke-linejoin="round" stroke-linecap="round"/>
<text x="1196.0" y="475.0" font-size="39.7" font-weight="bold" fill="#000">Annelid</text>
<rect x="103" y="436.1" width="1313" height="141.7" fill="none" stroke="#333333" stroke-width="2.0"/>
<line x1="94" x2="103" y1="571.9" y2="571.9" stroke="#333333" stroke-width="2.2"/>
<text x="88" y="580.9" font-size="25.5" font-weight="bold" fill="#4D4D4D" text-anchor="end">0.0</text>
<line x1="94" x2="103" y1="539.8" y2="539.8" stroke="#333333" stroke-width="2.2"/>
<text x="88" y="548.8" font-size="25.5" font-weight="bold" fill="#4D4D4D" text-anchor="end">0.2</text>
<line x1="94" x2="103" y1="507.6" y2="507.6" stroke="#333333" stroke-width="2.2"/>
<text x="88" y="516.6" font-size="25.5" font-weight="bold" fill="#4D4D4D" text-anchor="end">0.4</text>
<line x1="94" x2="103" y1="475.5" y2="475.5" stroke="#333333" stroke-width="2.2"/>
<text x="88" y="484.5" font-size="25.5" font-weight="bold" fill="#4D4D4D" text-anchor="end">0.6</text>
<line x1="94" x2="103" y1="443.4" y2="443.4" stroke="#333333" stroke-width="2.2"/>
<text x="88" y="452.4" font-size="25.5" font-weight="bold" fill="#4D4D4D" text-anchor="end">0.8</text>
<line y1="577.8" y2="586.8" x1="332.5" x2="332.5" stroke="#333333" stroke-width="2.2"/>
<text x="332.5" y="610.4" font-size="25.5" font-weight="bold" fill="#4D4D4D" text-anchor="middle">2</text>
<line y1="577.8" y2="586.8" x1="655.2" x2="655.2" stroke="#333333" stroke-width="2.2"/>
<text x="655.2" y="610.4" font-size="25.5" font-weight="bold" fill="#4D4D4D" text-anchor="middle">4</text>
<line y1="577.8" y2="586.8" x1="978.0" x2="978.0" stroke="#333333" stroke-width="2.2"/>
<text x="978.0" y="610.4" font-size="25.5" font-weight="bold" fill="#4D4D4D" text-anchor="middle">6</text>
<line y1="577.8" y2="586.8" x1="1300.7" x2="1300.7" stroke="#333333" stroke-width="2.2"/>
<text x="1300.7" y="610.4" font-size="25.5" font-weight="bold" fill="#4D4D4D" text-anchor="middle">8</text>
<line x1="103" x2="1416" y1="747.5" y2="747.5" stroke="#EBEBEB" stroke-width="1.2"/>
<line x1="103" x2="1416" y1="702.6" y2="702.6" stroke="#EBEBEB" stroke-width="1.2"/>
<line x1="103" x2="1416" y1="657.7" y2="657.7" stroke="#EBEBEB" stroke-width="1.2"/>
<line y1="634.1" y2="775.7" x1="177.7" x2="177.7" stroke="#EBEBEB" stroke-width="1.2"/>
<line y1="634.1" y2="775.7" x1="654.1" x2="654.1" stroke="#EBEBEB" stroke-width="1.2"/>
<line y1="634.1" y2="775.7" x1="1130.5" x2="1130.5" stroke="#EBEBEB" stroke-width="1.2"/>
<line x1="103" x2="1416" y1="770.0" y2="770.0" stroke="#EBEBEB" stroke-width="2.4"/>
<line x1="103" x2="1416" y1="725.1" y2="725.1" stroke="#EBEBEB" stroke-width="2.4"/>
<line x1="103" x2="1416" y1="680.1" y2="680.1" stroke="#EBEBEB" stroke-width="2.4"/>
<line x1="103" x2="1416" y1="635.2" y2="635.2" stroke="#EBEBEB" stroke-width="2.4"/>
<line y1="634.1" y2="775.7" x1="415.9" x2="415.9" stroke="#EBEBEB" stroke-width="2.4"/>
<line y1="634.1" y2="775.7" x1="892.3" x2="892.3" stroke="#EBEBEB" stroke-width="2.4"/>
<line y1="634.1" y2="775.7" x1="1368.7" x2="1368.7" stroke="#EBEBEB" stroke-width="2.4"/>
<path d="M161.6,709.7 L163.6,707.8 L165.6,705.3 L167.6,702.4 L169.6,699.3 L171.6,696.1 L173.6,693.2 L175.6,690.5 L177.6,688.2 L179.6,686.3 L181.6,684.8 L183.6,683.7 L185.6,682.8 L187.6,682.0 L189.6,681.4 L191.6,680.9 L193.6,680.7 L195.6,680.8 L197.6,681.1 L199.6,681.6 L201.6,682.2 L203.6,682.9 L205.6,683.7 L207.6,684.5 L209.6,685.5 L211.6,686.6 L213.6,687.7 L215.6,688.9 L217.6,690.2 L219.6,691.6 L221.6,693.0 L223.6,694.5 L225.6,696.0 L227.6,697.4 L229.6,698.7 L231.6,699.9 L233.6,701.0 L235.6,702.1 L237.6,703.1 L239.6,704.1 L241.6,705.1 L243.6,706.0 L245.6,706.9 L247.6,707.8 L249.6,708.7 L251.6,709.6 L253.6,710.5 L255.6,711.4 L257.6,712.3 L259.6,713.1 L261.6,713.9 L263.6,714.6 L265.6,715.2 L267.6,715.9 L269.6,716.5 L271.6,717.1 L273.6,717.7 L275.6,718.2 L277.6,718.7 L279.6,719.2 L281.6,719.6 L283.6,720.0 L285.6,720.2 L287.6,720.5 L289.6,720.6 L291.6,720.8 L293.6,720.9 L295.6,721.0 L297.6,721.1 L299.6,721.2 L301.6,721.3 L303.6,721.3 L305.6,721.4 L307.6,721.5 L309.6,721.5 L311.6,721.6 L313.6,721.7 L315.6,721.8 L317.6,721.9 L319.6,722.0 L321.6,722.2 L323.6,722.4 L325.6,722.5 L327.6,722.7 L329.6,722.9 L331.6,723.2 L333.6,723.4 L335.6,723.6 L337.6,723.8 L339.6,724.0 L341.6,724.2 L343.6,724.5 L345.6,724.7 L347.6,724.9 L349.6,725.1 L351.6,725.4 L353.6,725.6 L355.6,725.8 L357.6,726.0 L359.6,726.1 L361.6,726.3 L363.6,726.4 L365.6,726.5 L367.6,726.6 L369.6,726.7 L371.6,726.8 L373.6,726.9 L375.6,726.9 L377.6,727.0 L379.6,727.1 L381.6,727.2 L383.6,727.4 L385.6,727.5 L387.6,727.7 L389.6,727.8 L391.6,728.0 L393.6,728.2 L395.6,728.4 L397.6,728.7 L399.6,728.9 L401.6,729.1 L403.6,729.4 L405.6,729.6 L407.6,729.9 L409.6,730.2 L411.6,730.5 L413.6,730.9 L415.6,731.2 L417.6,731.6 L419.6,732.0 L421.6,732.3 L423.6,732.7 L425.6,733.1 L427.6,733.6 L429.6,734.0 L431.6,734.5 L433.6,735.0 L435.6,735.5 L437.6,735.9 L439.6,736.4 L441.6,736.9 L443.6,737.3 L445.6,737.7 L447.6,738.2 L449.6,738.6 L451.6,739.0 L453.6,739.5 L455.6,739.9 L457.6,740.3 L459.6,740.7 L461.6,741.1 L463.6,741.5 L465.6,741.9 L467.6,742.3 L469.6,742.8 L471.6,743.2 L473.6,743.6 L475.6,744.0 L477.6,744.4 L479.6,744.8 L481.6,745.2 L483.6,745.5 L485.6,745.8 L487.6,746.1 L489.6,746.3 L491.6,746.6 L493.6,746.7 L495.6,746.9 L497.6,747.0 L499.6,747.2 L501.6,747.3 L503.6,747.4 L505.6,747.5 L507.6,747.7 L509.6,747.8 L511.6,747.9 L513.6,748.0 L515.6,748.2 L517.6,748.3 L519.6,748.5 L521.6,748.6 L523.6,748.8 L525.6,749.0 L527.6,749.2 L529.6,749.4 L531.6,749.5 L533.6,749.7 L535.6,749.9 L537.6,750.0 L539.6,750.2 L541.6,750.3 L543.6,750.4 L545.6,750.5 L547.6,750.6 L549.6,750.7 L551.6,750.8 L553.6,750.9 L555.6,751.0 L557.6,751.1 L559.6,751.2 L561.6,751.3 L563.6,751.4 L565.6,751.5 L567.6,751.6 L569.6,751.7 L571.6,751.9 L573.6,752.0 L575.6,752.2 L577.6,752.4 L579.6,752.6 L581.6,752.8 L583.6,753.1 L585.6,753.3 L587.6,753.5 L589.6,753.8 L591.6,754.1 L593.6,754.3 L595.6,754.6 L597.6,754.9 L599.6,755.2 L601.6,755.5 L603.6,755.8 L605.6,756.1 L607.6,756.4 L609.6,756.7 L611.6,757.1 L613.6,757.4 L615.6,757.7 L617.6,758.0 L619.6,758.3 L621.6,758.6 L623.6,758.9 L625.6,759.2 L627.6,759.5 L629.6,759.8 L631.6,760.1 L633.6,760.4 L635.6,760.7 L637.6,761.0 L639.6,761.2 L641.6,761.5 L643.6,761.7 L645.6,761.9 L647.6,762.1 L649.6,762.3 L651.6,762.5 L653.6,762.7 L655.6,762.9 L657.6,763.1 L659.6,763.3 L661.6,763.5 L663.6,763.7 L665.6,763.8 L667.6,764.0 L669.6,764.2 L671.6,764.4 L673.6,764.6 L675.6,764.7 L677.6,764.9 L679.6,765.1 L681.6,765.2 L683.6,765.4 L685.6,765.6 L687.6,765.7 L689.6,765.9 L691.6,766.0 L693.6,766.2 L695.6,766.3 L697.6,766.5 L699.6,766.6 L701.6,766.7 L703.6,766.9 L705.6,767.0 L707.6,767.1 L709.6,767.2 L711.6,767.3 L713.6,767.5 L715.6,767.6 L717.6,767.7 L719.6,767.8 L721.6,767.9 L723.6,768.0 L725.6,768.1 L727.6,768.2 L729.6,768.3 L731.6,768.3 L733.6,768.4 L735.6,768.4 L737.6,768.5 L739.6,768.5 L741.6,768.6 L743.6,768.6 L745.6,768.6 L747.6,768.7 L749.6,768.7 L751.6,768.7 L753.6,768.7 L755.6,768.8 L757.6,768.8 L759.6,768.8 L761.6,768.8 L763.6,768.8 L765.6,768.8 L767.6,768.8 L769.6,768.9 L771.6,768.9 L773.6,768.9 L775.6,768.9 L777.6,768.9 L779.6,768.9 L781.6,768.9 L783.6,768.9 L785.6,769.0 L787.6,769.0 L789.6,769.0 L791.6,769.0 L793.6,769.0 L795.6,769.0 L797.6,769.0 L799.6,769.0 L801.6,769.0 L803.6,769.0 L805.6,769.1 L807.6,769.1 L809.6,769.1 L811.6,769.1 L813.6,769.1 L815.6,769.1 L817.6,769.1 L819.6,769.1 L821.6,769.1 L823.6,769.1 L825.6,769.1 L827.6,769.1 L829.6,769.1 L831.6,769.2 L833.6,769.2 L835.6,769.2 L837.6,769.2 L839.6,769.2 L841.6,769.2 L843.6,769.2 L845.6,769.2 L847.6,769.2 L849.6,769.2 L851.6,769.2 L853.6,769.2 L855.6,769.2 L857.6,769.2 L859.6,769.2 L861.6,769.2 L863.6,769.2 L865.6,769.2 L867.6,769.2 L869.6,769.3 L871.6,769.3 L873.6,769.3 L875.6,769.3 L877.6,769.3 L879.6,769.3 L881.6,769.3 L883.6,769.3 L885.6,769.3 L887.6,769.3 L889.6,769.3 L891.6,769.3 L893.6,769.3 L895.6,769.3 L897.6,769.3 L899.6,769.3 L901.6,769.3 L903.6,769.3 L905.6,769.3 L907.6,769.3 L909.6,769.3 L911.6,769.3 L913.6,769.3 L915.6,769.3 L917.6,769.3 L919.6,769.3 L921.6,769.3 L923.6,769.3 L925.6,769.3 L927.6,769.3 L929.6,769.3 L931.6,769.3 L933.6,769.3 L935.6,769.3 L937.6,769.3 L939.6,769.3 L941.6,769.4 L943.6,769.4 L945.6,769.4 L947.6,769.4 L949.6,769.4 L951.6,769.4 L953.6,769.4 L955.6,769.4 L957.6,769.4 L959.6,769.4 L961.6,769.4 L963.6,769.4 L965.6,769.4 L967.6,769.4 L969.6,769.4 L971.6,769.4 L973.6,769.4 L975.6,769.4 L977.6,769.4 L979.6,769.4 L981.6,769.4 L983.6,769.4 L985.6,769.4 L987.6,769.4 L989.6,769.4 L991.6,769.4 L993.6,769.4 L995.6,769.4 L997.6,769.4 L999.6,769.4 L1001.6,769.4 L1003.6,769.4 L1005.6,769.4 L1007.6,769.4 L1009.6,769.4 L1011.6,769.4 L1013.6,769.4 L1015.6,769.4 L1017.6,769.4 L1019.6,769.4 L1021.6,769.4 L1023.6,769.4 L1025.6,769.4 L1027.6,769.4 L1029.6,769.4 L1031.6,769.4 L1033.6,769.4 L1035.6,769.4 L1037.6,769.4 L1039.6,769.5 L1041.6,769.5 L1043.6,769.5 L1045.6,769.5 L1047.6,769.5 L1049.6,769.5 L1051.6,769.5 L1053.6,769.5 L1055.6,769.5 L1057.6,769.5 L1059.6,769.5 L1061.6,769.5 L1063.6,769.5 L1065.6,769.5 L1067.6,769.5 L1069.6,769.5 L1071.6,769.5 L1073.6,769.5 L1075.6,769.5 L1077.6,769.5 L1079.6,769.5 L1081.6,769.5 L1083.6,769.5 L1085.6,769.5 L1087.6,769.5 L1089.6,769.5 L1091.6,769.5 L1093.6,769.5 L1095.6,769.5 L1097.6,769.5 L1099.6,769.5 L1101.6,769.5 L1103.6,769.5 L1105.6,769.5 L1107.6,769.5 L1109.6,769.5 L1111.6,769.5 L1113.6,769.5 L1115.6,769.5 L1117.6,769.5 L1119.6,769.5 L1121.6,769.5 L1123.6,769.5 L1125.6,769.5 L1127.6,769.5 L1129.6,769.5 L1131.6,769.5 L1133.6,769.5 L1135.6,769.5 L1137.6,769.5 L1139.6,769.5 L1141.6,769.5 L1143.6,769.5 L1145.6,769.5 L1147.6,769.5 L1149.6,769.5 L1151.6,769.5 L1153.6,769.5 L1155.6,769.5 L1157.6,769.5 L1159.6,769.5 L1161.6,769.5 L1163.6,769.5 L1165.6,769.5 L1167.6,769.5 L1169.6,769.5 L1171.6,769.5 L1173.6,769.5 L1175.6,769.6 L1177.6,769.6 L1179.6,769.6 L1181.6,769.6 L1183.6,769.6 L1185.6,769.6 L1187.6,769.6 L1189.6,769.6 L1191.6,769.6 L1193.6,769.6 L1195.6,769.6 L1197.6,769.6 L1199.6,769.6 L1201.6,769.6 L1203.6,769.6 L1205.6,769.6 L1207.6,769.6 L1209.6,769.6 L1211.6,769.6 L1213.6,769.6 L1215.6,769.6 L1217.6,769.6 L1219.6,769.6 L1221.6,769.6 L1223.6,769.6 L1225.6,769.6 L1227.6,769.6 L1229.6,769.6 L1231.6,769.6 L1233.6,769.6 L1235.6,769.6 L1237.6,769.6 L1239.6,769.6 L1241.6,769.6 L1243.6,769.6 L1245.6,769.6 L1247.6,769.6 L1249.6,769.6 L1251.6,769.6 L1253.6,769.6 L1255.6,769.6 L1257.6,769.6 L1259.6,769.6 L1261.6,769.6 L1263.6,769.6 L1265.6,769.6 L1267.6,769.6 L1269.6,769.6 L1271.6,769.6 L1273.6,769.6 L1275.6,769.6 L1277.6,769.6 L1279.6,769.6 L1281.6,769.6 L1283.6,769.6 L1285.6,769.6 L1287.6,769.6 L1289.6,769.6 L1291.6,769.6 L1293.6,769.6 L1295.6,769.6 L1297.6,769.6 L1299.6,769.6 L1301.6,769.6 L1303.6,769.6 L1305.6,769.6 L1307.6,769.6 L1309.6,769.6 L1311.6,769.6 L1313.6,769.6 L1315.6,769.6 L1317.6,769.6 L1319.6,769.6 L1321.6,769.6 L1323.6,769.6 L1325.6,769.6 L1327.6,769.6 L1329.6,769.6 L1331.6,769.6 L1333.6,769.6 L1335.6,769.6 L1337.6,769.6 L1339.6,769.6 L1341.6,769.6 L1343.6,769.6 L1345.6,769.6 L1347.6,769.6 L1349.6,769.6 L1351.6,769.6 L1353.6,769.6 L1355.6,769.6 L1357.6,769.6 L1358.1,769.6 L1358.1,770.0 L161.6,770.0 Z" fill="#999999" fill-opacity="0.5" stroke="none"/>
<path d="M161.6,709.7 L163.6,707.8 L165.6,705.3 L167.6,702.4 L169.6,699.3 L171.6,696.1 L173.6,693.2 L175.6,690.5 L177.6,688.2 L179.6,686.3 L181.6,684.8 L183.6,683.7 L185.6,682.8 L187.6,682.0 L189.6,681.4 L191.6,680.9 L193.6,680.7 L195.6,680.8 L197.6,681.1 L199.6,681.6 L201.6,682.2 L203.6,682.9 L205.6,683.7 L207.6,684.5 L209.6,685.5 L211.6,686.6 L213.6,687.7 L215.6,688.9 L217.6,690.2 L219.6,691.6 L221.6,693.0 L223.6,694.5 L225.6,696.0 L227.6,697.4 L229.6,698.7 L231.6,699.9 L233.6,701.0 L235.6,702.1 L237.6,703.1 L239.6,704.1 L241.6,705.1 L243.6,706.0 L245.6,706.9 L247.6,707.8 L249.6,708.7 L251.6,709.6 L253.6,710.5 L255.6,711.4 L257.6,712.3 L259.6,713.1 L261.6,713.9 L263.6,714.6 L265.6,715.2 L267.6,715.9 L269.6,716.5 L271.6,717.1 L273.6,717.7 L275.6,718.2 L277.6,718.7 L279.6,719.2 L281.6,719.6 L283.6,720.0 L285.6,720.2 L287.6,720.5 L289.6,720.6 L291.6,720.8 L293.6,720.9 L295.6,721.0 L297.6,721.1 L299.6,721.2 L301.6,721.3 L303.6,721.3 L305.6,721.4 L307.6,721.5 L309.6,721.5 L311.6,721.6 L313.6,721.7 L315.6,721.8 L317.6,721.9 L319.6,722.0 L321.6,722.2 L323.6,722.4 L325.6,722.5 L327.6,722.7 L329.6,722.9 L331.6,723.2 L333.6,723.4 L335.6,723.6 L337.6,723.8 L339.6,724.0 L341.6,724.2 L343.6,724.5 L345.6,724.7 L347.6,724.9 L349.6,725.1 L351.6,725.4 L353.6,725.6 L355.6,725.8 L357.6,726.0 L359.6,726.1 L361.6,726.3 L363.6,726.4 L365.6,726.5 L367.6,726.6 L369.6,726.7 L371.6,726.8 L373.6,726.9 L375.6,726.9 L377.6,727.0 L379.6,727.1 L381.6,727.2 L383.6,727.4 L385.6,727.5 L387.6,727.7 L389.6,727.8 L391.6,728.0 L393.6,728.2 L395.6,728.4 L397.6,728.7 L399.6,728.9 L401.6,729.1 L403.6,729.4 L405.6,729.6 L407.6,729.9 L409.6,730.2 L411.6,730.5 L413.6,730.9 L415.6,731.2 L417.6,731.6 L419.6,732.0 L421.6,732.3 L423.6,732.7 L425.6,733.1 L427.6,733.6 L429.6,734.0 L431.6,734.5 L433.6,735.0 L435.6,735.5 L437.6,735.9 L439.6,736.4 L441.6,736.9 L443.6,737.3 L445.6,737.7 L447.6,738.2 L449.6,738.6 L451.6,739.0 L453.6,739.5 L455.6,739.9 L457.6,740.3 L459.6,740.7 L461.6,741.1 L463.6,741.5 L465.6,741.9 L467.6,742.3 L469.6,742.8 L471.6,743.2 L473.6,743.6 L475.6,744.0 L477.6,744.4 L479.6,744.8 L481.6,745.2 L483.6,745.5 L485.6,745.8 L487.6,746.1 L489.6,746.3 L491.6,746.6 L493.6,746.7 L495.6,746.9 L497.6,747.0 L499.6,747.2 L501.6,747.3 L503.6,747.4 L505.6,747.5 L507.6,747.7 L509.6,747.8 L511.6,747.9 L513.6,748.0 L515.6,748.2 L517.6,748.3 L519.6,748.5 L521.6,748.6 L523.6,748.8 L525.6,749.0 L527.6,749.2 L529.6,749.4 L531.6,749.5 L533.6,749.7 L535.6,749.9 L537.6,750.0 L539.6,750.2 L541.6,750.3 L543.6,750.4 L545.6,750.5 L547.6,750.6 L549.6,750.7 L551.6,750.8 L553.6,750.9 L555.6,751.0 L557.6,751.1 L559.6,751.2 L561.6,751.3 L563.6,751.4 L565.6,751.5 L567.6,751.6 L569.6,751.7 L571.6,751.9 L573.6,752.0 L575.6,752.2 L577.6,752.4 L579.6,752.6 L581.6,752.8 L583.6,753.1 L585.6,753.3 L587.6,753.5 L589.6,753.8 L591.6,754.1 L593.6,754.3 L595.6,754.6 L597.6,754.9 L599.6,755.2 L601.6,755.5 L603.6,755.8 L605.6,756.1 L607.6,756.4 L609.6,756.7 L611.6,757.1 L613.6,757.4 L615.6,757.7 L617.6,758.0 L619.6,758.3 L621.6,758.6 L623.6,758.9 L625.6,759.2 L627.6,759.5 L629.6,759.8 L631.6,760.1 L633.6,760.4 L635.6,760.7 L637.6,761.0 L639.6,761.2 L641.6,761.5 L643.6,761.7 L645.6,761.9 L647.6,762.1 L649.6,762.3 L651.6,762.5 L653.6,762.7 L655.6,762.9 L657.6,763.1 L659.6,763.3 L661.6,763.5 L663.6,763.7 L665.6,763.8 L667.6,764.0 L669.6,764.2 L671.6,764.4 L673.6,764.6 L675.6,764.7 L677.6,764.9 L679.6,765.1 L681.6,765.2 L683.6,765.4 L685.6,765.6 L687.6,765.7 L689.6,765.9 L691.6,766.0 L693.6,766.2 L695.6,766.3 L697.6,766.5 L699.6,766.6 L701.6,766.7 L703.6,766.9 L705.6,767.0 L707.6,767.1 L709.6,767.2 L711.6,767.3 L713.6,767.5 L715.6,767.6 L717.6,767.7 L719.6,767.8 L721.6,767.9 L723.6,768.0 L725.6,768.1 L727.6,768.2 L729.6,768.3 L731.6,768.3 L733.6,768.4 L735.6,768.4 L737.6,768.5 L739.6,768.5 L741.6,768.6 L743.6,768.6 L745.6,768.6 L747.6,768.7 L749.6,768.7 L751.6,768.7 L753.6,768.7 L755.6,768.8 L757.6,768.8 L759.6,768.8 L761.6,768.8 L763.6,768.8 L765.6,768.8 L767.6,768.8 L769.6,768.9 L771.6,768.9 L773.6,768.9 L775.6,768.9 L777.6,768.9 L779.6,768.9 L781.6,768.9 L783.6,768.9 L785.6,769.0 L787.6,769.0 L789.6,769.0 L791.6,769.0 L793.6,769.0 L795.6,769.0 L797.6,769.0 L799.6,769.0 L801.6,769.0 L803.6,769.0 L805.6,769.1 L807.6,769.1 L809.6,769.1 L811.6,769.1 L813.6,769.1 L815.6,769.1 L817.6,769.1 L819.6,769.1 L821.6,769.1 L823.6,769.1 L825.6,769.1 L827.6,769.1 L829.6,769.1 L831.6,769.2 L833.6,769.2 L835.6,769.2 L837.6,769.2 L839.6,769.2 L841.6,769.2 L843.6,769.2 L845.6,769.2 L847.6,769.2 L849.6,769.2 L851.6,769.2 L853.6,769.2 L855.6,769.2 L857.6,769.2 L859.6,769.2 L861.6,769.2 L863.6,769.2 L865.6,769.2 L867.6,769.2 L869.6,769.3 L871.6,769.3 L873.6,769.3 L875.6,769.3 L877.6,769.3 L879.6,769.3 L881.6,769.3 L883.6,769.3 L885.6,769.3 L887.6,769.3 L889.6,769.3 L891.6,769.3 L893.6,769.3 L895.6,769.3 L897.6,769.3 L899.6,769.3 L901.6,769.3 L903.6,769.3 L905.6,769.3 L907.6,769.3 L909.6,769.3 L911.6,769.3 L913.6,769.3 L915.6,769.3 L917.6,769.3 L919.6,769.3 L921.6,769.3 L923.6,769.3 L925.6,769.3 L927.6,769.3 L929.6,769.3 L931.6,769.3 L933.6,769.3 L935.6,769.3 L937.6,769.3 L939.6,769.3 L941.6,769.4 L943.6,769.4 L945.6,769.4 L947.6,769.4 L949.6,769.4 L951.6,769.4 L953.6,769.4 L955.6,769.4 L957.6,769.4 L959.6,769.4 L961.6,769.4 L963.6,769.4 L965.6,769.4 L967.6,769.4 L969.6,769.4 L971.6,769.4 L973.6,769.4 L975.6,769.4 L977.6,769.4 L979.6,769.4 L981.6,769.4 L983.6,769.4 L985.6,769.4 L987.6,769.4 L989.6,769.4 L991.6,769.4 L993.6,769.4 L995.6,769.4 L997.6,769.4 L999.6,769.4 L1001.6,769.4 L1003.6,769.4 L1005.6,769.4 L1007.6,769.4 L1009.6,769.4 L1011.6,769.4 L1013.6,769.4 L1015.6,769.4 L1017.6,769.4 L1019.6,769.4 L1021.6,769.4 L1023.6,769.4 L1025.6,769.4 L1027.6,769.4 L1029.6,769.4 L1031.6,769.4 L1033.6,769.4 L1035.6,769.4 L1037.6,769.4 L1039.6,769.5 L1041.6,769.5 L1043.6,769.5 L1045.6,769.5 L1047.6,769.5 L1049.6,769.5 L1051.6,769.5 L1053.6,769.5 L1055.6,769.5 L1057.6,769.5 L1059.6,769.5 L1061.6,769.5 L1063.6,769.5 L1065.6,769.5 L1067.6,769.5 L1069.6,769.5 L1071.6,769.5 L1073.6,769.5 L1075.6,769.5 L1077.6,769.5 L1079.6,769.5 L1081.6,769.5 L1083.6,769.5 L1085.6,769.5 L1087.6,769.5 L1089.6,769.5 L1091.6,769.5 L1093.6,769.5 L1095.6,769.5 L1097.6,769.5 L1099.6,769.5 L1101.6,769.5 L1103.6,769.5 L1105.6,769.5 L1107.6,769.5 L1109.6,769.5 L1111.6,769.5 L1113.6,769.5 L1115.6,769.5 L1117.6,769.5 L1119.6,769.5 L1121.6,769.5 L1123.6,769.5 L1125.6,769.5 L1127.6,769.5 L1129.6,769.5 L1131.6,769.5 L1133.6,769.5 L1135.6,769.5 L1137.6,769.5 L1139.6,769.5 L1141.6,769.5 L1143.6,769.5 L1145.6,769.5 L1147.6,769.5 L1149.6,769.5 L1151.6,769.5 L1153.6,769.5 L1155.6,769.5 L1157.6,769.5 L1159.6,769.5 L1161.6,769.5 L1163.6,769.5 L1165.6,769.5 L1167.6,769.5 L1169.6,769.5 L1171.6,769.5 L1173.6,769.5 L1175.6,769.6 L1177.6,769.6 L1179.6,769.6 L1181.6,769.6 L1183.6,769.6 L1185.6,769.6 L1187.6,769.6 L1189.6,769.6 L1191.6,769.6 L1193.6,769.6 L1195.6,769.6 L1197.6,769.6 L1199.6,769.6 L1201.6,769.6 L1203.6,769.6 L1205.6,769.6 L1207.6,769.6 L1209.6,769.6 L1211.6,769.6 L1213.6,769.6 L1215.6,769.6 L1217.6,769.6 L1219.6,769.6 L1221.6,769.6 L1223.6,769.6 L1225.6,769.6 L1227.6,769.6 L1229.6,769.6 L1231.6,769.6 L1233.6,769.6 L1235.6,769.6 L1237.6,769.6 L1239.6,769.6 L1241.6,769.6 L1243.6,769.6 L1245.6,769.6 L1247.6,769.6 L1249.6,769.6 L1251.6,769.6 L1253.6,769.6 L1255.6,769.6 L1257.6,769.6 L1259.6,769.6 L1261.6,769.6 L1263.6,769.6 L1265.6,769.6 L1267.6,769.6 L1269.6,769.6 L1271.6,769.6 L1273.6,769.6 L1275.6,769.6 L1277.6,769.6 L1279.6,769.6 L1281.6,769.6 L1283.6,769.6 L1285.6,769.6 L1287.6,769.6 L1289.6,769.6 L1291.6,769.6 L1293.6,769.6 L1295.6,769.6 L1297.6,769.6 L1299.6,769.6 L1301.6,769.6 L1303.6,769.6 L1305.6,769.6 L1307.6,769.6 L1309.6,769.6 L1311.6,769.6 L1313.6,769.6 L1315.6,769.6 L1317.6,769.6 L1319.6,769.6 L1321.6,769.6 L1323.6,769.6 L1325.6,769.6 L1327.6,769.6 L1329.6,769.6 L1331.6,769.6 L1333.6,769.6 L1335.6,769.6 L1337.6,769.6 L1339.6,769.6 L1341.6,769.6 L1343.6,769.6 L1345.6,769.6 L1347.6,769.6 L1349.6,769.6 L1351.6,769.6 L1353.6,769.6 L1355.6,769.6 L1357.6,769.6 L1358.1,769.6" fill="none" stroke="#000" stroke-width="2.8" stroke-linejoin="round" stroke-linecap="round"/>
<path d="M161.6,718.8 L163.6,715.6 L165.6,711.3 L167.6,706.6 L169.6,701.9 L171.6,697.3 L173.6,692.8 L175.6,688.3 L177.6,683.9 L179.6,679.5 L181.6,675.3 L183.6,671.1 L185.6,667.1 L187.6,663.3 L189.6,659.8 L191.6,656.4 L193.6,653.2 L195.6,650.3 L197.6,647.7 L199.6,645.7 L201.6,644.1 L203.6,642.8 L205.6,641.6 L207.6,640.7 L209.6,640.0 L211.6,639.6 L213.6,639.5 L215.6,639.7 L217.6,640.1 L219.6,640.7 L221.6,641.6 L223.6,642.6 L225.6,644.1 L227.6,645.9 L229.6,648.0 L231.6,650.2 L233.6,652.4 L235.6,654.7 L237.6,656.9 L239.6,659.2 L241.6,661.4 L243.6,663.6 L245.6,665.8 L247.6,667.9 L249.6,670.0 L251.6,672.0 L253.6,674.0 L255.6,676.0 L257.6,677.8 L259.6,679.6 L261.6,681.3 L263.6,682.9 L265.6,684.4 L267.6,685.9 L269.6,687.3 L271.6,688.7 L273.6,690.1 L275.6,691.5 L277.6,692.8 L279.6,694.1 L281.6,695.3 L283.6,696.6 L285.6,697.8 L287.6,699.0 L289.6,700.1 L291.6,701.3 L293.6,702.5 L295.6,703.7 L297.6,704.9 L299.6,706.1 L301.6,707.3 L303.6,708.5 L305.6,709.7 L307.6,710.9 L309.6,712.1 L311.6,713.3 L313.6,714.5 L315.6,715.7 L317.6,716.8 L319.6,718.0 L321.6,719.3 L323.6,720.5 L325.6,721.7 L327.6,722.8 L329.6,724.0 L331.6,725.1 L333.6,726.1 L335.6,727.1 L337.6,728.1 L339.6,729.0 L341.6,729.9 L343.6,730.7 L345.6,731.5 L347.6,732.2 L349.6,732.9 L351.6,733.6 L353.6,734.3 L355.6,735.0 L357.6,735.6 L359.6,736.2 L361.6,736.8 L363.6,737.4 L365.6,737.9 L367.6,738.4 L369.6,738.9 L371.6,739.4 L373.6,739.9 L375.6,740.4 L377.6,740.9 L379.6,741.3 L381.6,741.8 L383.6,742.3 L385.6,742.8 L387.6,743.4 L389.6,743.9 L391.6,744.4 L393.6,744.9 L395.6,745.5 L397.6,746.0 L399.6,746.4 L401.6,746.9 L403.6,747.3 L405.6,747.7 L407.6,748.1 L409.6,748.5 L411.6,748.9 L413.6,749.2 L415.6,749.6 L417.6,749.9 L419.6,750.2 L421.6,750.5 L423.6,750.8 L425.6,751.1 L427.6,751.3 L429.6,751.5 L431.6,751.7 L433.6,751.9 L435.6,752.0 L437.6,752.2 L439.6,752.5 L441.6,752.7 L443.6,753.0 L445.6,753.3 L447.6,753.7 L449.6,754.0 L451.6,754.4 L453.6,754.7 L455.6,755.1 L457.6,755.4 L459.6,755.8 L461.6,756.1 L463.6,756.5 L465.6,756.8 L467.6,757.2 L469.6,757.5 L471.6,757.9 L473.6,758.2 L475.6,758.5 L477.6,758.8 L479.6,759.1 L481.6,759.3 L483.6,759.5 L485.6,759.7 L487.6,759.8 L489.6,759.9 L491.6,760.0 L493.6,760.1 L495.6,760.2 L497.6,760.3 L499.6,760.3 L501.6,760.4 L503.6,760.4 L505.6,760.4 L507.6,760.4 L509.6,760.4 L511.6,760.5 L513.6,760.5 L515.6,760.5 L517.6,760.5 L519.6,760.5 L521.6,760.5 L523.6,760.5 L525.6,760.5 L527.6,760.5 L529.6,760.5 L531.6,760.5 L533.6,760.5 L535.6,760.6 L537.6,760.6 L539.6,760.6 L541.6,760.7 L543.6,760.8 L545.6,761.0 L547.6,761.2 L549.6,761.4 L551.6,761.7 L553.6,762.0 L555.6,762.2 L557.6,762.5 L559.6,762.8 L561.6,763.2 L563.6,763.5 L565.6,763.8 L567.6,764.1 L569.6,764.3 L571.6,764.5 L573.6,764.7 L575.6,764.9 L577.6,765.0 L579.6,765.1 L581.6,765.3 L583.6,765.4 L585.6,765.5 L587.6,765.6 L589.6,765.6 L591.6,765.7 L593.6,765.7 L595.6,765.7 L597.6,765.7 L599.6,765.6 L601.6,765.5 L603.6,765.5 L605.6,765.4 L607.6,765.3 L609.6,765.2 L611.6,765.1 L613.6,765.0 L615.6,764.9 L617.6,764.8 L619.6,764.7 L621.6,764.6 L623.6,764.5 L625.6,764.3 L627.6,764.2 L629.6,764.1 L631.6,763.9 L633.6,763.8 L635.6,763.7 L637.6,763.6 L639.6,763.5 L641.6,763.4 L643.6,763.3 L645.6,763.2 L647.6,763.2 L649.6,763.2 L651.6,763.2 L653.6,763.2 L655.6,763.3 L657.6,763.3 L659.6,763.3 L661.6,763.4 L663.6,763.4 L665.6,763.5 L667.6,763.6 L669.6,763.6 L671.6,763.7 L673.6,763.8 L675.6,764.0 L677.6,764.2 L679.6,764.4 L681.6,764.6 L683.6,764.9 L685.6,765.1 L687.6,765.3 L689.6,765.5 L691.6,765.8 L693.6,766.0 L695.6,766.2 L697.6,766.5 L699.6,766.7 L701.6,766.9 L703.6,767.1 L705.6,767.3 L707.6,767.4 L709.6,767.5 L711.6,767.6 L713.6,767.7 L715.6,767.8 L717.6,767.9 L719.6,767.9 L721.6,768.0 L723.6,768.1 L725.6,768.1 L727.6,768.2 L729.6,768.3 L731.6,768.3 L733.6,768.4 L735.6,768.4 L737.6,768.5 L739.6,768.5 L741.6,768.6 L743.6,768.6 L745.6,768.6 L747.6,768.7 L749.6,768.7 L751.6,768.7 L753.6,768.7 L755.6,768.8 L757.6,768.8 L759.6,768.8 L761.6,768.8 L763.6,768.8 L765.6,768.8 L767.6,768.9 L769.6,768.9 L771.6,768.9 L773.6,768.9 L775.6,768.9 L777.6,768.9 L779.6,768.9 L781.6,768.9 L783.6,768.9 L785.6,769.0 L787.6,769.0 L789.6,769.0 L791.6,769.0 L793.6,769.0 L795.6,769.0 L797.6,769.0 L799.6,769.0 L801.6,769.0 L803.6,769.0 L805.6,769.1 L807.6,769.1 L809.6,769.1 L811.6,769.1 L813.6,769.1 L815.6,769.1 L817.6,769.1 L819.6,769.1 L821.6,769.1 L823.6,769.1 L825.6,769.1 L827.6,769.1 L829.6,769.2 L831.6,769.2 L833.6,769.2 L835.6,769.2 L837.6,769.2 L839.6,769.2 L841.6,769.2 L843.6,769.2 L845.6,769.2 L847.6,769.2 L849.6,769.2 L851.6,769.2 L853.6,769.2 L855.6,769.2 L857.6,769.2 L859.6,769.2 L861.6,769.2 L863.6,769.2 L865.6,769.2 L867.6,769.2 L869.6,769.3 L871.6,769.3 L873.6,769.3 L875.6,769.3 L877.6,769.3 L879.6,769.3 L881.6,769.3 L883.6,769.3 L885.6,769.3 L887.6,769.3 L889.6,769.3 L891.6,769.3 L893.6,769.3 L895.6,769.3 L897.6,769.3 L899.6,769.3 L901.6,769.3 L903.6,769.3 L905.6,769.3 L907.6,769.3 L909.6,769.3 L911.6,769.3 L913.6,769.3 L915.6,769.3 L917.6,769.3 L919.6,769.3 L921.6,769.3 L923.6,769.3 L925.6,769.3 L927.6,769.3 L929.6,769.3 L931.6,769.3 L933.6,769.3 L935.6,769.3 L937.6,769.3 L939.6,769.3 L941.6,769.4 L943.6,769.4 L945.6,769.4 L947.6,769.4 L949.6,769.4 L951.6,769.4 L953.6,769.4 L955.6,769.4 L957.6,769.4 L959.6,769.4 L961.6,769.4 L963.6,769.4 L965.6,769.4 L967.6,769.4 L969.6,769.4 L971.6,769.4 L973.6,769.4 L975.6,769.4 L977.6,769.4 L979.6,769.4 L981.6,769.4 L983.6,769.4 L985.6,769.4 L987.6,769.4 L989.6,769.4 L991.6,769.4 L993.6,769.4 L995.6,769.4 L997.6,769.4 L999.6,769.4 L1001.6,769.4 L1003.6,769.4 L1005.6,769.4 L1007.6,769.4 L1009.6,769.4 L1011.6,769.4 L1013.6,769.4 L1015.6,769.4 L1017.6,769.4 L1019.6,769.4 L1021.6,769.4 L1023.6,769.4 L1025.6,769.4 L1027.6,769.4 L1029.6,769.4 L1031.6,769.4 L1033.6,769.4 L1035.6,769.4 L1037.6,769.4 L1039.6,769.5 L1041.6,769.5 L1043.6,769.5 L1045.6,769.5 L1047.6,769.5 L1049.6,769.5 L1051.6,769.5 L1053.6,769.5 L1055.6,769.5 L1057.6,769.5 L1059.6,769.5 L1061.6,769.5 L1063.6,769.5 L1065.6,769.5 L1067.6,769.5 L1069.6,769.5 L1071.6,769.5 L1073.6,769.5 L1075.6,769.5 L1077.6,769.5 L1079.6,769.5 L1081.6,769.5 L1083.6,769.5 L1085.6,769.5 L1087.6,769.5 L1089.6,769.5 L1091.6,769.5 L1093.6,769.5 L1095.6,769.5 L1097.6,769.5 L1099.6,769.5 L1101.6,769.5 L1103.6,769.5 L1105.6,769.5 L1107.6,769.5 L1109.6,769.5 L1111.6,769.5 L1113.6,769.5 L1115.6,769.5 L1117.6,769.5 L1119.6,769.5 L1121.6,769.5 L1123.6,769.5 L1125.6,769.5 L1127.6,769.5 L1129.6,769.5 L1131.6,769.5 L1133.6,769.5 L1135.6,769.5 L1137.6,769.5 L1139.6,769.5 L1141.6,769.5 L1143.6,769.5 L1145.6,769.5 L1147.6,769.5 L1149.6,769.5 L1151.6,769.5 L1153.6,769.5 L1155.6,769.5 L1157.6,769.5 L1159.6,769.5 L1161.6,769.5 L1163.6,769.5 L1165.6,769.5 L1167.6,769.5 L1169.6,769.5 L1171.6,769.5 L1173.6,769.5 L1175.6,769.6 L1177.6,769.6 L1179.6,769.6 L1181.6,769.6 L1183.6,769.6 L1185.6,769.6 L1187.6,769.6 L1189.6,769.6 L1191.6,769.6 L1193.6,769.6 L1195.6,769.6 L1197.6,769.6 L1199.6,769.6 L1201.6,769.6 L1203.6,769.6 L1205.6,769.6 L1207.6,769.6 L1209.6,769.6 L1211.6,769.6 L1213.6,769.6 L1215.6,769.6 L1217.6,769.6 L1219.6,769.6 L1221.6,769.6 L1223.6,769.6 L1225.6,769.6 L1227.6,769.6 L1229.6,769.6 L1231.6,769.6 L1233.6,769.6 L1235.6,769.6 L1237.6,769.6 L1239.6,769.6 L1241.6,769.6 L1243.6,769.6 L1245.6,769.6 L1247.6,769.6 L1249.6,769.6 L1251.6,769.6 L1253.6,769.6 L1255.6,769.6 L1257.6,769.6 L1259.6,769.6 L1261.6,769.6 L1263.6,769.6 L1265.6,769.6 L1267.6,769.6 L1269.6,769.6 L1271.6,769.6 L1273.6,769.6 L1275.6,769.6 L1277.6,769.6 L1279.6,769.6 L1281.6,769.6 L1283.6,769.6 L1285.6,769.6 L1287.6,769.6 L1289.6,769.6 L1291.6,769.6 L1293.6,769.6 L1295.6,769.6 L1297.6,769.6 L1299.6,769.6 L1301.6,769.6 L1303.6,769.6 L1305.6,769.6 L1307.6,769.6 L1309.6,769.6 L1311.6,769.6 L1313.6,769.6 L1315.6,769.6 L1317.6,769.6 L1319.6,769.6 L1321.6,769.6 L1323.6,769.6 L1325.6,769.6 L1327.6,769.6 L1329.6,769.6 L1331.6,769.6 L1333.6,769.6 L1335.6,769.6 L1337.6,769.6 L1339.6,769.6 L1341.6,769.6 L1343.6,769.6 L1345.6,769.6 L1347.6,769.6 L1349.6,769.6 L1351.6,769.6 L1353.6,769.6 L1355.6,769.6 L1357.6,769.6 L1358.1,769.6 L1358.1,770.0 L161.6,770.0 Z" fill="#E69F00" fill-opacity="0.5" stroke="none"/>
<path d="M161.6,718.8 L163.6,715.6 L165.6,711.3 L167.6,706.6 L169.6,701.9 L171.6,697.3 L173.6,692.8 L175.6,688.3 L177.6,683.9 L179.6,679.5 L181.6,675.3 L183.6,671.1 L185.6,667.1 L187.6,663.3 L189.6,659.8 L191.6,656.4 L193.6,653.2 L195.6,650.3 L197.6,647.7 L199.6,645.7 L201.6,644.1 L203.6,642.8 L205.6,641.6 L207.6,640.7 L209.6,640.0 L211.6,639.6 L213.6,639.5 L215.6,639.7 L217.6,640.1 L219.6,640.7 L221.6,641.6 L223.6,642.6 L225.6,644.1 L227.6,645.9 L229.6,648.0 L231.6,650.2 L233.6,652.4 L235.6,654.7 L237.6,656.9 L239.6,659.2 L241.6,661.4 L243.6,663.6 L245.6,665.8 L247.6,667.9 L249.6,670.0 L251.6,672.0 L253.6,674.0 L255.6,676.0 L257.6,677.8 L259.6,679.6 L261.6,681.3 L263.6,682.9 L265.6,684.4 L267.6,685.9 L269.6,687.3 L271.6,688.7 L273.6,690.1 L275.6,691.5 L277.6,692.8 L279.6,694.1 L281.6,695.3 L283.6,696.6 L285.6,697.8 L287.6,699.0 L289.6,700.1 L291.6,701.3 L293.6,702.5 L295.6,703.7 L297.6,704.9 L299.6,706.1 L301.6,707.3 L303.6,708.5 L305.6,709.7 L307.6,710.9 L309.6,712.1 L311.6,713.3 L313.6,714.5 L315.6,715.7 L317.6,716.8 L319.6,718.0 L321.6,719.3 L323.6,720.5 L325.6,721.7 L327.6,722.8 L329.6,724.0 L331.6,725.1 L333.6,726.1 L335.6,727.1 L337.6,728.1 L339.6,729.0 L341.6,729.9 L343.6,730.7 L345.6,731.5 L347.6,732.2 L349.6,732.9 L351.6,733.6 L353.6,734.3 L355.6,735.0 L357.6,735.6 L359.6,736.2 L361.6,736.8 L363.6,737.4 L365.6,737.9 L367.6,738.4 L369.6,738.9 L371.6,739.4 L373.6,739.9 L375.6,740.4 L377.6,740.9 L379.6,741.3 L381.6,741.8 L383.6,742.3 L385.6,742.8 L387.6,743.4 L389.6,743.9 L391.6,744.4 L393.6,744.9 L395.6,745.5 L397.6,746.0 L399.6,746.4 L401.6,746.9 L403.6,747.3 L405.6,747.7 L407.6,748.1 L409.6,748.5 L411.6,748.9 L413.6,749.2 L415.6,749.6 L417.6,749.9 L419.6,750.2 L421.6,750.5 L423.6,750.8 L425.6,751.1 L427.6,751.3 L429.6,751.5 L431.6,751.7 L433.6,751.9 L435.6,752.0 L437.6,752.2 L439.6,752.5 L441.6,752.7 L443.6,753.0 L445.6,753.3 L447.6,753.7 L449.6,754.0 L451.6,754.4 L453.6,754.7 L455.6,755.1 L457.6,755.4 L459.6,755.8 L461.6,756.1 L463.6,756.5 L465.6,756.8 L467.6,757.2 L469.6,757.5 L471.6,757.9 L473.6,758.2 L475.6,758.5 L477.6,758.8 L479.6,759.1 L481.6,759.3 L483.6,759.5 L485.6,759.7 L487.6,759.8 L489.6,759.9 L491.6,760.0 L493.6,760.1 L495.6,760.2 L497.6,760.3 L499.6,760.3 L501.6,760.4 L503.6,760.4 L505.6,760.4 L507.6,760.4 L509.6,760.4 L511.6,760.5 L513.6,760.5 L515.6,760.5 L517.6,760.5 L519.6,760.5 L521.6,760.5 L523.6,760.5 L525.6,760.5 L527.6,760.5 L529.6,760.5 L531.6,760.5 L533.6,760.5 L535.6,760.6 L537.6,760.6 L539.6,760.6 L541.6,760.7 L543.6,760.8 L545.6,761.0 L547.6,761.2 L549.6,761.4 L551.6,761.7 L553.6,762.0 L555.6,762.2 L557.6,762.5 L559.6,762.8 L561.6,763.2 L563.6,763.5 L565.6,763.8 L567.6,764.1 L569.6,764.3 L571.6,764.5 L573.6,764.7 L575.6,764.9 L577.6,765.0 L579.6,765.1 L581.6,765.3 L583.6,765.4 L585.6,765.5 L587.6,765.6 L589.6,765.6 L591.6,765.7 L593.6,765.7 L595.6,765.7 L597.6,765.7 L599.6,765.6 L601.6,765.5 L603.6,765.5 L605.6,765.4 L607.6,765.3 L609.6,765.2 L611.6,765.1 L613.6,765.0 L615.6,764.9 L617.6,764.8 L619.6,764.7 L621.6,764.6 L623.6,764.5 L625.6,764.3 L627.6,764.2 L629.6,764.1 L631.6,763.9 L633.6,763.8 L635.6,763.7 L637.6,763.6 L639.6,763.5 L641.6,763.4 L643.6,763.3 L645.6,763.2 L647.6,763.2 L649.6,763.2 L651.6,763.2 L653.6,763.2 L655.6,763.3 L657.6,763.3 L659.6,763.3 L661.6,763.4 L663.6,763.4 L665.6,763.5 L667.6,763.6 L669.6,763.6 L671.6,763.7 L673.6,763.8 L675.6,764.0 L677.6,764.2 L679.6,764.4 L681.6,764.6 L683.6,764.9 L685.6,765.1 L687.6,765.3 L689.6,765.5 L691.6,765.8 L693.6,766.0 L695.6,766.2 L697.6,766.5 L699.6,766.7 L701.6,766.9 L703.6,767.1 L705.6,767.3 L707.6,767.4 L709.6,767.5 L711.6,767.6 L713.6,767.7 L715.6,767.8 L717.6,767.9 L719.6,767.9 L721.6,768.0 L723.6,768.1 L725.6,768.1 L727.6,768.2 L729.6,768.3 L731.6,768.3 L733.6,768.4 L735.6,768.4 L737.6,768.5 L739.6,768.5 L741.6,768.6 L743.6,768.6 L745.6,768.6 L747.6,768.7 L749.6,768.7 L751.6,768.7 L753.6,768.7 L755.6,768.8 L757.6,768.8 L759.6,768.8 L761.6,768.8 L763.6,768.8 L765.6,768.8 L767.6,768.9 L769.6,768.9 L771.6,768.9 L773.6,768.9 L775.6,768.9 L777.6,768.9 L779.6,768.9 L781.6,768.9 L783.6,768.9 L785.6,769.0 L787.6,769.0 L789.6,769.0 L791.6,769.0 L793.6,769.0 L795.6,769.0 L797.6,769.0 L799.6,769.0 L801.6,769.0 L803.6,769.0 L805.6,769.1 L807.6,769.1 L809.6,769.1 L811.6,769.1 L813.6,769.1 L815.6,769.1 L817.6,769.1 L819.6,769.1 L821.6,769.1 L823.6,769.1 L825.6,769.1 L827.6,769.1 L829.6,769.2 L831.6,769.2 L833.6,769.2 L835.6,769.2 L837.6,769.2 L839.6,769.2 L841.6,769.2 L843.6,769.2 L845.6,769.2 L847.6,769.2 L849.6,769.2 L851.6,769.2 L853.6,769.2 L855.6,769.2 L857.6,769.2 L859.6,769.2 L861.6,769.2 L863.6,769.2 L865.6,769.2 L867.6,769.2 L869.6,769.3 L871.6,769.3 L873.6,769.3 L875.6,769.3 L877.6,769.3 L879.6,769.3 L881.6,769.3 L883.6,769.3 L885.6,769.3 L887.6,769.3 L889.6,769.3 L891.6,769.3 L893.6,769.3 L895.6,769.3 L897.6,769.3 L899.6,769.3 L901.6,769.3 L903.6,769.3 L905.6,769.3 L907.6,769.3 L909.6,769.3 L911.6,769.3 L913.6,769.3 L915.6,769.3 L917.6,769.3 L919.6,769.3 L921.6,769.3 L923.6,769.3 L925.6,769.3 L927.6,769.3 L929.6,769.3 L931.6,769.3 L933.6,769.3 L935.6,769.3 L937.6,769.3 L939.6,769.3 L941.6,769.4 L943.6,769.4 L945.6,769.4 L947.6,769.4 L949.6,769.4 L951.6,769.4 L953.6,769.4 L955.6,769.4 L957.6,769.4 L959.6,769.4 L961.6,769.4 L963.6,769.4 L965.6,769.4 L967.6,769.4 L969.6,769.4 L971.6,769.4 L973.6,769.4 L975.6,769.4 L977.6,769.4 L979.6,769.4 L981.6,769.4 L983.6,769.4 L985.6,769.4 L987.6,769.4 L989.6,769.4 L991.6,769.4 L993.6,769.4 L995.6,769.4 L997.6,769.4 L999.6,769.4 L1001.6,769.4 L1003.6,769.4 L1005.6,769.4 L1007.6,769.4 L1009.6,769.4 L1011.6,769.4 L1013.6,769.4 L1015.6,769.4 L1017.6,769.4 L1019.6,769.4 L1021.6,769.4 L1023.6,769.4 L1025.6,769.4 L1027.6,769.4 L1029.6,769.4 L1031.6,769.4 L1033.6,769.4 L1035.6,769.4 L1037.6,769.4 L1039.6,769.5 L1041.6,769.5 L1043.6,769.5 L1045.6,769.5 L1047.6,769.5 L1049.6,769.5 L1051.6,769.5 L1053.6,769.5 L1055.6,769.5 L1057.6,769.5 L1059.6,769.5 L1061.6,769.5 L1063.6,769.5 L1065.6,769.5 L1067.6,769.5 L1069.6,769.5 L1071.6,769.5 L1073.6,769.5 L1075.6,769.5 L1077.6,769.5 L1079.6,769.5 L1081.6,769.5 L1083.6,769.5 L1085.6,769.5 L1087.6,769.5 L1089.6,769.5 L1091.6,769.5 L1093.6,769.5 L1095.6,769.5 L1097.6,769.5 L1099.6,769.5 L1101.6,769.5 L1103.6,769.5 L1105.6,769.5 L1107.6,769.5 L1109.6,769.5 L1111.6,769.5 L1113.6,769.5 L1115.6,769.5 L1117.6,769.5 L1119.6,769.5 L1121.6,769.5 L1123.6,769.5 L1125.6,769.5 L1127.6,769.5 L1129.6,769.5 L1131.6,769.5 L1133.6,769.5 L1135.6,769.5 L1137.6,769.5 L1139.6,769.5 L1141.6,769.5 L1143.6,769.5 L1145.6,769.5 L1147.6,769.5 L1149.6,769.5 L1151.6,769.5 L1153.6,769.5 L1155.6,769.5 L1157.6,769.5 L1159.6,769.5 L1161.6,769.5 L1163.6,769.5 L1165.6,769.5 L1167.6,769.5 L1169.6,769.5 L1171.6,769.5 L1173.6,769.5 L1175.6,769.6 L1177.6,769.6 L1179.6,769.6 L1181.6,769.6 L1183.6,769.6 L1185.6,769.6 L1187.6,769.6 L1189.6,769.6 L1191.6,769.6 L1193.6,769.6 L1195.6,769.6 L1197.6,769.6 L1199.6,769.6 L1201.6,769.6 L1203.6,769.6 L1205.6,769.6 L1207.6,769.6 L1209.6,769.6 L1211.6,769.6 L1213.6,769.6 L1215.6,769.6 L1217.6,769.6 L1219.6,769.6 L1221.6,769.6 L1223.6,769.6 L1225.6,769.6 L1227.6,769.6 L1229.6,769.6 L1231.6,769.6 L1233.6,769.6 L1235.6,769.6 L1237.6,769.6 L1239.6,769.6 L1241.6,769.6 L1243.6,769.6 L1245.6,769.6 L1247.6,769.6 L1249.6,769.6 L1251.6,769.6 L1253.6,769.6 L1255.6,769.6 L1257.6,769.6 L1259.6,769.6 L1261.6,769.6 L1263.6,769.6 L1265.6,769.6 L1267.6,769.6 L1269.6,769.6 L1271.6,769.6 L1273.6,769.6 L1275.6,769.6 L1277.6,769.6 L1279.6,769.6 L1281.6,769.6 L1283.6,769.6 L1285.6,769.6 L1287.6,769.6 L1289.6,769.6 L1291.6,769.6 L1293.6,769.6 L1295.6,769.6 L1297.6,769.6 L1299.6,769.6 L1301.6,769.6 L1303.6,769.6 L1305.6,769.6 L1307.6,769.6 L1309.6,769.6 L1311.6,769.6 L1313.6,769.6 L1315.6,769.6 L1317.6,769.6 L1319.6,769.6 L1321.6,769.6 L1323.6,769.6 L1325.6,769.6 L1327.6,769.6 L1329.6,769.6 L1331.6,769.6 L1333.6,769.6 L1335.6,769.6 L1337.6,769.6 L1339.6,769.6 L1341.6,769.6 L1343.6,769.6 L1345.6,769.6 L1347.6,769.6 L1349.6,769.6 L1351.6,769.6 L1353.6,769.6 L1355.6,769.6 L1357.6,769.6 L1358.1,769.6" fill="none" stroke="#000" stroke-width="2.8" stroke-linejoin="round" stroke-linecap="round"/>
<text x="1173.9" y="671.1" font-size="39.7" font-weight="bold" fill="#000">Copepod</text>
<rect x="103" y="634.1" width="1313" height="141.6" fill="none" stroke="#333333" stroke-width="2.0"/>
<line x1="94" x2="103" y1="770.0" y2="770.0" stroke="#333333" stroke-width="2.2"/>
<text x="88" y="779.0" font-size="25.5" font-weight="bold" fill="#4D4D4D" text-anchor="end">0.0</text>
<line x1="94" x2="103" y1="725.1" y2="725.1" stroke="#333333" stroke-width="2.2"/>
<text x="88" y="734.1" font-size="25.5" font-weight="bold" fill="#4D4D4D" text-anchor="end">0.5</text>
<line x1="94" x2="103" y1="680.1" y2="680.1" stroke="#333333" stroke-width="2.2"/>
<text x="88" y="689.1" font-size="25.5" font-weight="bold" fill="#4D4D4D" text-anchor="end">1.0</text>
<line x1="94" x2="103" y1="635.2" y2="635.2" stroke="#333333" stroke-width="2.2"/>
<text x="88" y="644.2" font-size="25.5" font-weight="bold" fill="#4D4D4D" text-anchor="end">1.5</text>
<line y1="775.7" y2="784.7" x1="415.9" x2="415.9" stroke="#333333" stroke-width="2.2"/>
<text x="415.9" y="809.3" font-size="25.5" font-weight="bold" fill="#4D4D4D" text-anchor="middle">2</text>
<line y1="775.7" y2="784.7" x1="892.3" x2="892.3" stroke="#333333" stroke-width="2.2"/>
<text x="892.3" y="809.3" font-size="25.5" font-weight="bold" fill="#4D4D4D" text-anchor="middle">4</text>
<line y1="775.7" y2="784.7" x1="1368.7" x2="1368.7" stroke="#333333" stroke-width="2.2"/>
<text x="1368.7" y="809.3" font-size="25.5" font-weight="bold" fill="#4D4D4D" text-anchor="middle">6</text>
<line x1="103" x2="1416" y1="947.6" y2="947.6" stroke="#EBEBEB" stroke-width="1.2"/>
<line x1="103" x2="1416" y1="916.4" y2="916.4" stroke="#EBEBEB" stroke-width="1.2"/>
<line x1="103" x2="1416" y1="885.2" y2="885.2" stroke="#EBEBEB" stroke-width="1.2"/>
<line x1="103" x2="1416" y1="854.0" y2="854.0" stroke="#EBEBEB" stroke-width="1.2"/>
<line y1="827.4" y2="969.4" x1="262.6" x2="262.6" stroke="#EBEBEB" stroke-width="1.2"/>
<line y1="827.4" y2="969.4" x1="585.0" x2="585.0" stroke="#EBEBEB" stroke-width="1.2"/>
<line y1="827.4" y2="969.4" x1="907.3" x2="907.3" stroke="#EBEBEB" stroke-width="1.2"/>
<line y1="827.4" y2="969.4" x1="1229.7" x2="1229.7" stroke="#EBEBEB" stroke-width="1.2"/>
<line x1="103" x2="1416" y1="963.2" y2="963.2" stroke="#EBEBEB" stroke-width="2.4"/>
<line x1="103" x2="1416" y1="932.0" y2="932.0" stroke="#EBEBEB" stroke-width="2.4"/>
<line x1="103" x2="1416" y1="900.8" y2="900.8" stroke="#EBEBEB" stroke-width="2.4"/>
<line x1="103" x2="1416" y1="869.6" y2="869.6" stroke="#EBEBEB" stroke-width="2.4"/>
<line x1="103" x2="1416" y1="838.4" y2="838.4" stroke="#EBEBEB" stroke-width="2.4"/>
<line y1="827.4" y2="969.4" x1="423.8" x2="423.8" stroke="#EBEBEB" stroke-width="2.4"/>
<line y1="827.4" y2="969.4" x1="746.2" x2="746.2" stroke="#EBEBEB" stroke-width="2.4"/>
<line y1="827.4" y2="969.4" x1="1068.5" x2="1068.5" stroke="#EBEBEB" stroke-width="2.4"/>
<line y1="827.4" y2="969.4" x1="1390.8" x2="1390.8" stroke="#EBEBEB" stroke-width="2.4"/>
<path d="M161.6,895.2 L163.6,892.3 L165.6,888.6 L167.6,884.6 L169.6,880.9 L171.6,877.3 L173.6,874.0 L175.6,871.1 L177.6,868.6 L179.6,866.8 L181.6,865.5 L183.6,864.5 L185.6,863.9 L187.6,863.5 L189.6,863.4 L191.6,863.7 L193.6,864.4 L195.6,865.3 L197.6,866.3 L199.6,867.5 L201.6,868.7 L203.6,869.8 L205.6,871.0 L207.6,872.2 L209.6,873.5 L211.6,874.8 L213.6,876.1 L215.6,877.4 L217.6,878.7 L219.6,879.8 L221.6,880.9 L223.6,881.8 L225.6,882.7 L227.6,883.4 L229.6,884.1 L231.6,884.8 L233.6,885.4 L235.6,886.0 L237.6,886.6 L239.6,887.1 L241.6,887.6 L243.6,888.1 L245.6,888.6 L247.6,889.1 L249.6,889.5 L251.6,890.0 L253.6,890.5 L255.6,890.9 L257.6,891.3 L259.6,891.7 L261.6,891.9 L263.6,892.1 L265.6,892.2 L267.6,892.3 L269.6,892.3 L271.6,892.3 L273.6,892.3 L275.6,892.3 L277.6,892.2 L279.6,892.1 L281.6,891.8 L283.6,891.5 L285.6,891.0 L287.6,890.5 L289.6,889.9 L291.6,889.3 L293.6,888.7 L295.6,888.1 L297.6,887.5 L299.6,886.9 L301.6,886.2 L303.6,885.4 L305.6,884.7 L307.6,883.9 L309.6,883.1 L311.6,882.4 L313.6,881.8 L315.6,881.3 L317.6,881.0 L319.6,880.9 L321.6,881.0 L323.6,881.4 L325.6,881.9 L327.6,882.5 L329.6,883.3 L331.6,884.1 L333.6,885.1 L335.6,886.2 L337.6,887.4 L339.6,888.8 L341.6,890.2 L343.6,891.8 L345.6,893.5 L347.6,895.4 L349.6,897.3 L351.6,899.3 L353.6,901.4 L355.6,903.5 L357.6,905.7 L359.6,907.8 L361.6,909.8 L363.6,911.8 L365.6,913.8 L367.6,915.8 L369.6,917.8 L371.6,919.9 L373.6,921.9 L375.6,923.9 L377.6,925.8 L379.6,927.5 L381.6,929.1 L383.6,930.5 L385.6,931.9 L387.6,933.2 L389.6,934.5 L391.6,935.6 L393.6,936.8 L395.6,937.9 L397.6,938.9 L399.6,939.9 L401.6,940.9 L403.6,941.8 L405.6,942.7 L407.6,943.5 L409.6,944.1 L411.6,944.7 L413.6,945.2 L415.6,945.6 L417.6,946.1 L419.6,946.6 L421.6,947.1 L423.6,947.6 L425.6,948.2 L427.6,948.7 L429.6,949.2 L431.6,949.7 L433.6,950.2 L435.6,950.7 L437.6,951.1 L439.6,951.6 L441.6,952.1 L443.6,952.5 L445.6,953.0 L447.6,953.5 L449.6,954.0 L451.6,954.4 L453.6,954.8 L455.6,955.2 L457.6,955.5 L459.6,955.8 L461.6,956.0 L463.6,956.2 L465.6,956.4 L467.6,956.7 L469.6,956.9 L471.6,957.2 L473.6,957.5 L475.6,957.8 L477.6,958.1 L479.6,958.4 L481.6,958.7 L483.6,959.0 L485.6,959.3 L487.6,959.6 L489.6,959.9 L491.6,960.1 L493.6,960.3 L495.6,960.5 L497.6,960.7 L499.6,960.9 L501.6,961.0 L503.6,961.2 L505.6,961.3 L507.6,961.5 L509.6,961.6 L511.6,961.7 L513.6,961.8 L515.6,961.8 L517.6,961.9 L519.6,961.9 L521.6,961.9 L523.6,961.9 L525.6,961.9 L527.6,961.8 L529.6,961.8 L531.6,961.8 L533.6,961.8 L535.6,961.7 L537.6,961.7 L539.6,961.7 L541.6,961.6 L543.6,961.6 L545.6,961.5 L547.6,961.5 L549.6,961.5 L551.6,961.4 L553.6,961.4 L555.6,961.4 L557.6,961.3 L559.6,961.3 L561.6,961.3 L563.6,961.3 L565.6,961.2 L567.6,961.2 L569.6,961.2 L571.6,961.2 L573.6,961.2 L575.6,961.1 L577.6,961.1 L579.6,961.1 L581.6,961.1 L583.6,961.1 L585.6,961.0 L587.6,961.0 L589.6,961.0 L591.6,961.0 L593.6,961.0 L595.6,961.0 L597.6,960.9 L599.6,960.9 L601.6,960.9 L603.6,960.9 L605.6,960.9 L607.6,960.9 L609.6,960.9 L611.6,960.9 L613.6,960.9 L615.6,960.9 L617.6,960.9 L619.6,960.9 L621.6,960.9 L623.6,960.9 L625.6,961.0 L627.6,961.0 L629.6,961.0 L631.6,961.0 L633.6,961.0 L635.6,961.1 L637.6,961.1 L639.6,961.1 L641.6,961.1 L643.6,961.2 L645.6,961.2 L647.6,961.2 L649.6,961.2 L651.6,961.3 L653.6,961.3 L655.6,961.3 L657.6,961.4 L659.6,961.4 L661.6,961.4 L663.6,961.5 L665.6,961.5 L667.6,961.6 L669.6,961.6 L671.6,961.6 L673.6,961.7 L675.6,961.7 L677.6,961.7 L679.6,961.8 L681.6,961.8 L683.6,961.8 L685.6,961.9 L687.6,961.9 L689.6,961.9 L691.6,961.9 L693.6,962.0 L695.6,962.0 L697.6,962.1 L699.6,962.1 L701.6,962.1 L703.6,962.2 L705.6,962.2 L707.6,962.3 L709.6,962.3 L711.6,962.3 L713.6,962.4 L715.6,962.4 L717.6,962.5 L719.6,962.5 L721.6,962.6 L723.6,962.6 L725.6,962.6 L727.6,962.7 L729.6,962.7 L731.6,962.8 L733.6,962.8 L735.6,962.8 L737.6,962.8 L739.6,962.9 L741.6,962.9 L743.6,962.9 L745.6,962.9 L747.6,963.0 L749.6,963.0 L751.6,963.0 L753.6,963.0 L755.6,963.0 L757.6,963.0 L759.6,963.0 L761.6,963.0 L763.6,963.0 L765.6,963.0 L767.6,963.0 L769.6,963.0 L771.6,963.0 L773.6,963.0 L775.6,963.0 L777.6,963.0 L779.6,963.0 L781.6,963.0 L783.6,963.0 L785.6,963.0 L787.6,963.0 L789.6,963.0 L791.6,963.0 L793.6,963.0 L795.6,963.0 L797.6,963.0 L799.6,963.0 L801.6,963.0 L803.6,963.0 L805.6,963.0 L807.6,963.0 L809.6,963.0 L811.6,963.0 L813.6,963.0 L815.6,963.0 L817.6,963.0 L819.6,963.0 L821.6,963.0 L823.6,963.0 L825.6,963.0 L827.6,963.0 L829.6,963.0 L831.6,963.0 L833.6,963.0 L835.6,963.0 L837.6,963.0 L839.6,963.0 L841.6,963.0 L843.6,963.0 L845.6,963.0 L847.6,963.0 L849.6,963.0 L851.6,963.0 L853.6,963.0 L855.6,963.0 L857.6,963.0 L859.6,963.0 L861.6,963.0 L863.6,963.0 L865.6,963.0 L867.6,963.0 L869.6,963.0 L871.6,963.0 L873.6,963.0 L875.6,963.0 L877.6,963.0 L879.6,963.0 L881.6,963.0 L883.6,963.0 L885.6,963.0 L887.6,963.0 L889.6,963.0 L891.6,963.0 L893.6,963.0 L895.6,963.0 L897.6,963.0 L899.6,963.0 L901.6,963.0 L903.6,963.0 L905.6,963.0 L907.6,963.0 L909.6,963.0 L911.6,963.0 L913.6,963.0 L915.6,963.0 L917.6,963.0 L919.6,963.0 L921.6,963.0 L923.6,963.0 L925.6,963.0 L927.6,963.0 L929.6,963.0 L931.6,963.0 L933.6,963.0 L935.6,963.0 L937.6,963.0 L939.6,963.0 L941.6,963.0 L943.6,963.0 L945.6,963.0 L947.6,963.0 L949.6,963.0 L951.6,963.0 L953.6,963.0 L955.6,963.0 L957.6,963.0 L959.6,963.0 L961.6,963.0 L963.6,963.0 L965.6,963.0 L967.6,963.0 L969.6,963.0 L971.6,963.0 L973.6,963.0 L975.6,963.0 L977.6,963.0 L979.6,963.0 L981.6,963.0 L983.6,963.0 L985.6,963.0 L987.6,963.0 L989.6,963.0 L991.6,963.0 L993.6,963.0 L995.6,963.0 L997.6,963.0 L999.6,963.0 L1001.6,963.0 L1003.6,963.0 L1005.6,963.0 L1007.6,963.0 L1009.6,963.0 L1011.6,963.0 L1013.6,963.0 L1015.6,963.0 L1017.6,963.0 L1019.6,963.0 L1021.6,963.0 L1023.6,963.0 L1025.6,963.0 L1027.6,963.0 L1029.6,963.0 L1031.6,963.0 L1033.6,963.0 L1035.6,963.0 L1037.6,963.0 L1039.6,963.0 L1041.6,963.0 L1043.6,963.0 L1045.6,963.0 L1047.6,963.0 L1049.6,963.0 L1051.6,963.0 L1053.6,963.0 L1055.6,963.0 L1057.6,963.0 L1059.6,963.0 L1061.6,963.0 L1063.6,963.0 L1065.6,963.0 L1067.6,963.0 L1069.6,963.0 L1071.6,963.0 L1073.6,963.0 L1075.6,963.0 L1077.6,963.0 L1079.6,963.0 L1081.6,963.0 L1083.6,963.0 L1085.6,963.0 L1087.6,963.0 L1089.6,963.0 L1091.6,963.0 L1093.6,963.0 L1095.6,963.0 L1097.6,963.0 L1099.6,963.0 L1101.6,963.0 L1103.6,963.0 L1105.6,963.0 L1107.6,963.0 L1109.6,963.0 L1111.6,963.0 L1113.6,963.0 L1115.6,963.0 L1117.6,963.0 L1119.6,963.0 L1121.6,963.0 L1123.6,963.0 L1125.6,963.0 L1127.6,963.0 L1129.6,963.0 L1131.6,963.0 L1133.6,963.0 L1135.6,963.0 L1137.6,963.0 L1139.6,963.0 L1141.6,963.0 L1143.6,963.0 L1145.6,963.0 L1147.6,963.0 L1149.6,963.0 L1151.6,963.0 L1153.6,963.0 L1155.6,963.0 L1157.6,963.0 L1159.6,963.0 L1161.6,963.0 L1163.6,963.0 L1165.6,963.0 L1167.6,963.0 L1169.6,963.0 L1171.6,963.0 L1173.6,963.0 L1175.6,963.0 L1177.6,963.0 L1179.6,963.0 L1181.6,963.0 L1183.6,963.0 L1185.6,963.0 L1187.6,963.0 L1189.6,963.0 L1191.6,963.0 L1193.6,963.0 L1195.6,963.0 L1197.6,963.0 L1199.6,963.0 L1201.6,963.0 L1203.6,963.0 L1205.6,963.0 L1207.6,963.0 L1209.6,963.0 L1211.6,963.0 L1213.6,963.0 L1215.6,963.0 L1217.6,963.0 L1219.6,963.0 L1221.6,963.0 L1223.6,963.0 L1225.6,963.0 L1227.6,963.0 L1229.6,963.0 L1231.6,963.0 L1233.6,963.0 L1235.6,963.0 L1237.6,963.0 L1239.6,963.0 L1241.6,963.0 L1243.6,963.0 L1245.6,963.0 L1247.6,963.0 L1249.6,963.0 L1251.6,963.0 L1253.6,963.0 L1255.6,963.0 L1257.6,963.0 L1259.6,963.0 L1261.6,963.0 L1263.6,963.0 L1265.6,963.0 L1267.6,963.0 L1269.6,963.0 L1271.6,963.0 L1273.6,963.0 L1275.6,963.0 L1277.6,963.0 L1279.6,963.0 L1281.6,963.0 L1283.6,963.0 L1285.6,963.0 L1287.6,963.0 L1289.6,963.0 L1291.6,963.0 L1293.6,963.0 L1295.6,963.0 L1297.6,963.0 L1299.6,963.0 L1301.6,963.0 L1303.6,963.0 L1305.6,963.0 L1307.6,963.0 L1309.6,963.0 L1311.6,963.0 L1313.6,963.0 L1315.6,963.0 L1317.6,963.0 L1319.6,963.0 L1321.6,963.0 L1323.6,963.0 L1325.6,963.0 L1327.6,963.0 L1329.6,963.0 L1331.6,963.0 L1333.6,963.0 L1335.6,963.0 L1337.6,963.0 L1339.6,963.0 L1341.6,963.0 L1343.6,963.0 L1345.6,963.0 L1347.6,963.0 L1349.6,963.0 L1351.6,963.0 L1353.6,963.0 L1355.6,963.0 L1357.6,963.0 L1358.1,963.0 L1358.1,963.2 L161.6,963.2 Z" fill="#999999" fill-opacity="0.5" stroke="none"/>
<path d="M161.6,895.2 L163.6,892.3 L165.6,888.6 L167.6,884.6 L169.6,880.9 L171.6,877.3 L173.6,874.0 L175.6,871.1 L177.6,868.6 L179.6,866.8 L181.6,865.5 L183.6,864.5 L185.6,863.9 L187.6,863.5 L189.6,863.4 L191.6,863.7 L193.6,864.4 L195.6,865.3 L197.6,866.3 L199.6,867.5 L201.6,868.7 L203.6,869.8 L205.6,871.0 L207.6,872.2 L209.6,873.5 L211.6,874.8 L213.6,876.1 L215.6,877.4 L217.6,878.7 L219.6,879.8 L221.6,880.9 L223.6,881.8 L225.6,882.7 L227.6,883.4 L229.6,884.1 L231.6,884.8 L233.6,885.4 L235.6,886.0 L237.6,886.6 L239.6,887.1 L241.6,887.6 L243.6,888.1 L245.6,888.6 L247.6,889.1 L249.6,889.5 L251.6,890.0 L253.6,890.5 L255.6,890.9 L257.6,891.3 L259.6,891.7 L261.6,891.9 L263.6,892.1 L265.6,892.2 L267.6,892.3 L269.6,892.3 L271.6,892.3 L273.6,892.3 L275.6,892.3 L277.6,892.2 L279.6,892.1 L281.6,891.8 L283.6,891.5 L285.6,891.0 L287.6,890.5 L289.6,889.9 L291.6,889.3 L293.6,888.7 L295.6,888.1 L297.6,887.5 L299.6,886.9 L301.6,886.2 L303.6,885.4 L305.6,884.7 L307.6,883.9 L309.6,883.1 L311.6,882.4 L313.6,881.8 L315.6,881.3 L317.6,881.0 L319.6,880.9 L321.6,881.0 L323.6,881.4 L325.6,881.9 L327.6,882.5 L329.6,883.3 L331.6,884.1 L333.6,885.1 L335.6,886.2 L337.6,887.4 L339.6,888.8 L341.6,890.2 L343.6,891.8 L345.6,893.5 L347.6,895.4 L349.6,897.3 L351.6,899.3 L353.6,901.4 L355.6,903.5 L357.6,905.7 L359.6,907.8 L361.6,909.8 L363.6,911.8 L365.6,913.8 L367.6,915.8 L369.6,917.8 L371.6,919.9 L373.6,921.9 L375.6,923.9 L377.6,925.8 L379.6,927.5 L381.6,929.1 L383.6,930.5 L385.6,931.9 L387.6,933.2 L389.6,934.5 L391.6,935.6 L393.6,936.8 L395.6,937.9 L397.6,938.9 L399.6,939.9 L401.6,940.9 L403.6,941.8 L405.6,942.7 L407.6,943.5 L409.6,944.1 L411.6,944.7 L413.6,945.2 L415.6,945.6 L417.6,946.1 L419.6,946.6 L421.6,947.1 L423.6,947.6 L425.6,948.2 L427.6,948.7 L429.6,949.2 L431.6,949.7 L433.6,950.2 L435.6,950.7 L437.6,951.1 L439.6,951.6 L441.6,952.1 L443.6,952.5 L445.6,953.0 L447.6,953.5 L449.6,954.0 L451.6,954.4 L453.6,954.8 L455.6,955.2 L457.6,955.5 L459.6,955.8 L461.6,956.0 L463.6,956.2 L465.6,956.4 L467.6,956.7 L469.6,956.9 L471.6,957.2 L473.6,957.5 L475.6,957.8 L477.6,958.1 L479.6,958.4 L481.6,958.7 L483.6,959.0 L485.6,959.3 L487.6,959.6 L489.6,959.9 L491.6,960.1 L493.6,960.3 L495.6,960.5 L497.6,960.7 L499.6,960.9 L501.6,961.0 L503.6,961.2 L505.6,961.3 L507.6,961.5 L509.6,961.6 L511.6,961.7 L513.6,961.8 L515.6,961.8 L517.6,961.9 L519.6,961.9 L521.6,961.9 L523.6,961.9 L525.6,961.9 L527.6,961.8 L529.6,961.8 L531.6,961.8 L533.6,961.8 L535.6,961.7 L537.6,961.7 L539.6,961.7 L541.6,961.6 L543.6,961.6 L545.6,961.5 L547.6,961.5 L549.6,961.5 L551.6,961.4 L553.6,961.4 L555.6,961.4 L557.6,961.3 L559.6,961.3 L561.6,961.3 L563.6,961.3 L565.6,961.2 L567.6,961.2 L569.6,961.2 L571.6,961.2 L573.6,961.2 L575.6,961.1 L577.6,961.1 L579.6,961.1 L581.6,961.1 L583.6,961.1 L585.6,961.0 L587.6,961.0 L589.6,961.0 L591.6,961.0 L593.6,961.0 L595.6,961.0 L597.6,960.9 L599.6,960.9 L601.6,960.9 L603.6,960.9 L605.6,960.9 L607.6,960.9 L609.6,960.9 L611.6,960.9 L613.6,960.9 L615.6,960.9 L617.6,960.9 L619.6,960.9 L621.6,960.9 L623.6,960.9 L625.6,961.0 L627.6,961.0 L629.6,961.0 L631.6,961.0 L633.6,961.0 L635.6,961.1 L637.6,961.1 L639.6,961.1 L641.6,961.1 L643.6,961.2 L645.6,961.2 L647.6,961.2 L649.6,961.2 L651.6,961.3 L653.6,961.3 L655.6,961.3 L657.6,961.4 L659.6,961.4 L661.6,961.4 L663.6,961.5 L665.6,961.5 L667.6,961.6 L669.6,961.6 L671.6,961.6 L673.6,961.7 L675.6,961.7 L677.6,961.7 L679.6,961.8 L681.6,961.8 L683.6,961.8 L685.6,961.9 L687.6,961.9 L689.6,961.9 L691.6,961.9 L693.6,962.0 L695.6,962.0 L697.6,962.1 L699.6,962.1 L701.6,962.1 L703.6,962.2 L705.6,962.2 L707.6,962.3 L709.6,962.3 L711.6,962.3 L713.6,962.4 L715.6,962.4 L717.6,962.5 L719.6,962.5 L721.6,962.6 L723.6,962.6 L725.6,962.6 L727.6,962.7 L729.6,962.7 L731.6,962.8 L733.6,962.8 L735.6,962.8 L737.6,962.8 L739.6,962.9 L741.6,962.9 L743.6,962.9 L745.6,962.9 L747.6,963.0 L749.6,963.0 L751.6,963.0 L753.6,963.0 L755.6,963.0 L757.6,963.0 L759.6,963.0 L761.6,963.0 L763.6,963.0 L765.6,963.0 L767.6,963.0 L769.6,963.0 L771.6,963.0 L773.6,963.0 L775.6,963.0 L777.6,963.0 L779.6,963.0 L781.6,963.0 L783.6,963.0 L785.6,963.0 L787.6,963.0 L789.6,963.0 L791.6,963.0 L793.6,963.0 L795.6,963.0 L797.6,963.0 L799.6,963.0 L801.6,963.0 L803.6,963.0 L805.6,963.0 L807.6,963.0 L809.6,963.0 L811.6,963.0 L813.6,963.0 L815.6,963.0 L817.6,963.0 L819.6,963.0 L821.6,963.0 L823.6,963.0 L825.6,963.0 L827.6,963.0 L829.6,963.0 L831.6,963.0 L833.6,963.0 L835.6,963.0 L837.6,963.0 L839.6,963.0 L841.6,963.0 L843.6,963.0 L845.6,963.0 L847.6,963.0 L849.6,963.0 L851.6,963.0 L853.6,963.0 L855.6,963.0 L857.6,963.0 L859.6,963.0 L861.6,963.0 L863.6,963.0 L865.6,963.0 L867.6,963.0 L869.6,963.0 L871.6,963.0 L873.6,963.0 L875.6,963.0 L877.6,963.0 L879.6,963.0 L881.6,963.0 L883.6,963.0 L885.6,963.0 L887.6,963.0 L889.6,963.0 L891.6,963.0 L893.6,963.0 L895.6,963.0 L897.6,963.0 L899.6,963.0 L901.6,963.0 L903.6,963.0 L905.6,963.0 L907.6,963.0 L909.6,963.0 L911.6,963.0 L913.6,963.0 L915.6,963.0 L917.6,963.0 L919.6,963.0 L921.6,963.0 L923.6,963.0 L925.6,963.0 L927.6,963.0 L929.6,963.0 L931.6,963.0 L933.6,963.0 L935.6,963.0 L937.6,963.0 L939.6,963.0 L941.6,963.0 L943.6,963.0 L945.6,963.0 L947.6,963.0 L949.6,963.0 L951.6,963.0 L953.6,963.0 L955.6,963.0 L957.6,963.0 L959.6,963.0 L961.6,963.0 L963.6,963.0 L965.6,963.0 L967.6,963.0 L969.6,963.0 L971.6,963.0 L973.6,963.0 L975.6,963.0 L977.6,963.0 L979.6,963.0 L981.6,963.0 L983.6,963.0 L985.6,963.0 L987.6,963.0 L989.6,963.0 L991.6,963.0 L993.6,963.0 L995.6,963.0 L997.6,963.0 L999.6,963.0 L1001.6,963.0 L1003.6,963.0 L1005.6,963.0 L1007.6,963.0 L1009.6,963.0 L1011.6,963.0 L1013.6,963.0 L1015.6,963.0 L1017.6,963.0 L1019.6,963.0 L1021.6,963.0 L1023.6,963.0 L1025.6,963.0 L1027.6,963.0 L1029.6,963.0 L1031.6,963.0 L1033.6,963.0 L1035.6,963.0 L1037.6,963.0 L1039.6,963.0 L1041.6,963.0 L1043.6,963.0 L1045.6,963.0 L1047.6,963.0 L1049.6,963.0 L1051.6,963.0 L1053.6,963.0 L1055.6,963.0 L1057.6,963.0 L1059.6,963.0 L1061.6,963.0 L1063.6,963.0 L1065.6,963.0 L1067.6,963.0 L1069.6,963.0 L1071.6,963.0 L1073.6,963.0 L1075.6,963.0 L1077.6,963.0 L1079.6,963.0 L1081.6,963.0 L1083.6,963.0 L1085.6,963.0 L1087.6,963.0 L1089.6,963.0 L1091.6,963.0 L1093.6,963.0 L1095.6,963.0 L1097.6,963.0 L1099.6,963.0 L1101.6,963.0 L1103.6,963.0 L1105.6,963.0 L1107.6,963.0 L1109.6,963.0 L1111.6,963.0 L1113.6,963.0 L1115.6,963.0 L1117.6,963.0 L1119.6,963.0 L1121.6,963.0 L1123.6,963.0 L1125.6,963.0 L1127.6,963.0 L1129.6,963.0 L1131.6,963.0 L1133.6,963.0 L1135.6,963.0 L1137.6,963.0 L1139.6,963.0 L1141.6,963.0 L1143.6,963.0 L1145.6,963.0 L1147.6,963.0 L1149.6,963.0 L1151.6,963.0 L1153.6,963.0 L1155.6,963.0 L1157.6,963.0 L1159.6,963.0 L1161.6,963.0 L1163.6,963.0 L1165.6,963.0 L1167.6,963.0 L1169.6,963.0 L1171.6,963.0 L1173.6,963.0 L1175.6,963.0 L1177.6,963.0 L1179.6,963.0 L1181.6,963.0 L1183.6,963.0 L1185.6,963.0 L1187.6,963.0 L1189.6,963.0 L1191.6,963.0 L1193.6,963.0 L1195.6,963.0 L1197.6,963.0 L1199.6,963.0 L1201.6,963.0 L1203.6,963.0 L1205.6,963.0 L1207.6,963.0 L1209.6,963.0 L1211.6,963.0 L1213.6,963.0 L1215.6,963.0 L1217.6,963.0 L1219.6,963.0 L1221.6,963.0 L1223.6,963.0 L1225.6,963.0 L1227.6,963.0 L1229.6,963.0 L1231.6,963.0 L1233.6,963.0 L1235.6,963.0 L1237.6,963.0 L1239.6,963.0 L1241.6,963.0 L1243.6,963.0 L1245.6,963.0 L1247.6,963.0 L1249.6,963.0 L1251.6,963.0 L1253.6,963.0 L1255.6,963.0 L1257.6,963.0 L1259.6,963.0 L1261.6,963.0 L1263.6,963.0 L1265.6,963.0 L1267.6,963.0 L1269.6,963.0 L1271.6,963.0 L1273.6,963.0 L1275.6,963.0 L1277.6,963.0 L1279.6,963.0 L1281.6,963.0 L1283.6,963.0 L1285.6,963.0 L1287.6,963.0 L1289.6,963.0 L1291.6,963.0 L1293.6,963.0 L1295.6,963.0 L1297.6,963.0 L1299.6,963.0 L1301.6,963.0 L1303.6,963.0 L1305.6,963.0 L1307.6,963.0 L1309.6,963.0 L1311.6,963.0 L1313.6,963.0 L1315.6,963.0 L1317.6,963.0 L1319.6,963.0 L1321.6,963.0 L1323.6,963.0 L1325.6,963.0 L1327.6,963.0 L1329.6,963.0 L1331.6,963.0 L1333.6,963.0 L1335.6,963.0 L1337.6,963.0 L1339.6,963.0 L1341.6,963.0 L1343.6,963.0 L1345.6,963.0 L1347.6,963.0 L1349.6,963.0 L1351.6,963.0 L1353.6,963.0 L1355.6,963.0 L1357.6,963.0 L1358.1,963.0" fill="none" stroke="#000" stroke-width="2.8" stroke-linejoin="round" stroke-linecap="round"/>
<path d="M161.6,883.8 L163.6,880.4 L165.6,875.9 L167.6,871.2 L169.6,866.7 L171.6,862.5 L173.6,858.5 L175.6,854.8 L177.6,851.3 L179.6,848.2 L181.6,845.5 L183.6,843.0 L185.6,840.9 L187.6,839.0 L189.6,837.4 L191.6,836.2 L193.6,835.2 L195.6,834.6 L197.6,834.1 L199.6,833.8 L201.6,833.7 L203.6,833.9 L205.6,834.2 L207.6,834.7 L209.6,835.3 L211.6,836.0 L213.6,836.7 L215.6,837.6 L217.6,838.6 L219.6,839.8 L221.6,841.2 L223.6,842.6 L225.6,844.2 L227.6,845.8 L229.6,847.4 L231.6,849.0 L233.6,850.6 L235.6,852.2 L237.6,853.7 L239.6,855.3 L241.6,856.9 L243.6,858.6 L245.6,860.3 L247.6,862.0 L249.6,863.7 L251.6,865.5 L253.6,867.4 L255.6,869.3 L257.6,871.2 L259.6,873.3 L261.6,875.4 L263.6,877.6 L265.6,879.8 L267.6,882.0 L269.6,884.3 L271.6,886.6 L273.6,888.9 L275.6,891.1 L277.6,893.4 L279.6,895.7 L281.6,898.0 L283.6,900.3 L285.6,902.7 L287.6,905.0 L289.6,907.3 L291.6,909.5 L293.6,911.6 L295.6,913.6 L297.6,915.5 L299.6,917.3 L301.6,918.9 L303.6,920.5 L305.6,922.0 L307.6,923.5 L309.6,925.0 L311.6,926.6 L313.6,928.2 L315.6,929.8 L317.6,931.4 L319.6,932.9 L321.6,934.3 L323.6,935.6 L325.6,936.8 L327.6,937.9 L329.6,938.9 L331.6,939.7 L333.6,940.3 L335.6,940.9 L337.6,941.4 L339.6,941.9 L341.6,942.3 L343.6,942.7 L345.6,943.0 L347.6,943.3 L349.6,943.6 L351.6,943.9 L353.6,944.2 L355.6,944.4 L357.6,944.7 L359.6,944.9 L361.6,945.2 L363.6,945.4 L365.6,945.7 L367.6,945.9 L369.6,946.1 L371.6,946.3 L373.6,946.5 L375.6,946.7 L377.6,946.8 L379.6,946.9 L381.6,947.0 L383.6,947.1 L385.6,947.2 L387.6,947.3 L389.6,947.3 L391.6,947.4 L393.6,947.4 L395.6,947.3 L397.6,947.3 L399.6,947.1 L401.6,947.0 L403.6,946.8 L405.6,946.7 L407.6,946.5 L409.6,946.3 L411.6,946.1 L413.6,945.9 L415.6,945.7 L417.6,945.5 L419.6,945.3 L421.6,945.2 L423.6,945.1 L425.6,945.1 L427.6,945.1 L429.6,945.1 L431.6,945.1 L433.6,945.2 L435.6,945.3 L437.6,945.4 L439.6,945.6 L441.6,945.8 L443.6,946.1 L445.6,946.4 L447.6,946.8 L449.6,947.3 L451.6,947.9 L453.6,948.5 L455.6,949.1 L457.6,949.7 L459.6,950.2 L461.6,950.8 L463.6,951.4 L465.6,952.0 L467.6,952.6 L469.6,953.2 L471.6,953.8 L473.6,954.5 L475.6,955.1 L477.6,955.7 L479.6,956.2 L481.6,956.8 L483.6,957.3 L485.6,957.7 L487.6,958.2 L489.6,958.6 L491.6,959.0 L493.6,959.3 L495.6,959.7 L497.6,960.0 L499.6,960.3 L501.6,960.6 L503.6,960.8 L505.6,960.9 L507.6,961.0 L509.6,961.0 L511.6,961.0 L513.6,960.9 L515.6,960.9 L517.6,960.8 L519.6,960.8 L521.6,960.7 L523.6,960.7 L525.6,960.6 L527.6,960.6 L529.6,960.5 L531.6,960.4 L533.6,960.4 L535.6,960.3 L537.6,960.3 L539.6,960.2 L541.6,960.2 L543.6,960.1 L545.6,960.1 L547.6,960.1 L549.6,960.0 L551.6,960.0 L553.6,960.0 L555.6,959.9 L557.6,959.9 L559.6,959.9 L561.6,959.9 L563.6,959.8 L565.6,959.8 L567.6,959.8 L569.6,959.8 L571.6,959.7 L573.6,959.7 L575.6,959.7 L577.6,959.7 L579.6,959.6 L581.6,959.6 L583.6,959.6 L585.6,959.6 L587.6,959.5 L589.6,959.5 L591.6,959.5 L593.6,959.4 L595.6,959.4 L597.6,959.4 L599.6,959.3 L601.6,959.3 L603.6,959.2 L605.6,959.2 L607.6,959.1 L609.6,959.1 L611.6,959.0 L613.6,958.9 L615.6,958.8 L617.6,958.7 L619.6,958.5 L621.6,958.4 L623.6,958.2 L625.6,958.0 L627.6,957.8 L629.6,957.6 L631.6,957.4 L633.6,957.2 L635.6,957.0 L637.6,956.8 L639.6,956.6 L641.6,956.5 L643.6,956.3 L645.6,956.2 L647.6,956.1 L649.6,956.1 L651.6,956.0 L653.6,955.9 L655.6,955.9 L657.6,955.8 L659.6,955.8 L661.6,955.7 L663.6,955.7 L665.6,955.7 L667.6,955.6 L669.6,955.6 L671.6,955.5 L673.6,955.5 L675.6,955.5 L677.6,955.5 L679.6,955.4 L681.6,955.4 L683.6,955.4 L685.6,955.4 L687.6,955.4 L689.6,955.4 L691.6,955.4 L693.6,955.5 L695.6,955.5 L697.6,955.6 L699.6,955.6 L701.6,955.7 L703.6,955.8 L705.6,955.9 L707.6,956.0 L709.6,956.2 L711.6,956.3 L713.6,956.4 L715.6,956.6 L717.6,956.7 L719.6,956.9 L721.6,957.0 L723.6,957.2 L725.6,957.3 L727.6,957.5 L729.6,957.6 L731.6,957.8 L733.6,957.9 L735.6,958.1 L737.6,958.3 L739.6,958.5 L741.6,958.7 L743.6,958.9 L745.6,959.1 L747.6,959.4 L749.6,959.6 L751.6,959.8 L753.6,960.1 L755.6,960.3 L757.6,960.5 L759.6,960.7 L761.6,960.9 L763.6,961.1 L765.6,961.2 L767.6,961.4 L769.6,961.5 L771.6,961.6 L773.6,961.8 L775.6,961.9 L777.6,962.0 L779.6,962.1 L781.6,962.2 L783.6,962.3 L785.6,962.5 L787.6,962.6 L789.6,962.6 L791.6,962.7 L793.6,962.8 L795.6,962.9 L797.6,962.9 L799.6,963.0 L801.6,963.0 L803.6,963.0 L805.6,963.0 L807.6,963.0 L809.6,963.0 L811.6,963.0 L813.6,963.0 L815.6,963.0 L817.6,963.0 L819.6,963.0 L821.6,963.0 L823.6,963.0 L825.6,963.0 L827.6,963.0 L829.6,963.0 L831.6,963.0 L833.6,963.0 L835.6,963.0 L837.6,963.0 L839.6,963.0 L841.6,963.0 L843.6,963.0 L845.6,963.0 L847.6,963.0 L849.6,963.0 L851.6,963.0 L853.6,963.0 L855.6,963.0 L857.6,963.0 L859.6,963.0 L861.6,963.0 L863.6,963.0 L865.6,963.0 L867.6,963.0 L869.6,963.0 L871.6,963.0 L873.6,963.0 L875.6,963.0 L877.6,963.0 L879.6,963.0 L881.6,963.0 L883.6,963.0 L885.6,963.0 L887.6,963.0 L889.6,963.0 L891.6,963.0 L893.6,963.0 L895.6,963.0 L897.6,963.0 L899.6,963.0 L901.6,963.0 L903.6,963.0 L905.6,963.0 L907.6,963.0 L909.6,963.0 L911.6,963.0 L913.6,963.0 L915.6,963.0 L917.6,963.0 L919.6,963.0 L921.6,963.0 L923.6,963.0 L925.6,963.0 L927.6,963.0 L929.6,963.0 L931.6,963.0 L933.6,963.0 L935.6,963.0 L937.6,963.0 L939.6,963.0 L941.6,963.0 L943.6,963.0 L945.6,963.0 L947.6,963.0 L949.6,963.0 L951.6,963.0 L953.6,963.0 L955.6,963.0 L957.6,963.0 L959.6,963.0 L961.6,963.0 L963.6,963.0 L965.6,963.0 L967.6,963.0 L969.6,963.0 L971.6,963.0 L973.6,963.0 L975.6,963.0 L977.6,963.0 L979.6,963.0 L981.6,963.0 L983.6,963.0 L985.6,963.0 L987.6,963.0 L989.6,963.0 L991.6,963.0 L993.6,963.0 L995.6,963.0 L997.6,963.0 L999.6,963.0 L1001.6,963.0 L1003.6,963.0 L1005.6,963.0 L1007.6,963.0 L1009.6,963.0 L1011.6,963.0 L1013.6,963.0 L1015.6,963.0 L1017.6,963.0 L1019.6,963.0 L1021.6,963.0 L1023.6,963.0 L1025.6,963.0 L1027.6,963.0 L1029.6,963.0 L1031.6,963.0 L1033.6,963.0 L1035.6,963.0 L1037.6,963.0 L1039.6,963.0 L1041.6,963.0 L1043.6,963.0 L1045.6,963.0 L1047.6,963.0 L1049.6,963.0 L1051.6,963.0 L1053.6,963.0 L1055.6,963.0 L1057.6,963.0 L1059.6,963.0 L1061.6,963.0 L1063.6,963.0 L1065.6,963.0 L1067.6,963.0 L1069.6,963.0 L1071.6,963.0 L1073.6,963.0 L1075.6,963.0 L1077.6,963.0 L1079.6,963.0 L1081.6,963.0 L1083.6,963.0 L1085.6,963.0 L1087.6,963.0 L1089.6,963.0 L1091.6,963.0 L1093.6,963.0 L1095.6,963.0 L1097.6,963.0 L1099.6,963.0 L1101.6,963.0 L1103.6,963.0 L1105.6,963.0 L1107.6,963.0 L1109.6,963.0 L1111.6,963.0 L1113.6,963.0 L1115.6,963.0 L1117.6,963.0 L1119.6,963.0 L1121.6,963.0 L1123.6,963.0 L1125.6,963.0 L1127.6,963.0 L1129.6,963.0 L1131.6,963.0 L1133.6,963.0 L1135.6,963.0 L1137.6,963.0 L1139.6,963.0 L1141.6,963.0 L1143.6,963.0 L1145.6,963.0 L1147.6,963.0 L1149.6,963.0 L1151.6,963.0 L1153.6,963.0 L1155.6,963.0 L1157.6,963.0 L1159.6,963.0 L1161.6,963.0 L1163.6,963.0 L1165.6,963.0 L1167.6,963.0 L1169.6,963.0 L1171.6,963.0 L1173.6,963.0 L1175.6,963.0 L1177.6,963.0 L1179.6,963.0 L1181.6,963.0 L1183.6,963.0 L1185.6,963.0 L1187.6,963.0 L1189.6,963.0 L1191.6,963.0 L1193.6,963.0 L1195.6,963.0 L1197.6,963.0 L1199.6,963.0 L1201.6,963.0 L1203.6,963.0 L1205.6,963.0 L1207.6,963.0 L1209.6,963.0 L1211.6,963.0 L1213.6,963.0 L1215.6,963.0 L1217.6,963.0 L1219.6,963.0 L1221.6,963.0 L1223.6,963.0 L1225.6,963.0 L1227.6,963.0 L1229.6,963.0 L1231.6,963.0 L1233.6,963.0 L1235.6,963.0 L1237.6,963.0 L1239.6,963.0 L1241.6,963.0 L1243.6,963.0 L1245.6,963.0 L1247.6,963.0 L1249.6,963.0 L1251.6,963.0 L1253.6,963.0 L1255.6,963.0 L1257.6,963.0 L1259.6,963.0 L1261.6,963.0 L1263.6,963.0 L1265.6,963.0 L1267.6,963.0 L1269.6,963.0 L1271.6,963.0 L1273.6,963.0 L1275.6,963.0 L1277.6,963.0 L1279.6,963.0 L1281.6,963.0 L1283.6,963.0 L1285.6,963.0 L1287.6,963.0 L1289.6,963.0 L1291.6,963.0 L1293.6,963.0 L1295.6,963.0 L1297.6,963.0 L1299.6,963.0 L1301.6,963.0 L1303.6,963.0 L1305.6,963.0 L1307.6,963.0 L1309.6,963.0 L1311.6,963.0 L1313.6,963.0 L1315.6,963.0 L1317.6,963.0 L1319.6,963.0 L1321.6,963.0 L1323.6,963.0 L1325.6,963.0 L1327.6,963.0 L1329.6,963.0 L1331.6,963.0 L1333.6,963.0 L1335.6,963.0 L1337.6,963.0 L1339.6,963.0 L1341.6,963.0 L1343.6,963.0 L1345.6,963.0 L1347.6,963.0 L1349.6,963.0 L1351.6,963.0 L1353.6,963.0 L1355.6,963.0 L1357.6,963.0 L1358.1,963.0 L1358.1,963.2 L161.6,963.2 Z" fill="#E69F00" fill-opacity="0.5" stroke="none"/>
<path d="M161.6,883.8 L163.6,880.4 L165.6,875.9 L167.6,871.2 L169.6,866.7 L171.6,862.5 L173.6,858.5 L175.6,854.8 L177.6,851.3 L179.6,848.2 L181.6,845.5 L183.6,843.0 L185.6,840.9 L187.6,839.0 L189.6,837.4 L191.6,836.2 L193.6,835.2 L195.6,834.6 L197.6,834.1 L199.6,833.8 L201.6,833.7 L203.6,833.9 L205.6,834.2 L207.6,834.7 L209.6,835.3 L211.6,836.0 L213.6,836.7 L215.6,837.6 L217.6,838.6 L219.6,839.8 L221.6,841.2 L223.6,842.6 L225.6,844.2 L227.6,845.8 L229.6,847.4 L231.6,849.0 L233.6,850.6 L235.6,852.2 L237.6,853.7 L239.6,855.3 L241.6,856.9 L243.6,858.6 L245.6,860.3 L247.6,862.0 L249.6,863.7 L251.6,865.5 L253.6,867.4 L255.6,869.3 L257.6,871.2 L259.6,873.3 L261.6,875.4 L263.6,877.6 L265.6,879.8 L267.6,882.0 L269.6,884.3 L271.6,886.6 L273.6,888.9 L275.6,891.1 L277.6,893.4 L279.6,895.7 L281.6,898.0 L283.6,900.3 L285.6,902.7 L287.6,905.0 L289.6,907.3 L291.6,909.5 L293.6,911.6 L295.6,913.6 L297.6,915.5 L299.6,917.3 L301.6,918.9 L303.6,920.5 L305.6,922.0 L307.6,923.5 L309.6,925.0 L311.6,926.6 L313.6,928.2 L315.6,929.8 L317.6,931.4 L319.6,932.9 L321.6,934.3 L323.6,935.6 L325.6,936.8 L327.6,937.9 L329.6,938.9 L331.6,939.7 L333.6,940.3 L335.6,940.9 L337.6,941.4 L339.6,941.9 L341.6,942.3 L343.6,942.7 L345.6,943.0 L347.6,943.3 L349.6,943.6 L351.6,943.9 L353.6,944.2 L355.6,944.4 L357.6,944.7 L359.6,944.9 L361.6,945.2 L363.6,945.4 L365.6,945.7 L367.6,945.9 L369.6,946.1 L371.6,946.3 L373.6,946.5 L375.6,946.7 L377.6,946.8 L379.6,946.9 L381.6,947.0 L383.6,947.1 L385.6,947.2 L387.6,947.3 L389.6,947.3 L391.6,947.4 L393.6,947.4 L395.6,947.3 L397.6,947.3 L399.6,947.1 L401.6,947.0 L403.6,946.8 L405.6,946.7 L407.6,946.5 L409.6,946.3 L411.6,946.1 L413.6,945.9 L415.6,945.7 L417.6,945.5 L419.6,945.3 L421.6,945.2 L423.6,945.1 L425.6,945.1 L427.6,945.1 L429.6,945.1 L431.6,945.1 L433.6,945.2 L435.6,945.3 L437.6,945.4 L439.6,945.6 L441.6,945.8 L443.6,946.1 L445.6,946.4 L447.6,946.8 L449.6,947.3 L451.6,947.9 L453.6,948.5 L455.6,949.1 L457.6,949.7 L459.6,950.2 L461.6,950.8 L463.6,951.4 L465.6,952.0 L467.6,952.6 L469.6,953.2 L471.6,953.8 L473.6,954.5 L475.6,955.1 L477.6,955.7 L479.6,956.2 L481.6,956.8 L483.6,957.3 L485.6,957.7 L487.6,958.2 L489.6,958.6 L491.6,959.0 L493.6,959.3 L495.6,959.7 L497.6,960.0 L499.6,960.3 L501.6,960.6 L503.6,960.8 L505.6,960.9 L507.6,961.0 L509.6,961.0 L511.6,961.0 L513.6,960.9 L515.6,960.9 L517.6,960.8 L519.6,960.8 L521.6,960.7 L523.6,960.7 L525.6,960.6 L527.6,960.6 L529.6,960.5 L531.6,960.4 L533.6,960.4 L535.6,960.3 L537.6,960.3 L539.6,960.2 L541.6,960.2 L543.6,960.1 L545.6,960.1 L547.6,960.1 L549.6,960.0 L551.6,960.0 L553.6,960.0 L555.6,959.9 L557.6,959.9 L559.6,959.9 L561.6,959.9 L563.6,959.8 L565.6,959.8 L567.6,959.8 L569.6,959.8 L571.6,959.7 L573.6,959.7 L575.6,959.7 L577.6,959.7 L579.6,959.6 L581.6,959.6 L583.6,959.6 L585.6,959.6 L587.6,959.5 L589.6,959.5 L591.6,959.5 L593.6,959.4 L595.6,959.4 L597.6,959.4 L599.6,959.3 L601.6,959.3 L603.6,959.2 L605.6,959.2 L607.6,959.1 L609.6,959.1 L611.6,959.0 L613.6,958.9 L615.6,958.8 L617.6,958.7 L619.6,958.5 L621.6,958.4 L623.6,958.2 L625.6,958.0 L627.6,957.8 L629.6,957.6 L631.6,957.4 L633.6,957.2 L635.6,957.0 L637.6,956.8 L639.6,956.6 L641.6,956.5 L643.6,956.3 L645.6,956.2 L647.6,956.1 L649.6,956.1 L651.6,956.0 L653.6,955.9 L655.6,955.9 L657.6,955.8 L659.6,955.8 L661.6,955.7 L663.6,955.7 L665.6,955.7 L667.6,955.6 L669.6,955.6 L671.6,955.5 L673.6,955.5 L675.6,955.5 L677.6,955.5 L679.6,955.4 L681.6,955.4 L683.6,955.4 L685.6,955.4 L687.6,955.4 L689.6,955.4 L691.6,955.4 L693.6,955.5 L695.6,955.5 L697.6,955.6 L699.6,955.6 L701.6,955.7 L703.6,955.8 L705.6,955.9 L707.6,956.0 L709.6,956.2 L711.6,956.3 L713.6,956.4 L715.6,956.6 L717.6,956.7 L719.6,956.9 L721.6,957.0 L723.6,957.2 L725.6,957.3 L727.6,957.5 L729.6,957.6 L731.6,957.8 L733.6,957.9 L735.6,958.1 L737.6,958.3 L739.6,958.5 L741.6,958.7 L743.6,958.9 L745.6,959.1 L747.6,959.4 L749.6,959.6 L751.6,959.8 L753.6,960.1 L755.6,960.3 L757.6,960.5 L759.6,960.7 L761.6,960.9 L763.6,961.1 L765.6,961.2 L767.6,961.4 L769.6,961.5 L771.6,961.6 L773.6,961.8 L775.6,961.9 L777.6,962.0 L779.6,962.1 L781.6,962.2 L783.6,962.3 L785.6,962.5 L787.6,962.6 L789.6,962.6 L791.6,962.7 L793.6,962.8 L795.6,962.9 L797.6,962.9 L799.6,963.0 L801.6,963.0 L803.6,963.0 L805.6,963.0 L807.6,963.0 L809.6,963.0 L811.6,963.0 L813.6,963.0 L815.6,963.0 L817.6,963.0 L819.6,963.0 L821.6,963.0 L823.6,963.0 L825.6,963.0 L827.6,963.0 L829.6,963.0 L831.6,963.0 L833.6,963.0 L835.6,963.0 L837.6,963.0 L839.6,963.0 L841.6,963.0 L843.6,963.0 L845.6,963.0 L847.6,963.0 L849.6,963.0 L851.6,963.0 L853.6,963.0 L855.6,963.0 L857.6,963.0 L859.6,963.0 L861.6,963.0 L863.6,963.0 L865.6,963.0 L867.6,963.0 L869.6,963.0 L871.6,963.0 L873.6,963.0 L875.6,963.0 L877.6,963.0 L879.6,963.0 L881.6,963.0 L883.6,963.0 L885.6,963.0 L887.6,963.0 L889.6,963.0 L891.6,963.0 L893.6,963.0 L895.6,963.0 L897.6,963.0 L899.6,963.0 L901.6,963.0 L903.6,963.0 L905.6,963.0 L907.6,963.0 L909.6,963.0 L911.6,963.0 L913.6,963.0 L915.6,963.0 L917.6,963.0 L919.6,963.0 L921.6,963.0 L923.6,963.0 L925.6,963.0 L927.6,963.0 L929.6,963.0 L931.6,963.0 L933.6,963.0 L935.6,963.0 L937.6,963.0 L939.6,963.0 L941.6,963.0 L943.6,963.0 L945.6,963.0 L947.6,963.0 L949.6,963.0 L951.6,963.0 L953.6,963.0 L955.6,963.0 L957.6,963.0 L959.6,963.0 L961.6,963.0 L963.6,963.0 L965.6,963.0 L967.6,963.0 L969.6,963.0 L971.6,963.0 L973.6,963.0 L975.6,963.0 L977.6,963.0 L979.6,963.0 L981.6,963.0 L983.6,963.0 L985.6,963.0 L987.6,963.0 L989.6,963.0 L991.6,963.0 L993.6,963.0 L995.6,963.0 L997.6,963.0 L999.6,963.0 L1001.6,963.0 L1003.6,963.0 L1005.6,963.0 L1007.6,963.0 L1009.6,963.0 L1011.6,963.0 L1013.6,963.0 L1015.6,963.0 L1017.6,963.0 L1019.6,963.0 L1021.6,963.0 L1023.6,963.0 L1025.6,963.0 L1027.6,963.0 L1029.6,963.0 L1031.6,963.0 L1033.6,963.0 L1035.6,963.0 L1037.6,963.0 L1039.6,963.0 L1041.6,963.0 L1043.6,963.0 L1045.6,963.0 L1047.6,963.0 L1049.6,963.0 L1051.6,963.0 L1053.6,963.0 L1055.6,963.0 L1057.6,963.0 L1059.6,963.0 L1061.6,963.0 L1063.6,963.0 L1065.6,963.0 L1067.6,963.0 L1069.6,963.0 L1071.6,963.0 L1073.6,963.0 L1075.6,963.0 L1077.6,963.0 L1079.6,963.0 L1081.6,963.0 L1083.6,963.0 L1085.6,963.0 L1087.6,963.0 L1089.6,963.0 L1091.6,963.0 L1093.6,963.0 L1095.6,963.0 L1097.6,963.0 L1099.6,963.0 L1101.6,963.0 L1103.6,963.0 L1105.6,963.0 L1107.6,963.0 L1109.6,963.0 L1111.6,963.0 L1113.6,963.0 L1115.6,963.0 L1117.6,963.0 L1119.6,963.0 L1121.6,963.0 L1123.6,963.0 L1125.6,963.0 L1127.6,963.0 L1129.6,963.0 L1131.6,963.0 L1133.6,963.0 L1135.6,963.0 L1137.6,963.0 L1139.6,963.0 L1141.6,963.0 L1143.6,963.0 L1145.6,963.0 L1147.6,963.0 L1149.6,963.0 L1151.6,963.0 L1153.6,963.0 L1155.6,963.0 L1157.6,963.0 L1159.6,963.0 L1161.6,963.0 L1163.6,963.0 L1165.6,963.0 L1167.6,963.0 L1169.6,963.0 L1171.6,963.0 L1173.6,963.0 L1175.6,963.0 L1177.6,963.0 L1179.6,963.0 L1181.6,963.0 L1183.6,963.0 L1185.6,963.0 L1187.6,963.0 L1189.6,963.0 L1191.6,963.0 L1193.6,963.0 L1195.6,963.0 L1197.6,963.0 L1199.6,963.0 L1201.6,963.0 L1203.6,963.0 L1205.6,963.0 L1207.6,963.0 L1209.6,963.0 L1211.6,963.0 L1213.6,963.0 L1215.6,963.0 L1217.6,963.0 L1219.6,963.0 L1221.6,963.0 L1223.6,963.0 L1225.6,963.0 L1227.6,963.0 L1229.6,963.0 L1231.6,963.0 L1233.6,963.0 L1235.6,963.0 L1237.6,963.0 L1239.6,963.0 L1241.6,963.0 L1243.6,963.0 L1245.6,963.0 L1247.6,963.0 L1249.6,963.0 L1251.6,963.0 L1253.6,963.0 L1255.6,963.0 L1257.6,963.0 L1259.6,963.0 L1261.6,963.0 L1263.6,963.0 L1265.6,963.0 L1267.6,963.0 L1269.6,963.0 L1271.6,963.0 L1273.6,963.0 L1275.6,963.0 L1277.6,963.0 L1279.6,963.0 L1281.6,963.0 L1283.6,963.0 L1285.6,963.0 L1287.6,963.0 L1289.6,963.0 L1291.6,963.0 L1293.6,963.0 L1295.6,963.0 L1297.6,963.0 L1299.6,963.0 L1301.6,963.0 L1303.6,963.0 L1305.6,963.0 L1307.6,963.0 L1309.6,963.0 L1311.6,963.0 L1313.6,963.0 L1315.6,963.0 L1317.6,963.0 L1319.6,963.0 L1321.6,963.0 L1323.6,963.0 L1325.6,963.0 L1327.6,963.0 L1329.6,963.0 L1331.6,963.0 L1333.6,963.0 L1335.6,963.0 L1337.6,963.0 L1339.6,963.0 L1341.6,963.0 L1343.6,963.0 L1345.6,963.0 L1347.6,963.0 L1349.6,963.0 L1351.6,963.0 L1353.6,963.0 L1355.6,963.0 L1357.6,963.0 L1358.1,963.0" fill="none" stroke="#000" stroke-width="2.8" stroke-linejoin="round" stroke-linecap="round"/>
<text x="1134.2" y="861.8" font-size="39.7" font-weight="bold" fill="#000">Shrimp-like</text>
<rect x="103" y="827.4" width="1313" height="142.0" fill="none" stroke="#333333" stroke-width="2.0"/>
<line x1="94" x2="103" y1="963.2" y2="963.2" stroke="#333333" stroke-width="2.2"/>
<text x="88" y="972.2" font-size="25.5" font-weight="bold" fill="#4D4D4D" text-anchor="end">0.0</text>
<line x1="94" x2="103" y1="932.0" y2="932.0" stroke="#333333" stroke-width="2.2"/>
<text x="88" y="941.0" font-size="25.5" font-weight="bold" fill="#4D4D4D" text-anchor="end">0.1</text>
<line x1="94" x2="103" y1="900.8" y2="900.8" stroke="#333333" stroke-width="2.2"/>
<text x="88" y="909.8" font-size="25.5" font-weight="bold" fill="#4D4D4D" text-anchor="end">0.2</text>
<line x1="94" x2="103" y1="869.6" y2="869.6" stroke="#333333" stroke-width="2.2"/>
<text x="88" y="878.6" font-size="25.5" font-weight="bold" fill="#4D4D4D" text-anchor="end">0.3</text>
<line x1="94" x2="103" y1="838.4" y2="838.4" stroke="#333333" stroke-width="2.2"/>
<text x="88" y="847.4" font-size="25.5" font-weight="bold" fill="#4D4D4D" text-anchor="end">0.4</text>
<line y1="969.4" y2="978.4" x1="423.8" x2="423.8" stroke="#333333" stroke-width="2.2"/>
<text x="423.8" y="1002.0" font-size="25.5" font-weight="bold" fill="#4D4D4D" text-anchor="middle">5</text>
<line y1="969.4" y2="978.4" x1="746.2" x2="746.2" stroke="#333333" stroke-width="2.2"/>
<text x="746.2" y="1002.0" font-size="25.5" font-weight="bold" fill="#4D4D4D" text-anchor="middle">10</text>
<line y1="969.4" y2="978.4" x1="1068.5" x2="1068.5" stroke="#333333" stroke-width="2.2"/>
<text x="1068.5" y="1002.0" font-size="25.5" font-weight="bold" fill="#4D4D4D" text-anchor="middle">15</text>
<line y1="969.4" y2="978.4" x1="1390.8" x2="1390.8" stroke="#333333" stroke-width="2.2"/>
<text x="1390.8" y="1002.0" font-size="25.5" font-weight="bold" fill="#4D4D4D" text-anchor="middle">20</text>
<line x1="103" x2="1416" y1="1136.4" y2="1136.4" stroke="#EBEBEB" stroke-width="1.2"/>
<line x1="103" x2="1416" y1="1093.9" y2="1093.9" stroke="#EBEBEB" stroke-width="1.2"/>
<line x1="103" x2="1416" y1="1051.5" y2="1051.5" stroke="#EBEBEB" stroke-width="1.2"/>
<line y1="1021.6" y2="1163.6" x1="344.9" x2="344.9" stroke="#EBEBEB" stroke-width="1.2"/>
<line y1="1021.6" y2="1163.6" x1="640.6" x2="640.6" stroke="#EBEBEB" stroke-width="1.2"/>
<line y1="1021.6" y2="1163.6" x1="936.4" x2="936.4" stroke="#EBEBEB" stroke-width="1.2"/>
<line y1="1021.6" y2="1163.6" x1="1232.1" x2="1232.1" stroke="#EBEBEB" stroke-width="1.2"/>
<line x1="103" x2="1416" y1="1157.6" y2="1157.6" stroke="#EBEBEB" stroke-width="2.4"/>
<line x1="103" x2="1416" y1="1115.2" y2="1115.2" stroke="#EBEBEB" stroke-width="2.4"/>
<line x1="103" x2="1416" y1="1072.7" y2="1072.7" stroke="#EBEBEB" stroke-width="2.4"/>
<line x1="103" x2="1416" y1="1030.3" y2="1030.3" stroke="#EBEBEB" stroke-width="2.4"/>
<line y1="1021.6" y2="1163.6" x1="197.0" x2="197.0" stroke="#EBEBEB" stroke-width="2.4"/>
<line y1="1021.6" y2="1163.6" x1="492.8" x2="492.8" stroke="#EBEBEB" stroke-width="2.4"/>
<line y1="1021.6" y2="1163.6" x1="788.5" x2="788.5" stroke="#EBEBEB" stroke-width="2.4"/>
<line y1="1021.6" y2="1163.6" x1="1084.2" x2="1084.2" stroke="#EBEBEB" stroke-width="2.4"/>
<line y1="1021.6" y2="1163.6" x1="1380.0" x2="1380.0" stroke="#EBEBEB" stroke-width="2.4"/>
<path d="M161.6,1072.4 L163.6,1070.3 L165.6,1067.6 L167.6,1064.6 L169.6,1061.7 L171.6,1058.8 L173.6,1056.0 L175.6,1053.2 L177.6,1050.6 L179.6,1048.1 L181.6,1045.7 L183.6,1043.4 L185.6,1041.2 L187.6,1039.2 L189.6,1037.3 L191.6,1035.6 L193.6,1034.0 L195.6,1032.6 L197.6,1031.3 L199.6,1030.2 L201.6,1029.2 L203.6,1028.5 L205.6,1027.9 L207.6,1027.5 L209.6,1027.2 L211.6,1027.1 L213.6,1027.2 L215.6,1027.4 L217.6,1027.8 L219.6,1028.3 L221.6,1028.9 L223.6,1029.6 L225.6,1030.4 L227.6,1031.4 L229.6,1032.6 L231.6,1033.9 L233.6,1035.3 L235.6,1036.9 L237.6,1038.5 L239.6,1040.2 L241.6,1042.1 L243.6,1044.0 L245.6,1045.9 L247.6,1047.8 L249.6,1049.8 L251.6,1051.8 L253.6,1053.8 L255.6,1055.9 L257.6,1058.1 L259.6,1060.3 L261.6,1062.5 L263.6,1064.7 L265.6,1066.9 L267.6,1069.1 L269.6,1071.4 L271.6,1073.6 L273.6,1075.7 L275.6,1077.8 L277.6,1079.8 L279.6,1081.8 L281.6,1083.7 L283.6,1085.5 L285.6,1087.3 L287.6,1088.9 L289.6,1090.5 L291.6,1091.9 L293.6,1093.3 L295.6,1094.5 L297.6,1095.6 L299.6,1096.5 L301.6,1097.2 L303.6,1097.9 L305.6,1098.5 L307.6,1099.1 L309.6,1099.7 L311.6,1100.2 L313.6,1100.8 L315.6,1101.3 L317.6,1101.8 L319.6,1102.2 L321.6,1102.7 L323.6,1103.0 L325.6,1103.4 L327.6,1103.7 L329.6,1104.0 L331.6,1104.3 L333.6,1104.6 L335.6,1104.9 L337.6,1105.3 L339.6,1105.7 L341.6,1106.1 L343.6,1106.5 L345.6,1107.0 L347.6,1107.5 L349.6,1108.1 L351.6,1108.8 L353.6,1109.6 L355.6,1110.4 L357.6,1111.3 L359.6,1112.3 L361.6,1113.2 L363.6,1114.2 L365.6,1115.2 L367.6,1116.1 L369.6,1117.1 L371.6,1118.1 L373.6,1119.1 L375.6,1120.1 L377.6,1121.2 L379.6,1122.2 L381.6,1123.2 L383.6,1124.3 L385.6,1125.4 L387.6,1126.5 L389.6,1127.6 L391.6,1128.8 L393.6,1129.9 L395.6,1131.0 L397.6,1132.2 L399.6,1133.2 L401.6,1134.2 L403.6,1135.2 L405.6,1136.2 L407.6,1137.1 L409.6,1138.0 L411.6,1138.9 L413.6,1139.8 L415.6,1140.6 L417.6,1141.4 L419.6,1142.2 L421.6,1142.9 L423.6,1143.5 L425.6,1144.0 L427.6,1144.5 L429.6,1144.9 L431.6,1145.3 L433.6,1145.7 L435.6,1146.1 L437.6,1146.4 L439.6,1146.7 L441.6,1147.1 L443.6,1147.4 L445.6,1147.7 L447.6,1148.0 L449.6,1148.3 L451.6,1148.7 L453.6,1149.0 L455.6,1149.3 L457.6,1149.5 L459.6,1149.8 L461.6,1150.0 L463.6,1150.2 L465.6,1150.4 L467.6,1150.5 L469.6,1150.6 L471.6,1150.7 L473.6,1150.7 L475.6,1150.7 L477.6,1150.7 L479.6,1150.7 L481.6,1150.7 L483.6,1150.7 L485.6,1150.7 L487.6,1150.7 L489.6,1150.7 L491.6,1150.7 L493.6,1150.7 L495.6,1150.7 L497.6,1150.7 L499.6,1150.7 L501.6,1150.7 L503.6,1150.7 L505.6,1150.7 L507.6,1150.6 L509.6,1150.6 L511.6,1150.5 L513.6,1150.4 L515.6,1150.2 L517.6,1150.1 L519.6,1149.9 L521.6,1149.7 L523.6,1149.5 L525.6,1149.4 L527.6,1149.2 L529.6,1149.1 L531.6,1149.0 L533.6,1148.9 L535.6,1148.8 L537.6,1148.8 L539.6,1148.8 L541.6,1148.8 L543.6,1148.8 L545.6,1148.8 L547.6,1148.8 L549.6,1148.8 L551.6,1148.8 L553.6,1148.8 L555.6,1148.8 L557.6,1148.8 L559.6,1148.8 L561.6,1148.8 L563.6,1148.8 L565.6,1148.8 L567.6,1148.8 L569.6,1148.8 L571.6,1148.8 L573.6,1148.9 L575.6,1148.9 L577.6,1149.0 L579.6,1149.1 L581.6,1149.2 L583.6,1149.3 L585.6,1149.5 L587.6,1149.6 L589.6,1149.8 L591.6,1149.9 L593.6,1150.1 L595.6,1150.2 L597.6,1150.4 L599.6,1150.5 L601.6,1150.7 L603.6,1150.8 L605.6,1150.9 L607.6,1151.1 L609.6,1151.2 L611.6,1151.3 L613.6,1151.5 L615.6,1151.6 L617.6,1151.8 L619.6,1151.9 L621.6,1152.1 L623.6,1152.2 L625.6,1152.3 L627.6,1152.5 L629.6,1152.6 L631.6,1152.8 L633.6,1152.9 L635.6,1153.1 L637.6,1153.2 L639.6,1153.4 L641.6,1153.5 L643.6,1153.7 L645.6,1153.8 L647.6,1154.0 L649.6,1154.1 L651.6,1154.3 L653.6,1154.4 L655.6,1154.6 L657.6,1154.7 L659.6,1154.9 L661.6,1155.0 L663.6,1155.1 L665.6,1155.2 L667.6,1155.3 L669.6,1155.4 L671.6,1155.5 L673.6,1155.6 L675.6,1155.8 L677.6,1155.9 L679.6,1156.0 L681.6,1156.1 L683.6,1156.2 L685.6,1156.3 L687.6,1156.4 L689.6,1156.5 L691.6,1156.6 L693.6,1156.7 L695.6,1156.7 L697.6,1156.8 L699.6,1156.9 L701.6,1157.0 L703.6,1157.0 L705.6,1157.1 L707.6,1157.1 L709.6,1157.1 L711.6,1157.2 L713.6,1157.2 L715.6,1157.2 L717.6,1157.2 L719.6,1157.2 L721.6,1157.2 L723.6,1157.2 L725.6,1157.1 L727.6,1157.1 L729.6,1157.1 L731.6,1157.0 L733.6,1157.0 L735.6,1157.0 L737.6,1156.9 L739.6,1156.9 L741.6,1156.8 L743.6,1156.8 L745.6,1156.7 L747.6,1156.7 L749.6,1156.6 L751.6,1156.6 L753.6,1156.5 L755.6,1156.5 L757.6,1156.4 L759.6,1156.3 L761.6,1156.3 L763.6,1156.2 L765.6,1156.2 L767.6,1156.1 L769.6,1156.0 L771.6,1155.9 L773.6,1155.8 L775.6,1155.7 L777.6,1155.6 L779.6,1155.5 L781.6,1155.4 L783.6,1155.2 L785.6,1155.1 L787.6,1155.0 L789.6,1154.9 L791.6,1154.8 L793.6,1154.6 L795.6,1154.5 L797.6,1154.4 L799.6,1154.3 L801.6,1154.3 L803.6,1154.2 L805.6,1154.1 L807.6,1154.1 L809.6,1154.0 L811.6,1154.0 L813.6,1154.0 L815.6,1154.0 L817.6,1154.0 L819.6,1154.1 L821.6,1154.1 L823.6,1154.1 L825.6,1154.2 L827.6,1154.2 L829.6,1154.3 L831.6,1154.3 L833.6,1154.4 L835.6,1154.4 L837.6,1154.5 L839.6,1154.6 L841.6,1154.6 L843.6,1154.7 L845.6,1154.8 L847.6,1154.9 L849.6,1154.9 L851.6,1155.0 L853.6,1155.1 L855.6,1155.1 L857.6,1155.2 L859.6,1155.2 L861.6,1155.3 L863.6,1155.4 L865.6,1155.4 L867.6,1155.5 L869.6,1155.5 L871.6,1155.6 L873.6,1155.6 L875.6,1155.7 L877.6,1155.8 L879.6,1155.8 L881.6,1155.9 L883.6,1155.9 L885.6,1156.0 L887.6,1156.0 L889.6,1156.1 L891.6,1156.1 L893.6,1156.1 L895.6,1156.2 L897.6,1156.2 L899.6,1156.2 L901.6,1156.2 L903.6,1156.2 L905.6,1156.1 L907.6,1156.1 L909.6,1156.0 L911.6,1155.9 L913.6,1155.8 L915.6,1155.7 L917.6,1155.6 L919.6,1155.5 L921.6,1155.4 L923.6,1155.3 L925.6,1155.1 L927.6,1155.0 L929.6,1154.9 L931.6,1154.7 L933.6,1154.6 L935.6,1154.5 L937.6,1154.3 L939.6,1154.2 L941.6,1154.1 L943.6,1154.0 L945.6,1153.9 L947.6,1153.8 L949.6,1153.7 L951.6,1153.6 L953.6,1153.6 L955.6,1153.5 L957.6,1153.5 L959.6,1153.5 L961.6,1153.5 L963.6,1153.5 L965.6,1153.6 L967.6,1153.6 L969.6,1153.6 L971.6,1153.7 L973.6,1153.7 L975.6,1153.8 L977.6,1153.9 L979.6,1153.9 L981.6,1154.0 L983.6,1154.1 L985.6,1154.2 L987.6,1154.3 L989.6,1154.4 L991.6,1154.5 L993.6,1154.6 L995.6,1154.7 L997.6,1154.8 L999.6,1154.9 L1001.6,1155.0 L1003.6,1155.2 L1005.6,1155.3 L1007.6,1155.4 L1009.6,1155.5 L1011.6,1155.6 L1013.6,1155.7 L1015.6,1155.9 L1017.6,1156.0 L1019.6,1156.1 L1021.6,1156.2 L1023.6,1156.3 L1025.6,1156.4 L1027.6,1156.5 L1029.6,1156.6 L1031.6,1156.7 L1033.6,1156.8 L1035.6,1156.8 L1037.6,1156.9 L1039.6,1157.0 L1041.6,1157.0 L1043.6,1157.1 L1045.6,1157.1 L1047.6,1157.2 L1049.6,1157.2 L1051.6,1157.2 L1053.6,1157.2 L1055.6,1157.3 L1057.6,1157.3 L1059.6,1157.3 L1061.6,1157.3 L1063.6,1157.3 L1065.6,1157.3 L1067.6,1157.4 L1069.6,1157.4 L1071.6,1157.4 L1073.6,1157.4 L1075.6,1157.4 L1077.6,1157.4 L1079.6,1157.5 L1081.6,1157.5 L1083.6,1157.5 L1085.6,1157.5 L1087.6,1157.5 L1089.6,1157.5 L1091.6,1157.5 L1093.6,1157.5 L1095.6,1157.6 L1097.6,1157.6 L1099.6,1157.6 L1101.6,1157.6 L1103.6,1157.6 L1105.6,1157.6 L1107.6,1157.6 L1109.6,1157.6 L1111.6,1157.6 L1113.6,1157.6 L1115.6,1157.7 L1117.6,1157.7 L1119.6,1157.7 L1121.6,1157.7 L1123.6,1157.7 L1125.6,1157.7 L1127.6,1157.7 L1129.6,1157.7 L1131.6,1157.7 L1133.6,1157.7 L1135.6,1157.7 L1137.6,1157.8 L1139.6,1157.8 L1141.6,1157.8 L1143.6,1157.8 L1145.6,1157.8 L1147.6,1157.8 L1149.6,1157.8 L1151.6,1157.8 L1153.6,1157.8 L1155.6,1157.8 L1157.6,1157.8 L1159.6,1157.8 L1161.6,1157.8 L1163.6,1157.9 L1165.6,1157.9 L1167.6,1157.9 L1169.6,1157.9 L1171.6,1157.9 L1173.6,1157.9 L1175.6,1157.9 L1177.6,1157.9 L1179.6,1157.9 L1181.6,1157.9 L1183.6,1157.9 L1185.6,1157.9 L1187.6,1157.9 L1189.6,1157.9 L1191.6,1158.0 L1193.6,1158.0 L1195.6,1158.0 L1197.6,1158.0 L1199.6,1158.0 L1201.6,1158.0 L1203.6,1158.0 L1205.6,1158.0 L1207.6,1158.0 L1209.6,1158.0 L1211.6,1158.0 L1213.6,1158.0 L1215.6,1158.0 L1217.6,1158.0 L1219.6,1158.0 L1221.6,1158.0 L1223.6,1158.0 L1225.6,1158.1 L1227.6,1158.1 L1229.6,1158.1 L1231.6,1158.1 L1233.6,1158.1 L1235.6,1158.1 L1237.6,1158.1 L1239.6,1158.1 L1241.6,1158.1 L1243.6,1158.1 L1245.6,1158.1 L1247.6,1158.1 L1249.6,1158.1 L1251.6,1158.1 L1253.6,1158.1 L1255.6,1158.1 L1257.6,1158.1 L1259.6,1158.1 L1261.6,1158.1 L1263.6,1158.1 L1265.6,1158.1 L1267.6,1158.1 L1269.6,1158.1 L1271.6,1158.1 L1273.6,1158.1 L1275.6,1158.1 L1277.6,1158.1 L1279.6,1158.1 L1281.6,1158.1 L1283.6,1158.1 L1285.6,1158.1 L1287.6,1158.2 L1289.6,1158.2 L1291.6,1158.2 L1293.6,1158.2 L1295.6,1158.2 L1297.6,1158.2 L1299.6,1158.2 L1301.6,1158.2 L1303.6,1158.2 L1305.6,1158.2 L1307.6,1158.2 L1309.6,1158.2 L1311.6,1158.2 L1313.6,1158.2 L1315.6,1158.2 L1317.6,1158.2 L1319.6,1158.2 L1321.6,1158.2 L1323.6,1158.2 L1325.6,1158.2 L1327.6,1158.2 L1329.6,1158.2 L1331.6,1158.2 L1333.6,1158.2 L1335.6,1158.2 L1337.6,1158.2 L1339.6,1158.2 L1341.6,1158.2 L1343.6,1158.2 L1345.6,1158.2 L1347.6,1158.2 L1349.6,1158.2 L1351.6,1158.2 L1353.6,1158.2 L1355.6,1158.2 L1357.6,1158.2 L1358.1,1158.2 L1358.1,1157.6 L161.6,1157.6 Z" fill="#999999" fill-opacity="0.5" stroke="none"/>
<path d="M161.6,1072.4 L163.6,1070.3 L165.6,1067.6 L167.6,1064.6 L169.6,1061.7 L171.6,1058.8 L173.6,1056.0 L175.6,1053.2 L177.6,1050.6 L179.6,1048.1 L181.6,1045.7 L183.6,1043.4 L185.6,1041.2 L187.6,1039.2 L189.6,1037.3 L191.6,1035.6 L193.6,1034.0 L195.6,1032.6 L197.6,1031.3 L199.6,1030.2 L201.6,1029.2 L203.6,1028.5 L205.6,1027.9 L207.6,1027.5 L209.6,1027.2 L211.6,1027.1 L213.6,1027.2 L215.6,1027.4 L217.6,1027.8 L219.6,1028.3 L221.6,1028.9 L223.6,1029.6 L225.6,1030.4 L227.6,1031.4 L229.6,1032.6 L231.6,1033.9 L233.6,1035.3 L235.6,1036.9 L237.6,1038.5 L239.6,1040.2 L241.6,1042.1 L243.6,1044.0 L245.6,1045.9 L247.6,1047.8 L249.6,1049.8 L251.6,1051.8 L253.6,1053.8 L255.6,1055.9 L257.6,1058.1 L259.6,1060.3 L261.6,1062.5 L263.6,1064.7 L265.6,1066.9 L267.6,1069.1 L269.6,1071.4 L271.6,1073.6 L273.6,1075.7 L275.6,1077.8 L277.6,1079.8 L279.6,1081.8 L281.6,1083.7 L283.6,1085.5 L285.6,1087.3 L287.6,1088.9 L289.6,1090.5 L291.6,1091.9 L293.6,1093.3 L295.6,1094.5 L297.6,1095.6 L299.6,1096.5 L301.6,1097.2 L303.6,1097.9 L305.6,1098.5 L307.6,1099.1 L309.6,1099.7 L311.6,1100.2 L313.6,1100.8 L315.6,1101.3 L317.6,1101.8 L319.6,1102.2 L321.6,1102.7 L323.6,1103.0 L325.6,1103.4 L327.6,1103.7 L329.6,1104.0 L331.6,1104.3 L333.6,1104.6 L335.6,1104.9 L337.6,1105.3 L339.6,1105.7 L341.6,1106.1 L343.6,1106.5 L345.6,1107.0 L347.6,1107.5 L349.6,1108.1 L351.6,1108.8 L353.6,1109.6 L355.6,1110.4 L357.6,1111.3 L359.6,1112.3 L361.6,1113.2 L363.6,1114.2 L365.6,1115.2 L367.6,1116.1 L369.6,1117.1 L371.6,1118.1 L373.6,1119.1 L375.6,1120.1 L377.6,1121.2 L379.6,1122.2 L381.6,1123.2 L383.6,1124.3 L385.6,1125.4 L387.6,1126.5 L389.6,1127.6 L391.6,1128.8 L393.6,1129.9 L395.6,1131.0 L397.6,1132.2 L399.6,1133.2 L401.6,1134.2 L403.6,1135.2 L405.6,1136.2 L407.6,1137.1 L409.6,1138.0 L411.6,1138.9 L413.6,1139.8 L415.6,1140.6 L417.6,1141.4 L419.6,1142.2 L421.6,1142.9 L423.6,1143.5 L425.6,1144.0 L427.6,1144.5 L429.6,1144.9 L431.6,1145.3 L433.6,1145.7 L435.6,1146.1 L437.6,1146.4 L439.6,1146.7 L441.6,1147.1 L443.6,1147.4 L445.6,1147.7 L447.6,1148.0 L449.6,1148.3 L451.6,1148.7 L453.6,1149.0 L455.6,1149.3 L457.6,1149.5 L459.6,1149.8 L461.6,1150.0 L463.6,1150.2 L465.6,1150.4 L467.6,1150.5 L469.6,1150.6 L471.6,1150.7 L473.6,1150.7 L475.6,1150.7 L477.6,1150.7 L479.6,1150.7 L481.6,1150.7 L483.6,1150.7 L485.6,1150.7 L487.6,1150.7 L489.6,1150.7 L491.6,1150.7 L493.6,1150.7 L495.6,1150.7 L497.6,1150.7 L499.6,1150.7 L501.6,1150.7 L503.6,1150.7 L505.6,1150.7 L507.6,1150.6 L509.6,1150.6 L511.6,1150.5 L513.6,1150.4 L515.6,1150.2 L517.6,1150.1 L519.6,1149.9 L521.6,1149.7 L523.6,1149.5 L525.6,1149.4 L527.6,1149.2 L529.6,1149.1 L531.6,1149.0 L533.6,1148.9 L535.6,1148.8 L537.6,1148.8 L539.6,1148.8 L541.6,1148.8 L543.6,1148.8 L545.6,1148.8 L547.6,1148.8 L549.6,1148.8 L551.6,1148.8 L553.6,1148.8 L555.6,1148.8 L557.6,1148.8 L559.6,1148.8 L561.6,1148.8 L563.6,1148.8 L565.6,1148.8 L567.6,1148.8 L569.6,1148.8 L571.6,1148.8 L573.6,1148.9 L575.6,1148.9 L577.6,1149.0 L579.6,1149.1 L581.6,1149.2 L583.6,1149.3 L585.6,1149.5 L587.6,1149.6 L589.6,1149.8 L591.6,1149.9 L593.6,1150.1 L595.6,1150.2 L597.6,1150.4 L599.6,1150.5 L601.6,1150.7 L603.6,1150.8 L605.6,1150.9 L607.6,1151.1 L609.6,1151.2 L611.6,1151.3 L613.6,1151.5 L615.6,1151.6 L617.6,1151.8 L619.6,1151.9 L621.6,1152.1 L623.6,1152.2 L625.6,1152.3 L627.6,1152.5 L629.6,1152.6 L631.6,1152.8 L633.6,1152.9 L635.6,1153.1 L637.6,1153.2 L639.6,1153.4 L641.6,1153.5 L643.6,1153.7 L645.6,1153.8 L647.6,1154.0 L649.6,1154.1 L651.6,1154.3 L653.6,1154.4 L655.6,1154.6 L657.6,1154.7 L659.6,1154.9 L661.6,1155.0 L663.6,1155.1 L665.6,1155.2 L667.6,1155.3 L669.6,1155.4 L671.6,1155.5 L673.6,1155.6 L675.6,1155.8 L677.6,1155.9 L679.6,1156.0 L681.6,1156.1 L683.6,1156.2 L685.6,1156.3 L687.6,1156.4 L689.6,1156.5 L691.6,1156.6 L693.6,1156.7 L695.6,1156.7 L697.6,1156.8 L699.6,1156.9 L701.6,1157.0 L703.6,1157.0 L705.6,1157.1 L707.6,1157.1 L709.6,1157.1 L711.6,1157.2 L713.6,1157.2 L715.6,1157.2 L717.6,1157.2 L719.6,1157.2 L721.6,1157.2 L723.6,1157.2 L725.6,1157.1 L727.6,1157.1 L729.6,1157.1 L731.6,1157.0 L733.6,1157.0 L735.6,1157.0 L737.6,1156.9 L739.6,1156.9 L741.6,1156.8 L743.6,1156.8 L745.6,1156.7 L747.6,1156.7 L749.6,1156.6 L751.6,1156.6 L753.6,1156.5 L755.6,1156.5 L757.6,1156.4 L759.6,1156.3 L761.6,1156.3 L763.6,1156.2 L765.6,1156.2 L767.6,1156.1 L769.6,1156.0 L771.6,1155.9 L773.6,1155.8 L775.6,1155.7 L777.6,1155.6 L779.6,1155.5 L781.6,1155.4 L783.6,1155.2 L785.6,1155.1 L787.6,1155.0 L789.6,1154.9 L791.6,1154.8 L793.6,1154.6 L795.6,1154.5 L797.6,1154.4 L799.6,1154.3 L801.6,1154.3 L803.6,1154.2 L805.6,1154.1 L807.6,1154.1 L809.6,1154.0 L811.6,1154.0 L813.6,1154.0 L815.6,1154.0 L817.6,1154.0 L819.6,1154.1 L821.6,1154.1 L823.6,1154.1 L825.6,1154.2 L827.6,1154.2 L829.6,1154.3 L831.6,1154.3 L833.6,1154.4 L835.6,1154.4 L837.6,1154.5 L839.6,1154.6 L841.6,1154.6 L843.6,1154.7 L845.6,1154.8 L847.6,1154.9 L849.6,1154.9 L851.6,1155.0 L853.6,1155.1 L855.6,1155.1 L857.6,1155.2 L859.6,1155.2 L861.6,1155.3 L863.6,1155.4 L865.6,1155.4 L867.6,1155.5 L869.6,1155.5 L871.6,1155.6 L873.6,1155.6 L875.6,1155.7 L877.6,1155.8 L879.6,1155.8 L881.6,1155.9 L883.6,1155.9 L885.6,1156.0 L887.6,1156.0 L889.6,1156.1 L891.6,1156.1 L893.6,1156.1 L895.6,1156.2 L897.6,1156.2 L899.6,1156.2 L901.6,1156.2 L903.6,1156.2 L905.6,1156.1 L907.6,1156.1 L909.6,1156.0 L911.6,1155.9 L913.6,1155.8 L915.6,1155.7 L917.6,1155.6 L919.6,1155.5 L921.6,1155.4 L923.6,1155.3 L925.6,1155.1 L927.6,1155.0 L929.6,1154.9 L931.6,1154.7 L933.6,1154.6 L935.6,1154.5 L937.6,1154.3 L939.6,1154.2 L941.6,1154.1 L943.6,1154.0 L945.6,1153.9 L947.6,1153.8 L949.6,1153.7 L951.6,1153.6 L953.6,1153.6 L955.6,1153.5 L957.6,1153.5 L959.6,1153.5 L961.6,1153.5 L963.6,1153.5 L965.6,1153.6 L967.6,1153.6 L969.6,1153.6 L971.6,1153.7 L973.6,1153.7 L975.6,1153.8 L977.6,1153.9 L979.6,1153.9 L981.6,1154.0 L983.6,1154.1 L985.6,1154.2 L987.6,1154.3 L989.6,1154.4 L991.6,1154.5 L993.6,1154.6 L995.6,1154.7 L997.6,1154.8 L999.6,1154.9 L1001.6,1155.0 L1003.6,1155.2 L1005.6,1155.3 L1007.6,1155.4 L1009.6,1155.5 L1011.6,1155.6 L1013.6,1155.7 L1015.6,1155.9 L1017.6,1156.0 L1019.6,1156.1 L1021.6,1156.2 L1023.6,1156.3 L1025.6,1156.4 L1027.6,1156.5 L1029.6,1156.6 L1031.6,1156.7 L1033.6,1156.8 L1035.6,1156.8 L1037.6,1156.9 L1039.6,1157.0 L1041.6,1157.0 L1043.6,1157.1 L1045.6,1157.1 L1047.6,1157.2 L1049.6,1157.2 L1051.6,1157.2 L1053.6,1157.2 L1055.6,1157.3 L1057.6,1157.3 L1059.6,1157.3 L1061.6,1157.3 L1063.6,1157.3 L1065.6,1157.3 L1067.6,1157.4 L1069.6,1157.4 L1071.6,1157.4 L1073.6,1157.4 L1075.6,1157.4 L1077.6,1157.4 L1079.6,1157.5 L1081.6,1157.5 L1083.6,1157.5 L1085.6,1157.5 L1087.6,1157.5 L1089.6,1157.5 L1091.6,1157.5 L1093.6,1157.5 L1095.6,1157.6 L1097.6,1157.6 L1099.6,1157.6 L1101.6,1157.6 L1103.6,1157.6 L1105.6,1157.6 L1107.6,1157.6 L1109.6,1157.6 L1111.6,1157.6 L1113.6,1157.6 L1115.6,1157.7 L1117.6,1157.7 L1119.6,1157.7 L1121.6,1157.7 L1123.6,1157.7 L1125.6,1157.7 L1127.6,1157.7 L1129.6,1157.7 L1131.6,1157.7 L1133.6,1157.7 L1135.6,1157.7 L1137.6,1157.8 L1139.6,1157.8 L1141.6,1157.8 L1143.6,1157.8 L1145.6,1157.8 L1147.6,1157.8 L1149.6,1157.8 L1151.6,1157.8 L1153.6,1157.8 L1155.6,1157.8 L1157.6,1157.8 L1159.6,1157.8 L1161.6,1157.8 L1163.6,1157.9 L1165.6,1157.9 L1167.6,1157.9 L1169.6,1157.9 L1171.6,1157.9 L1173.6,1157.9 L1175.6,1157.9 L1177.6,1157.9 L1179.6,1157.9 L1181.6,1157.9 L1183.6,1157.9 L1185.6,1157.9 L1187.6,1157.9 L1189.6,1157.9 L1191.6,1158.0 L1193.6,1158.0 L1195.6,1158.0 L1197.6,1158.0 L1199.6,1158.0 L1201.6,1158.0 L1203.6,1158.0 L1205.6,1158.0 L1207.6,1158.0 L1209.6,1158.0 L1211.6,1158.0 L1213.6,1158.0 L1215.6,1158.0 L1217.6,1158.0 L1219.6,1158.0 L1221.6,1158.0 L1223.6,1158.0 L1225.6,1158.1 L1227.6,1158.1 L1229.6,1158.1 L1231.6,1158.1 L1233.6,1158.1 L1235.6,1158.1 L1237.6,1158.1 L1239.6,1158.1 L1241.6,1158.1 L1243.6,1158.1 L1245.6,1158.1 L1247.6,1158.1 L1249.6,1158.1 L1251.6,1158.1 L1253.6,1158.1 L1255.6,1158.1 L1257.6,1158.1 L1259.6,1158.1 L1261.6,1158.1 L1263.6,1158.1 L1265.6,1158.1 L1267.6,1158.1 L1269.6,1158.1 L1271.6,1158.1 L1273.6,1158.1 L1275.6,1158.1 L1277.6,1158.1 L1279.6,1158.1 L1281.6,1158.1 L1283.6,1158.1 L1285.6,1158.1 L1287.6,1158.2 L1289.6,1158.2 L1291.6,1158.2 L1293.6,1158.2 L1295.6,1158.2 L1297.6,1158.2 L1299.6,1158.2 L1301.6,1158.2 L1303.6,1158.2 L1305.6,1158.2 L1307.6,1158.2 L1309.6,1158.2 L1311.6,1158.2 L1313.6,1158.2 L1315.6,1158.2 L1317.6,1158.2 L1319.6,1158.2 L1321.6,1158.2 L1323.6,1158.2 L1325.6,1158.2 L1327.6,1158.2 L1329.6,1158.2 L1331.6,1158.2 L1333.6,1158.2 L1335.6,1158.2 L1337.6,1158.2 L1339.6,1158.2 L1341.6,1158.2 L1343.6,1158.2 L1345.6,1158.2 L1347.6,1158.2 L1349.6,1158.2 L1351.6,1158.2 L1353.6,1158.2 L1355.6,1158.2 L1357.6,1158.2 L1358.1,1158.2" fill="none" stroke="#000" stroke-width="2.8" stroke-linejoin="round" stroke-linecap="round"/>
<path d="M161.6,1134.1 L163.6,1133.6 L165.6,1133.1 L167.6,1132.4 L169.6,1131.8 L171.6,1131.2 L173.6,1130.5 L175.6,1129.9 L177.6,1129.3 L179.6,1128.7 L181.6,1128.0 L183.6,1127.4 L185.6,1126.8 L187.6,1126.2 L189.6,1125.6 L191.6,1125.0 L193.6,1124.4 L195.6,1123.8 L197.6,1123.2 L199.6,1122.6 L201.6,1122.1 L203.6,1121.5 L205.6,1121.0 L207.6,1120.5 L209.6,1120.0 L211.6,1119.5 L213.6,1119.0 L215.6,1118.5 L217.6,1118.0 L219.6,1117.5 L221.6,1117.0 L223.6,1116.5 L225.6,1116.0 L227.6,1115.5 L229.6,1115.0 L231.6,1114.5 L233.6,1114.0 L235.6,1113.5 L237.6,1113.0 L239.6,1112.5 L241.6,1112.0 L243.6,1111.5 L245.6,1111.0 L247.6,1110.5 L249.6,1110.0 L251.6,1109.5 L253.6,1109.0 L255.6,1108.5 L257.6,1108.0 L259.6,1107.5 L261.6,1107.0 L263.6,1106.5 L265.6,1106.0 L267.6,1105.5 L269.6,1105.0 L271.6,1104.5 L273.6,1104.0 L275.6,1103.5 L277.6,1103.0 L279.6,1102.5 L281.6,1102.0 L283.6,1101.5 L285.6,1101.0 L287.6,1100.5 L289.6,1099.9 L291.6,1099.4 L293.6,1098.9 L295.6,1098.3 L297.6,1097.8 L299.6,1097.3 L301.6,1096.7 L303.6,1096.3 L305.6,1095.8 L307.6,1095.4 L309.6,1095.1 L311.6,1094.7 L313.6,1094.4 L315.6,1094.1 L317.6,1093.8 L319.6,1093.5 L321.6,1093.3 L323.6,1093.0 L325.6,1092.8 L327.6,1092.7 L329.6,1092.5 L331.6,1092.4 L333.6,1092.3 L335.6,1092.2 L337.6,1092.2 L339.6,1092.1 L341.6,1092.0 L343.6,1092.0 L345.6,1092.0 L347.6,1092.1 L349.6,1092.2 L351.6,1092.3 L353.6,1092.4 L355.6,1092.6 L357.6,1092.7 L359.6,1092.9 L361.6,1093.1 L363.6,1093.3 L365.6,1093.6 L367.6,1093.9 L369.6,1094.2 L371.6,1094.5 L373.6,1094.8 L375.6,1095.1 L377.6,1095.5 L379.6,1095.8 L381.6,1096.1 L383.6,1096.4 L385.6,1096.7 L387.6,1097.0 L389.6,1097.3 L391.6,1097.6 L393.6,1097.9 L395.6,1098.2 L397.6,1098.5 L399.6,1098.8 L401.6,1099.1 L403.6,1099.4 L405.6,1099.6 L407.6,1099.9 L409.6,1100.2 L411.6,1100.5 L413.6,1100.8 L415.6,1101.1 L417.6,1101.3 L419.6,1101.6 L421.6,1101.8 L423.6,1102.0 L425.6,1102.2 L427.6,1102.4 L429.6,1102.6 L431.6,1102.8 L433.6,1102.9 L435.6,1103.1 L437.6,1103.2 L439.6,1103.4 L441.6,1103.5 L443.6,1103.7 L445.6,1103.9 L447.6,1104.1 L449.6,1104.2 L451.6,1104.4 L453.6,1104.6 L455.6,1104.8 L457.6,1105.0 L459.6,1105.2 L461.6,1105.4 L463.6,1105.6 L465.6,1105.8 L467.6,1106.0 L469.6,1106.3 L471.6,1106.5 L473.6,1106.8 L475.6,1107.0 L477.6,1107.3 L479.6,1107.5 L481.6,1107.8 L483.6,1108.1 L485.6,1108.4 L487.6,1108.7 L489.6,1109.0 L491.6,1109.4 L493.6,1109.7 L495.6,1110.0 L497.6,1110.4 L499.6,1110.8 L501.6,1111.1 L503.6,1111.5 L505.6,1111.9 L507.6,1112.4 L509.6,1112.8 L511.6,1113.3 L513.6,1113.8 L515.6,1114.3 L517.6,1114.8 L519.6,1115.4 L521.6,1115.9 L523.6,1116.5 L525.6,1117.1 L527.6,1117.7 L529.6,1118.3 L531.6,1118.8 L533.6,1119.4 L535.6,1120.0 L537.6,1120.6 L539.6,1121.2 L541.6,1121.8 L543.6,1122.3 L545.6,1122.9 L547.6,1123.5 L549.6,1124.1 L551.6,1124.8 L553.6,1125.4 L555.6,1126.0 L557.6,1126.6 L559.6,1127.2 L561.6,1127.8 L563.6,1128.4 L565.6,1129.1 L567.6,1129.7 L569.6,1130.3 L571.6,1130.9 L573.6,1131.5 L575.6,1132.1 L577.6,1132.8 L579.6,1133.4 L581.6,1134.0 L583.6,1134.7 L585.6,1135.3 L587.6,1135.9 L589.6,1136.5 L591.6,1137.1 L593.6,1137.7 L595.6,1138.3 L597.6,1138.8 L599.6,1139.3 L601.6,1139.8 L603.6,1140.3 L605.6,1140.8 L607.6,1141.3 L609.6,1141.7 L611.6,1142.2 L613.6,1142.6 L615.6,1143.1 L617.6,1143.5 L619.6,1143.9 L621.6,1144.3 L623.6,1144.7 L625.6,1145.1 L627.6,1145.4 L629.6,1145.8 L631.6,1146.1 L633.6,1146.4 L635.6,1146.6 L637.6,1146.9 L639.6,1147.2 L641.6,1147.4 L643.6,1147.7 L645.6,1147.9 L647.6,1148.1 L649.6,1148.4 L651.6,1148.6 L653.6,1148.8 L655.6,1149.0 L657.6,1149.1 L659.6,1149.3 L661.6,1149.4 L663.6,1149.5 L665.6,1149.6 L667.6,1149.7 L669.6,1149.8 L671.6,1149.9 L673.6,1149.9 L675.6,1150.0 L677.6,1150.0 L679.6,1150.1 L681.6,1150.2 L683.6,1150.2 L685.6,1150.2 L687.6,1150.3 L689.6,1150.3 L691.6,1150.3 L693.6,1150.4 L695.6,1150.4 L697.6,1150.4 L699.6,1150.4 L701.6,1150.4 L703.6,1150.4 L705.6,1150.4 L707.6,1150.3 L709.6,1150.3 L711.6,1150.3 L713.6,1150.3 L715.6,1150.2 L717.6,1150.2 L719.6,1150.1 L721.6,1150.1 L723.6,1150.1 L725.6,1150.0 L727.6,1150.0 L729.6,1149.9 L731.6,1149.9 L733.6,1149.9 L735.6,1149.8 L737.6,1149.8 L739.6,1149.8 L741.6,1149.7 L743.6,1149.7 L745.6,1149.7 L747.6,1149.7 L749.6,1149.7 L751.6,1149.8 L753.6,1149.8 L755.6,1149.9 L757.6,1149.9 L759.6,1150.0 L761.6,1150.1 L763.6,1150.3 L765.6,1150.4 L767.6,1150.5 L769.6,1150.6 L771.6,1150.8 L773.6,1150.9 L775.6,1151.1 L777.6,1151.2 L779.6,1151.3 L781.6,1151.5 L783.6,1151.6 L785.6,1151.8 L787.6,1151.9 L789.6,1152.1 L791.6,1152.3 L793.6,1152.5 L795.6,1152.7 L797.6,1152.9 L799.6,1153.0 L801.6,1153.2 L803.6,1153.4 L805.6,1153.5 L807.6,1153.7 L809.6,1153.8 L811.6,1153.9 L813.6,1154.0 L815.6,1154.1 L817.6,1154.2 L819.6,1154.2 L821.6,1154.3 L823.6,1154.4 L825.6,1154.4 L827.6,1154.5 L829.6,1154.6 L831.6,1154.6 L833.6,1154.7 L835.6,1154.7 L837.6,1154.8 L839.6,1154.8 L841.6,1154.8 L843.6,1154.9 L845.6,1154.9 L847.6,1155.0 L849.6,1155.0 L851.6,1155.1 L853.6,1155.1 L855.6,1155.2 L857.6,1155.2 L859.6,1155.2 L861.6,1155.3 L863.6,1155.4 L865.6,1155.4 L867.6,1155.5 L869.6,1155.5 L871.6,1155.6 L873.6,1155.6 L875.6,1155.7 L877.6,1155.8 L879.6,1155.8 L881.6,1155.9 L883.6,1155.9 L885.6,1156.0 L887.6,1156.0 L889.6,1156.1 L891.6,1156.1 L893.6,1156.1 L895.6,1156.2 L897.6,1156.2 L899.6,1156.2 L901.6,1156.2 L903.6,1156.2 L905.6,1156.2 L907.6,1156.2 L909.6,1156.2 L911.6,1156.2 L913.6,1156.2 L915.6,1156.2 L917.6,1156.2 L919.6,1156.2 L921.6,1156.2 L923.6,1156.2 L925.6,1156.2 L927.6,1156.3 L929.6,1156.3 L931.6,1156.3 L933.6,1156.3 L935.6,1156.3 L937.6,1156.3 L939.6,1156.3 L941.6,1156.3 L943.6,1156.3 L945.6,1156.3 L947.6,1156.3 L949.6,1156.3 L951.6,1156.3 L953.6,1156.3 L955.6,1156.3 L957.6,1156.3 L959.6,1156.3 L961.6,1156.3 L963.6,1156.3 L965.6,1156.3 L967.6,1156.3 L969.6,1156.3 L971.6,1156.3 L973.6,1156.3 L975.6,1156.3 L977.6,1156.3 L979.6,1156.3 L981.6,1156.3 L983.6,1156.3 L985.6,1156.3 L987.6,1156.3 L989.6,1156.3 L991.6,1156.3 L993.6,1156.3 L995.6,1156.3 L997.6,1156.3 L999.6,1156.3 L1001.6,1156.3 L1003.6,1156.3 L1005.6,1156.3 L1007.6,1156.3 L1009.6,1156.3 L1011.6,1156.3 L1013.6,1156.2 L1015.6,1156.2 L1017.6,1156.2 L1019.6,1156.2 L1021.6,1156.2 L1023.6,1156.1 L1025.6,1156.1 L1027.6,1156.1 L1029.6,1156.1 L1031.6,1156.0 L1033.6,1156.0 L1035.6,1156.0 L1037.6,1155.9 L1039.6,1155.9 L1041.6,1155.9 L1043.6,1155.8 L1045.6,1155.8 L1047.6,1155.7 L1049.6,1155.7 L1051.6,1155.7 L1053.6,1155.6 L1055.6,1155.6 L1057.6,1155.5 L1059.6,1155.5 L1061.6,1155.5 L1063.6,1155.4 L1065.6,1155.4 L1067.6,1155.3 L1069.6,1155.2 L1071.6,1155.2 L1073.6,1155.1 L1075.6,1155.0 L1077.6,1154.9 L1079.6,1154.9 L1081.6,1154.8 L1083.6,1154.7 L1085.6,1154.6 L1087.6,1154.5 L1089.6,1154.5 L1091.6,1154.4 L1093.6,1154.3 L1095.6,1154.2 L1097.6,1154.2 L1099.6,1154.1 L1101.6,1154.0 L1103.6,1154.0 L1105.6,1153.9 L1107.6,1153.9 L1109.6,1153.8 L1111.6,1153.8 L1113.6,1153.7 L1115.6,1153.7 L1117.6,1153.7 L1119.6,1153.6 L1121.6,1153.6 L1123.6,1153.5 L1125.6,1153.5 L1127.6,1153.5 L1129.6,1153.4 L1131.6,1153.4 L1133.6,1153.4 L1135.6,1153.4 L1137.6,1153.3 L1139.6,1153.3 L1141.6,1153.3 L1143.6,1153.3 L1145.6,1153.2 L1147.6,1153.2 L1149.6,1153.2 L1151.6,1153.2 L1153.6,1153.2 L1155.6,1153.2 L1157.6,1153.2 L1159.6,1153.2 L1161.6,1153.2 L1163.6,1153.2 L1165.6,1153.2 L1167.6,1153.2 L1169.6,1153.3 L1171.6,1153.3 L1173.6,1153.3 L1175.6,1153.3 L1177.6,1153.4 L1179.6,1153.4 L1181.6,1153.4 L1183.6,1153.4 L1185.6,1153.5 L1187.6,1153.5 L1189.6,1153.5 L1191.6,1153.6 L1193.6,1153.6 L1195.6,1153.7 L1197.6,1153.7 L1199.6,1153.7 L1201.6,1153.8 L1203.6,1153.8 L1205.6,1153.9 L1207.6,1153.9 L1209.6,1153.9 L1211.6,1154.0 L1213.6,1154.0 L1215.6,1154.1 L1217.6,1154.1 L1219.6,1154.2 L1221.6,1154.2 L1223.6,1154.3 L1225.6,1154.3 L1227.6,1154.3 L1229.6,1154.4 L1231.6,1154.4 L1233.6,1154.5 L1235.6,1154.5 L1237.6,1154.6 L1239.6,1154.7 L1241.6,1154.7 L1243.6,1154.8 L1245.6,1154.8 L1247.6,1154.9 L1249.6,1155.0 L1251.6,1155.1 L1253.6,1155.1 L1255.6,1155.2 L1257.6,1155.3 L1259.6,1155.3 L1261.6,1155.4 L1263.6,1155.5 L1265.6,1155.6 L1267.6,1155.6 L1269.6,1155.7 L1271.6,1155.8 L1273.6,1155.8 L1275.6,1155.9 L1277.6,1155.9 L1279.6,1156.0 L1281.6,1156.0 L1283.6,1156.1 L1285.6,1156.1 L1287.6,1156.2 L1289.6,1156.2 L1291.6,1156.2 L1293.6,1156.2 L1295.6,1156.3 L1297.6,1156.3 L1299.6,1156.3 L1301.6,1156.4 L1303.6,1156.4 L1305.6,1156.4 L1307.6,1156.4 L1309.6,1156.5 L1311.6,1156.5 L1313.6,1156.5 L1315.6,1156.5 L1317.6,1156.6 L1319.6,1156.6 L1321.6,1156.6 L1323.6,1156.6 L1325.6,1156.6 L1327.6,1156.7 L1329.6,1156.7 L1331.6,1156.7 L1333.6,1156.7 L1335.6,1156.7 L1337.6,1156.7 L1339.6,1156.7 L1341.6,1156.8 L1343.6,1156.8 L1345.6,1156.8 L1347.6,1156.8 L1349.6,1156.8 L1351.6,1156.8 L1353.6,1156.8 L1355.6,1156.8 L1357.6,1156.8 L1358.1,1156.8 L1358.1,1157.6 L161.6,1157.6 Z" fill="#E69F00" fill-opacity="0.5" stroke="none"/>
<path d="M161.6,1134.1 L163.6,1133.6 L165.6,1133.1 L167.6,1132.4 L169.6,1131.8 L171.6,1131.2 L173.6,1130.5 L175.6,1129.9 L177.6,1129.3 L179.6,1128.7 L181.6,1128.0 L183.6,1127.4 L185.6,1126.8 L187.6,1126.2 L189.6,1125.6 L191.6,1125.0 L193.6,1124.4 L195.6,1123.8 L197.6,1123.2 L199.6,1122.6 L201.6,1122.1 L203.6,1121.5 L205.6,1121.0 L207.6,1120.5 L209.6,1120.0 L211.6,1119.5 L213.6,1119.0 L215.6,1118.5 L217.6,1118.0 L219.6,1117.5 L221.6,1117.0 L223.6,1116.5 L225.6,1116.0 L227.6,1115.5 L229.6,1115.0 L231.6,1114.5 L233.6,1114.0 L235.6,1113.5 L237.6,1113.0 L239.6,1112.5 L241.6,1112.0 L243.6,1111.5 L245.6,1111.0 L247.6,1110.5 L249.6,1110.0 L251.6,1109.5 L253.6,1109.0 L255.6,1108.5 L257.6,1108.0 L259.6,1107.5 L261.6,1107.0 L263.6,1106.5 L265.6,1106.0 L267.6,1105.5 L269.6,1105.0 L271.6,1104.5 L273.6,1104.0 L275.6,1103.5 L277.6,1103.0 L279.6,1102.5 L281.6,1102.0 L283.6,1101.5 L285.6,1101.0 L287.6,1100.5 L289.6,1099.9 L291.6,1099.4 L293.6,1098.9 L295.6,1098.3 L297.6,1097.8 L299.6,1097.3 L301.6,1096.7 L303.6,1096.3 L305.6,1095.8 L307.6,1095.4 L309.6,1095.1 L311.6,1094.7 L313.6,1094.4 L315.6,1094.1 L317.6,1093.8 L319.6,1093.5 L321.6,1093.3 L323.6,1093.0 L325.6,1092.8 L327.6,1092.7 L329.6,1092.5 L331.6,1092.4 L333.6,1092.3 L335.6,1092.2 L337.6,1092.2 L339.6,1092.1 L341.6,1092.0 L343.6,1092.0 L345.6,1092.0 L347.6,1092.1 L349.6,1092.2 L351.6,1092.3 L353.6,1092.4 L355.6,1092.6 L357.6,1092.7 L359.6,1092.9 L361.6,1093.1 L363.6,1093.3 L365.6,1093.6 L367.6,1093.9 L369.6,1094.2 L371.6,1094.5 L373.6,1094.8 L375.6,1095.1 L377.6,1095.5 L379.6,1095.8 L381.6,1096.1 L383.6,1096.4 L385.6,1096.7 L387.6,1097.0 L389.6,1097.3 L391.6,1097.6 L393.6,1097.9 L395.6,1098.2 L397.6,1098.5 L399.6,1098.8 L401.6,1099.1 L403.6,1099.4 L405.6,1099.6 L407.6,1099.9 L409.6,1100.2 L411.6,1100.5 L413.6,1100.8 L415.6,1101.1 L417.6,1101.3 L419.6,1101.6 L421.6,1101.8 L423.6,1102.0 L425.6,1102.2 L427.6,1102.4 L429.6,1102.6 L431.6,1102.8 L433.6,1102.9 L435.6,1103.1 L437.6,1103.2 L439.6,1103.4 L441.6,1103.5 L443.6,1103.7 L445.6,1103.9 L447.6,1104.1 L449.6,1104.2 L451.6,1104.4 L453.6,1104.6 L455.6,1104.8 L457.6,1105.0 L459.6,1105.2 L461.6,1105.4 L463.6,1105.6 L465.6,1105.8 L467.6,1106.0 L469.6,1106.3 L471.6,1106.5 L473.6,1106.8 L475.6,1107.0 L477.6,1107.3 L479.6,1107.5 L481.6,1107.8 L483.6,1108.1 L485.6,1108.4 L487.6,1108.7 L489.6,1109.0 L491.6,1109.4 L493.6,1109.7 L495.6,1110.0 L497.6,1110.4 L499.6,1110.8 L501.6,1111.1 L503.6,1111.5 L505.6,1111.9 L507.6,1112.4 L509.6,1112.8 L511.6,1113.3 L513.6,1113.8 L515.6,1114.3 L517.6,1114.8 L519.6,1115.4 L521.6,1115.9 L523.6,1116.5 L525.6,1117.1 L527.6,1117.7 L529.6,1118.3 L531.6,1118.8 L533.6,1119.4 L535.6,1120.0 L537.6,1120.6 L539.6,1121.2 L541.6,1121.8 L543.6,1122.3 L545.6,1122.9 L547.6,1123.5 L549.6,1124.1 L551.6,1124.8 L553.6,1125.4 L555.6,1126.0 L557.6,1126.6 L559.6,1127.2 L561.6,1127.8 L563.6,1128.4 L565.6,1129.1 L567.6,1129.7 L569.6,1130.3 L571.6,1130.9 L573.6,1131.5 L575.6,1132.1 L577.6,1132.8 L579.6,1133.4 L581.6,1134.0 L583.6,1134.7 L585.6,1135.3 L587.6,1135.9 L589.6,1136.5 L591.6,1137.1 L593.6,1137.7 L595.6,1138.3 L597.6,1138.8 L599.6,1139.3 L601.6,1139.8 L603.6,1140.3 L605.6,1140.8 L607.6,1141.3 L609.6,1141.7 L611.6,1142.2 L613.6,1142.6 L615.6,1143.1 L617.6,1143.5 L619.6,1143.9 L621.6,1144.3 L623.6,1144.7 L625.6,1145.1 L627.6,1145.4 L629.6,1145.8 L631.6,1146.1 L633.6,1146.4 L635.6,1146.6 L637.6,1146.9 L639.6,1147.2 L641.6,1147.4 L643.6,1147.7 L645.6,1147.9 L647.6,1148.1 L649.6,1148.4 L651.6,1148.6 L653.6,1148.8 L655.6,1149.0 L657.6,1149.1 L659.6,1149.3 L661.6,1149.4 L663.6,1149.5 L665.6,1149.6 L667.6,1149.7 L669.6,1149.8 L671.6,1149.9 L673.6,1149.9 L675.6,1150.0 L677.6,1150.0 L679.6,1150.1 L681.6,1150.2 L683.6,1150.2 L685.6,1150.2 L687.6,1150.3 L689.6,1150.3 L691.6,1150.3 L693.6,1150.4 L695.6,1150.4 L697.6,1150.4 L699.6,1150.4 L701.6,1150.4 L703.6,1150.4 L705.6,1150.4 L707.6,1150.3 L709.6,1150.3 L711.6,1150.3 L713.6,1150.3 L715.6,1150.2 L717.6,1150.2 L719.6,1150.1 L721.6,1150.1 L723.6,1150.1 L725.6,1150.0 L727.6,1150.0 L729.6,1149.9 L731.6,1149.9 L733.6,1149.9 L735.6,1149.8 L737.6,1149.8 L739.6,1149.8 L741.6,1149.7 L743.6,1149.7 L745.6,1149.7 L747.6,1149.7 L749.6,1149.7 L751.6,1149.8 L753.6,1149.8 L755.6,1149.9 L757.6,1149.9 L759.6,1150.0 L761.6,1150.1 L763.6,1150.3 L765.6,1150.4 L767.6,1150.5 L769.6,1150.6 L771.6,1150.8 L773.6,1150.9 L775.6,1151.1 L777.6,1151.2 L779.6,1151.3 L781.6,1151.5 L783.6,1151.6 L785.6,1151.8 L787.6,1151.9 L789.6,1152.1 L791.6,1152.3 L793.6,1152.5 L795.6,1152.7 L797.6,1152.9 L799.6,1153.0 L801.6,1153.2 L803.6,1153.4 L805.6,1153.5 L807.6,1153.7 L809.6,1153.8 L811.6,1153.9 L813.6,1154.0 L815.6,1154.1 L817.6,1154.2 L819.6,1154.2 L821.6,1154.3 L823.6,1154.4 L825.6,1154.4 L827.6,1154.5 L829.6,1154.6 L831.6,1154.6 L833.6,1154.7 L835.6,1154.7 L837.6,1154.8 L839.6,1154.8 L841.6,1154.8 L843.6,1154.9 L845.6,1154.9 L847.6,1155.0 L849.6,1155.0 L851.6,1155.1 L853.6,1155.1 L855.6,1155.2 L857.6,1155.2 L859.6,1155.2 L861.6,1155.3 L863.6,1155.4 L865.6,1155.4 L867.6,1155.5 L869.6,1155.5 L871.6,1155.6 L873.6,1155.6 L875.6,1155.7 L877.6,1155.8 L879.6,1155.8 L881.6,1155.9 L883.6,1155.9 L885.6,1156.0 L887.6,1156.0 L889.6,1156.1 L891.6,1156.1 L893.6,1156.1 L895.6,1156.2 L897.6,1156.2 L899.6,1156.2 L901.6,1156.2 L903.6,1156.2 L905.6,1156.2 L907.6,1156.2 L909.6,1156.2 L911.6,1156.2 L913.6,1156.2 L915.6,1156.2 L917.6,1156.2 L919.6,1156.2 L921.6,1156.2 L923.6,1156.2 L925.6,1156.2 L927.6,1156.3 L929.6,1156.3 L931.6,1156.3 L933.6,1156.3 L935.6,1156.3 L937.6,1156.3 L939.6,1156.3 L941.6,1156.3 L943.6,1156.3 L945.6,1156.3 L947.6,1156.3 L949.6,1156.3 L951.6,1156.3 L953.6,1156.3 L955.6,1156.3 L957.6,1156.3 L959.6,1156.3 L961.6,1156.3 L963.6,1156.3 L965.6,1156.3 L967.6,1156.3 L969.6,1156.3 L971.6,1156.3 L973.6,1156.3 L975.6,1156.3 L977.6,1156.3 L979.6,1156.3 L981.6,1156.3 L983.6,1156.3 L985.6,1156.3 L987.6,1156.3 L989.6,1156.3 L991.6,1156.3 L993.6,1156.3 L995.6,1156.3 L997.6,1156.3 L999.6,1156.3 L1001.6,1156.3 L1003.6,1156.3 L1005.6,1156.3 L1007.6,1156.3 L1009.6,1156.3 L1011.6,1156.3 L1013.6,1156.2 L1015.6,1156.2 L1017.6,1156.2 L1019.6,1156.2 L1021.6,1156.2 L1023.6,1156.1 L1025.6,1156.1 L1027.6,1156.1 L1029.6,1156.1 L1031.6,1156.0 L1033.6,1156.0 L1035.6,1156.0 L1037.6,1155.9 L1039.6,1155.9 L1041.6,1155.9 L1043.6,1155.8 L1045.6,1155.8 L1047.6,1155.7 L1049.6,1155.7 L1051.6,1155.7 L1053.6,1155.6 L1055.6,1155.6 L1057.6,1155.5 L1059.6,1155.5 L1061.6,1155.5 L1063.6,1155.4 L1065.6,1155.4 L1067.6,1155.3 L1069.6,1155.2 L1071.6,1155.2 L1073.6,1155.1 L1075.6,1155.0 L1077.6,1154.9 L1079.6,1154.9 L1081.6,1154.8 L1083.6,1154.7 L1085.6,1154.6 L1087.6,1154.5 L1089.6,1154.5 L1091.6,1154.4 L1093.6,1154.3 L1095.6,1154.2 L1097.6,1154.2 L1099.6,1154.1 L1101.6,1154.0 L1103.6,1154.0 L1105.6,1153.9 L1107.6,1153.9 L1109.6,1153.8 L1111.6,1153.8 L1113.6,1153.7 L1115.6,1153.7 L1117.6,1153.7 L1119.6,1153.6 L1121.6,1153.6 L1123.6,1153.5 L1125.6,1153.5 L1127.6,1153.5 L1129.6,1153.4 L1131.6,1153.4 L1133.6,1153.4 L1135.6,1153.4 L1137.6,1153.3 L1139.6,1153.3 L1141.6,1153.3 L1143.6,1153.3 L1145.6,1153.2 L1147.6,1153.2 L1149.6,1153.2 L1151.6,1153.2 L1153.6,1153.2 L1155.6,1153.2 L1157.6,1153.2 L1159.6,1153.2 L1161.6,1153.2 L1163.6,1153.2 L1165.6,1153.2 L1167.6,1153.2 L1169.6,1153.3 L1171.6,1153.3 L1173.6,1153.3 L1175.6,1153.3 L1177.6,1153.4 L1179.6,1153.4 L1181.6,1153.4 L1183.6,1153.4 L1185.6,1153.5 L1187.6,1153.5 L1189.6,1153.5 L1191.6,1153.6 L1193.6,1153.6 L1195.6,1153.7 L1197.6,1153.7 L1199.6,1153.7 L1201.6,1153.8 L1203.6,1153.8 L1205.6,1153.9 L1207.6,1153.9 L1209.6,1153.9 L1211.6,1154.0 L1213.6,1154.0 L1215.6,1154.1 L1217.6,1154.1 L1219.6,1154.2 L1221.6,1154.2 L1223.6,1154.3 L1225.6,1154.3 L1227.6,1154.3 L1229.6,1154.4 L1231.6,1154.4 L1233.6,1154.5 L1235.6,1154.5 L1237.6,1154.6 L1239.6,1154.7 L1241.6,1154.7 L1243.6,1154.8 L1245.6,1154.8 L1247.6,1154.9 L1249.6,1155.0 L1251.6,1155.1 L1253.6,1155.1 L1255.6,1155.2 L1257.6,1155.3 L1259.6,1155.3 L1261.6,1155.4 L1263.6,1155.5 L1265.6,1155.6 L1267.6,1155.6 L1269.6,1155.7 L1271.6,1155.8 L1273.6,1155.8 L1275.6,1155.9 L1277.6,1155.9 L1279.6,1156.0 L1281.6,1156.0 L1283.6,1156.1 L1285.6,1156.1 L1287.6,1156.2 L1289.6,1156.2 L1291.6,1156.2 L1293.6,1156.2 L1295.6,1156.3 L1297.6,1156.3 L1299.6,1156.3 L1301.6,1156.4 L1303.6,1156.4 L1305.6,1156.4 L1307.6,1156.4 L1309.6,1156.5 L1311.6,1156.5 L1313.6,1156.5 L1315.6,1156.5 L1317.6,1156.6 L1319.6,1156.6 L1321.6,1156.6 L1323.6,1156.6 L1325.6,1156.6 L1327.6,1156.7 L1329.6,1156.7 L1331.6,1156.7 L1333.6,1156.7 L1335.6,1156.7 L1337.6,1156.7 L1339.6,1156.7 L1341.6,1156.8 L1343.6,1156.8 L1345.6,1156.8 L1347.6,1156.8 L1349.6,1156.8 L1351.6,1156.8 L1353.6,1156.8 L1355.6,1156.8 L1357.6,1156.8 L1358.1,1156.8" fill="none" stroke="#000" stroke-width="2.8" stroke-linejoin="round" stroke-linecap="round"/>
<text x="951.9" y="1056.8" font-size="39.7" font-weight="bold" fill="#000">Ostracod / Cladoeran</text>
<rect x="103" y="1021.6" width="1313" height="142.0" fill="none" stroke="#333333" stroke-width="2.0"/>
<line x1="94" x2="103" y1="1157.6" y2="1157.6" stroke="#333333" stroke-width="2.2"/>
<text x="88" y="1166.6" font-size="25.5" font-weight="bold" fill="#4D4D4D" text-anchor="end">0</text>
<line x1="94" x2="103" y1="1115.2" y2="1115.2" stroke="#333333" stroke-width="2.2"/>
<text x="88" y="1124.2" font-size="25.5" font-weight="bold" fill="#4D4D4D" text-anchor="end">1</text>
<line x1="94" x2="103" y1="1072.7" y2="1072.7" stroke="#333333" stroke-width="2.2"/>
<text x="88" y="1081.7" font-size="25.5" font-weight="bold" fill="#4D4D4D" text-anchor="end">2</text>
<line x1="94" x2="103" y1="1030.3" y2="1030.3" stroke="#333333" stroke-width="2.2"/>
<text x="88" y="1039.3" font-size="25.5" font-weight="bold" fill="#4D4D4D" text-anchor="end">3</text>
<line y1="1163.6" y2="1172.6" x1="197.0" x2="197.0" stroke="#333333" stroke-width="2.2"/>
<text x="197.0" y="1196.2" font-size="25.5" font-weight="bold" fill="#4D4D4D" text-anchor="middle">1.0</text>
<line y1="1163.6" y2="1172.6" x1="492.8" x2="492.8" stroke="#333333" stroke-width="2.2"/>
<text x="492.8" y="1196.2" font-size="25.5" font-weight="bold" fill="#4D4D4D" text-anchor="middle">1.5</text>
<line y1="1163.6" y2="1172.6" x1="788.5" x2="788.5" stroke="#333333" stroke-width="2.2"/>
<text x="788.5" y="1196.2" font-size="25.5" font-weight="bold" fill="#4D4D4D" text-anchor="middle">2.0</text>
<line y1="1163.6" y2="1172.6" x1="1084.2" x2="1084.2" stroke="#333333" stroke-width="2.2"/>
<text x="1084.2" y="1196.2" font-size="25.5" font-weight="bold" fill="#4D4D4D" text-anchor="middle">2.5</text>
<line y1="1163.6" y2="1172.6" x1="1380.0" x2="1380.0" stroke="#333333" stroke-width="2.2"/>
<text x="1380.0" y="1196.2" font-size="25.5" font-weight="bold" fill="#4D4D4D" text-anchor="middle">3.0</text>
<rect x="1140" y="47.3" width="45" height="46" fill="#999999" fill-opacity="0.75"/>
<rect x="1140" y="95.3" width="45" height="46.6" fill="#E69F00" fill-opacity="0.75"/>
<rect x="1140" y="47.3" width="45" height="46" fill="none" stroke="#000" stroke-width="4"/>
<rect x="1140" y="95.3" width="45" height="46.6" fill="none" stroke="#000" stroke-width="4"/>
<text x="1201.3" y="78.4" font-size="25.6" fill="#000">MOCNESS</text>
<text x="1202.1" y="127.6" font-size="25.6" fill="#000">UVP</text>
<text x="39.0" y="23.7" font-size="29.7" font-weight="bold" fill="#000">A</text>
<text x="52.7" y="227.0" font-size="29.7" font-weight="bold" fill="#000">B</text>
<text x="52.7" y="419.5" font-size="29.7" font-weight="bold" fill="#000">C</text>
<text x="52.7" y="615.8" font-size="29.7" font-weight="bold" fill="#000">D</text>
<text x="52.7" y="813.1" font-size="29.7" font-weight="bold" fill="#000">E</text>
<text x="52.7" y="1012.6" font-size="29.7" font-weight="bold" fill="#000">F</text>
<text x="681.5" y="1228.2" font-size="45" font-weight="bold" fill="#000">ESD [mm]</text>
<text transform="translate(40.5,837.6) rotate(-90)" x="0" y="0" font-size="56.3" font-weight="bold" fill="#000">Num. Individuals</text>
</svg></body></html>
